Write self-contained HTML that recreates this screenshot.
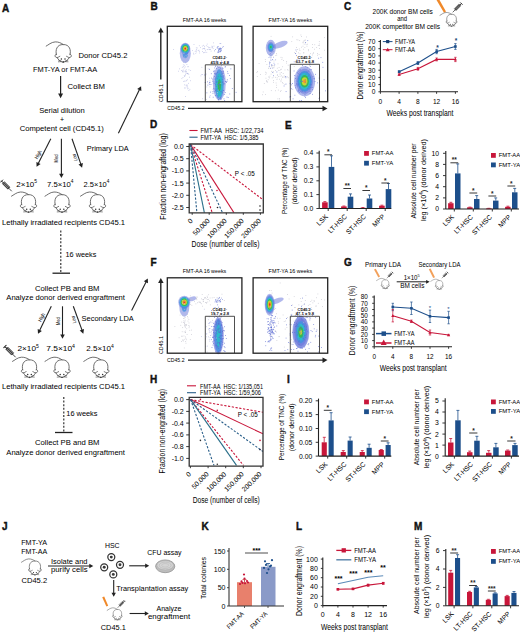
<!DOCTYPE html>
<html><head><meta charset="utf-8"><style>
html,body{margin:0;padding:0;background:#fff;}
svg{display:block;font-family:"Liberation Sans", sans-serif;}
</style></head><body>
<svg width="520" height="632" viewBox="0 0 520 632">

<defs>
<g id="mouse" fill="none" stroke="#555" stroke-width="0.85" stroke-linecap="round" stroke-linejoin="round">
  <path d="M0,4.6 C2,3.6 5,0.6 9,0.4 C12,0.3 15,1.4 17,3"/>
  <path d="M10.2,13.2 C9,8.6 10.5,3 17,3 C23.5,3 25,8.6 23.8,13.2"/>
  <path d="M10.2,12.6 C8.2,13 8.3,15.9 10.8,16 C12,16.1 12.6,15.1 13.6,14.8 M23.8,12.6 C25.8,13 25.7,15.9 23.2,16 C22,16.1 21.4,15.1 20.4,14.8"/>
  <path d="M10.8,16 C12,18.3 14.5,20.3 17,20.8 C19.5,20.3 22,18.3 23.2,16"/>
  <path d="M12.3,18.6 L15,19.6 M12.2,20.3 L15,20.1 M21.7,18.6 L19,19.6 M21.8,20.3 L19,20.1" stroke-width="0.7"/>
  <circle cx="15.2" cy="17.6" r="0.75" fill="#333" stroke="none"/><circle cx="18.8" cy="17.6" r="0.75" fill="#333" stroke="none"/>
  <circle cx="17" cy="20.4" r="0.8" fill="#333" stroke="none"/>
</g>
<g id="syr" stroke-linecap="round">
  <path d="M0.2,2.4 L2.4,0.2 M1.3,1.3 L3,3" stroke="#222" stroke-width="1" fill="none"/>
  <path d="M3.9,2.1 L2.1,3.9 L7.6,9.4 L9.4,7.6 Z" fill="#444" stroke="#222" stroke-width="0.6"/>
  <path d="M3.6,4 L7.6,8" stroke="#bbb" stroke-width="0.6"/>
  <path d="M8.6,8.6 L11.2,11.2" stroke="#222" stroke-width="0.8" fill="none"/>
</g>
<filter id="bl" x="-50%" y="-50%" width="200%" height="200%"><feGaussianBlur stdDeviation="0.6"/></filter>
<radialGradient id="hot1" cx="0.5" cy="0.45" r="0.5">
  <stop offset="0" stop-color="#e8201c"/>
  <stop offset="0.15" stop-color="#f2c21a"/>
  <stop offset="0.32" stop-color="#2db04a"/>
  <stop offset="0.55" stop-color="#22a6c8"/>
  <stop offset="0.8" stop-color="#2b4fb8" stop-opacity="0.85"/>
  <stop offset="1" stop-color="#3a50c0" stop-opacity="0"/>
</radialGradient>
<radialGradient id="grn" cx="0.5" cy="0.5" r="0.5">
  <stop offset="0" stop-color="#23b04e"/>
  <stop offset="0.35" stop-color="#1fa7b0"/>
  <stop offset="0.7" stop-color="#2a52c0" stop-opacity="0.9"/>
  <stop offset="1" stop-color="#3a50c0" stop-opacity="0"/>
</radialGradient>
<radialGradient id="yel" cx="0.5" cy="0.5" r="0.5">
  <stop offset="0" stop-color="#f0a020"/>
  <stop offset="0.12" stop-color="#c8d020"/>
  <stop offset="0.35" stop-color="#2eb24a"/>
  <stop offset="0.6" stop-color="#1e9cc8"/>
  <stop offset="0.85" stop-color="#2a4ec0" stop-opacity="0.85"/>
  <stop offset="1" stop-color="#3a50c0" stop-opacity="0"/>
</radialGradient>
<radialGradient id="blu" cx="0.5" cy="0.5" r="0.5">
  <stop offset="0" stop-color="#2a7ad0"/>
  <stop offset="0.6" stop-color="#2a52c0" stop-opacity="0.7"/>
  <stop offset="1" stop-color="#3a50c0" stop-opacity="0"/>
</radialGradient>
</defs>

<rect width="520" height="632" fill="#fff"/>
<text x="2.0" y="12.2" font-size="10" font-weight="bold" fill="#111" stroke="#111" stroke-width="0.4">A</text>
<use href="#mouse" transform="translate(46.2 41.5) scale(1.0)"/>
<text x="78.5" y="57.5" font-size="7.5" textLength="49.0" lengthAdjust="spacingAndGlyphs">Donor CD45.2</text>
<text x="33.0" y="71.8" font-size="7.5" textLength="64.3" lengthAdjust="spacingAndGlyphs">FMT-YA or FMT-AA</text>
<line x1="60.6" y1="76.0" x2="60.6" y2="94.5" stroke="#222" stroke-width="1.2"/>
<polygon points="60.6,98.2 58.1,93.6 63.1,93.6" fill="#222"/>
<text x="67.5" y="88.7" font-size="7.5" textLength="37.4" lengthAdjust="spacingAndGlyphs">Collect BM</text>
<text x="39.3" y="113.0" font-size="7.5" textLength="45.5" lengthAdjust="spacingAndGlyphs">Serial dilution</text>
<text x="62.0" y="121.6" font-size="7" text-anchor="middle">+</text>
<text x="19.7" y="131.4" font-size="7.5" textLength="84.2" lengthAdjust="spacingAndGlyphs">Competent cell (CD45.1)</text>
<line x1="50.8" y1="138.7" x2="38.1" y2="163.8" stroke="#222" stroke-width="1.1"/>
<polygon points="36.6,166.8 36.4,162.0 40.6,164.1" fill="#222"/>
<line x1="61.4" y1="138.7" x2="61.4" y2="174.6" stroke="#222" stroke-width="1.1"/>
<polygon points="61.4,178.0 59.1,173.8 63.7,173.8" fill="#222"/>
<line x1="72.0" y1="138.7" x2="81.0" y2="164.6" stroke="#222" stroke-width="1.1"/>
<polygon points="82.1,167.8 78.5,164.6 82.9,163.1" fill="#222"/>
<text x="39.8" y="155.5" font-size="5.2" text-anchor="middle" textLength="9.0" lengthAdjust="spacingAndGlyphs" transform="rotate(-61 39.8 155.5)">High</text>
<text x="58.3" y="158.5" font-size="5.2" text-anchor="middle" textLength="8.0" lengthAdjust="spacingAndGlyphs" transform="rotate(-90 58.3 158.5)">Med</text>
<text x="76.5" y="156.9" font-size="5.2" text-anchor="middle" textLength="7.5" lengthAdjust="spacingAndGlyphs" transform="rotate(-105 76.5 156.9)">Low</text>
<text x="86.8" y="151.3" font-size="7.5" textLength="41.9" lengthAdjust="spacingAndGlyphs">Primary LDA</text>
<line x1="118.4" y1="133.3" x2="139.6" y2="89.2" stroke="#222" stroke-width="1.1"/>
<polygon points="141.1,86.2 141.4,91.0 137.2,89.0" fill="#222"/>
<text x="16.3" y="186.6" font-size="7.5" textLength="20.8" lengthAdjust="spacingAndGlyphs">2×10<tspan font-size="4.7" dy="-3.4">5</tspan></text>
<text x="47.0" y="186.6" font-size="7.5" textLength="26.5" lengthAdjust="spacingAndGlyphs">7.5×10<tspan font-size="4.7" dy="-3.4">4</tspan></text>
<text x="83.6" y="186.6" font-size="7.5" textLength="25.8" lengthAdjust="spacingAndGlyphs">2.5×10<tspan font-size="4.7" dy="-3.4">4</tspan></text>
<use href="#syr" transform="translate(0.3 179.8) scale(1.0)"/>
<use href="#mouse" transform="translate(11.5 191.6) scale(1.0)"/>
<use href="#mouse" transform="translate(45.0 191.6) scale(1.0)"/>
<use href="#mouse" transform="translate(80.5 191.6) scale(1.0)"/>
<text x="2.0" y="225.2" font-size="7.5" textLength="123.0" lengthAdjust="spacingAndGlyphs">Lethally irradiated recipients CD45.1</text>
<line x1="60.8" y1="230.5" x2="60.8" y2="272.5" stroke="#222" stroke-width="1.1" stroke-dasharray="2,1.6"/>
<text x="65.5" y="257.0" font-size="7.5" textLength="30.8" lengthAdjust="spacingAndGlyphs">16 weeks</text>
<line x1="52.5" y1="273.2" x2="70.0" y2="273.2" stroke="#222" stroke-width="1.3"/>
<text x="35.0" y="290.5" font-size="7.5" textLength="64.5" lengthAdjust="spacingAndGlyphs">Collect PB and BM</text>
<text x="6.3" y="300.0" font-size="7.5" textLength="118.7" lengthAdjust="spacingAndGlyphs">Analyze donor derived engraftment</text>
<line x1="51.3" y1="306.3" x2="39.5" y2="330.8" stroke="#222" stroke-width="1.1"/>
<polygon points="38.0,333.8 37.7,329.0 41.9,331.0" fill="#222"/>
<line x1="62.5" y1="306.3" x2="62.5" y2="335.4" stroke="#222" stroke-width="1.1"/>
<polygon points="62.5,338.8 60.2,334.6 64.8,334.6" fill="#222"/>
<line x1="73.3" y1="306.3" x2="82.2" y2="330.6" stroke="#222" stroke-width="1.1"/>
<polygon points="83.3,333.8 79.7,330.6 84.0,329.1" fill="#222"/>
<text x="43.1" y="318.2" font-size="5.2" text-anchor="middle" textLength="9.0" lengthAdjust="spacingAndGlyphs" transform="rotate(-61 43.1 318.2)">High</text>
<text x="59.9" y="321.1" font-size="5.2" text-anchor="middle" textLength="8.0" lengthAdjust="spacingAndGlyphs" transform="rotate(-90 59.9 321.1)">Med</text>
<text x="75.4" y="319.0" font-size="5.2" text-anchor="middle" textLength="7.5" lengthAdjust="spacingAndGlyphs" transform="rotate(-105 75.4 319.0)">Low</text>
<text x="81.6" y="320.5" font-size="7.5" textLength="52.2" lengthAdjust="spacingAndGlyphs">Secondary LDA</text>
<line x1="131.6" y1="310.5" x2="146.3" y2="281.5" stroke="#222" stroke-width="1.1"/>
<polygon points="147.8,278.5 148.0,283.3 143.8,281.2" fill="#222"/>
<text x="17.5" y="351.0" font-size="7.5" textLength="21.3" lengthAdjust="spacingAndGlyphs">2×10<tspan font-size="4.7" dy="-3.4">5</tspan></text>
<text x="46.3" y="351.0" font-size="7.5" textLength="28.7" lengthAdjust="spacingAndGlyphs">7.5×10<tspan font-size="4.7" dy="-3.4">4</tspan></text>
<text x="86.3" y="351.0" font-size="7.5" textLength="27.5" lengthAdjust="spacingAndGlyphs">2.5×10<tspan font-size="4.7" dy="-3.4">4</tspan></text>
<use href="#syr" transform="translate(3.6 345.2) scale(1.05)"/>
<use href="#mouse" transform="translate(12.5 356.8) scale(1.0)"/>
<use href="#mouse" transform="translate(45.0 356.8) scale(1.0)"/>
<use href="#mouse" transform="translate(83.8 356.8) scale(1.0)"/>
<text x="2.0" y="389.3" font-size="7.5" textLength="123.0" lengthAdjust="spacingAndGlyphs">Lethally irradiated recipients CD45.1</text>
<line x1="63.8" y1="397.0" x2="63.8" y2="432.0" stroke="#222" stroke-width="1.1" stroke-dasharray="2,1.6"/>
<text x="66.3" y="415.8" font-size="7.5" textLength="31.2" lengthAdjust="spacingAndGlyphs">16 weeks</text>
<line x1="55.0" y1="432.5" x2="72.5" y2="432.5" stroke="#222" stroke-width="1.3"/>
<text x="35.0" y="445.3" font-size="7.5" textLength="64.5" lengthAdjust="spacingAndGlyphs">Collect PB and BM</text>
<text x="6.3" y="454.5" font-size="7.5" textLength="118.7" lengthAdjust="spacingAndGlyphs">Analyze donor derived engraftment</text>
<text x="150.6" y="10.2" font-size="10" font-weight="bold" fill="#111" stroke="#111" stroke-width="0.4">B</text>
<text x="182.8" y="21.8" font-size="6.2" textLength="43.5" lengthAdjust="spacingAndGlyphs">FMT-AA 16 weeks</text>
<g transform="translate(167.3 26.3)"><g filter="url(#bl)" opacity="0.95"><ellipse cx="18.0" cy="27.0" rx="5.50" ry="10.00" fill="#5a6ad8" fill-opacity="0.5"/><ellipse cx="18.0" cy="27.0" rx="2.75" ry="5.00" fill="#3a8ee0" fill-opacity="0.8"/><ellipse cx="18.0" cy="22.3" rx="5.00" ry="5.80" fill="#5a6ad8" fill-opacity="0.5"/><ellipse cx="18.0" cy="22.3" rx="4.29" ry="4.97" fill="#3a8ee0" fill-opacity="0.8"/><ellipse cx="18.0" cy="22.3" rx="3.57" ry="4.14" fill="#22b8c8" fill-opacity="1"/><ellipse cx="18.0" cy="22.3" rx="2.86" ry="3.31" fill="#2cb84a" fill-opacity="1"/><ellipse cx="18.0" cy="22.3" rx="2.14" ry="2.49" fill="#c8d428" fill-opacity="1"/><ellipse cx="18.0" cy="22.3" rx="1.43" ry="1.66" fill="#f09020" fill-opacity="1"/><ellipse cx="18.0" cy="22.3" rx="0.71" ry="0.83" fill="#e02020" fill-opacity="1"/><ellipse cx="52.0" cy="57.0" rx="6.50" ry="17.00" fill="#5a6ad8" fill-opacity="0.5"/><ellipse cx="52.0" cy="58.0" rx="4.50" ry="15.00" fill="#3a8ee0" fill-opacity="0.8"/><ellipse cx="52.0" cy="59.0" rx="3.20" ry="12.00" fill="#22b8c8" fill-opacity="1"/><ellipse cx="52.0" cy="59.0" rx="1.60" ry="6.00" fill="#2cb84a" fill-opacity="1"/></g><rect x="21.2" y="63.8" width="0.75" height="0.75" fill="#b4b8e0"/><rect x="18.2" y="35.1" width="0.75" height="0.75" fill="#b4b8e0"/><rect x="15.3" y="45.4" width="0.75" height="0.75" fill="#b4b8e0"/><rect x="15.4" y="26.3" width="0.75" height="0.75" fill="#b4b8e0"/><rect x="18.5" y="46.7" width="0.75" height="0.75" fill="#b4b8e0"/><rect x="19.4" y="33.1" width="0.75" height="0.75" fill="#b4b8e0"/><rect x="18.0" y="44.2" width="0.75" height="0.75" fill="#b4b8e0"/><rect x="14.2" y="52.0" width="0.75" height="0.75" fill="#b4b8e0"/><rect x="18.5" y="43.1" width="0.75" height="0.75" fill="#b4b8e0"/><rect x="21.1" y="47.6" width="0.75" height="0.75" fill="#b4b8e0"/><rect x="20.3" y="40.2" width="0.75" height="0.75" fill="#b4b8e0"/><rect x="18.5" y="58.3" width="0.75" height="0.75" fill="#b4b8e0"/><rect x="19.7" y="46.7" width="0.75" height="0.75" fill="#b4b8e0"/><rect x="15.3" y="50.8" width="0.75" height="0.75" fill="#b4b8e0"/><rect x="18.2" y="54.4" width="0.75" height="0.75" fill="#b4b8e0"/><rect x="18.5" y="59.1" width="0.75" height="0.75" fill="#b4b8e0"/><rect x="17.9" y="47.6" width="0.75" height="0.75" fill="#b4b8e0"/><rect x="19.7" y="30.9" width="0.75" height="0.75" fill="#b4b8e0"/><rect x="17.0" y="38.5" width="0.75" height="0.75" fill="#b4b8e0"/><rect x="23.0" y="43.8" width="0.75" height="0.75" fill="#b4b8e0"/><rect x="19.6" y="53.1" width="0.75" height="0.75" fill="#b4b8e0"/><rect x="17.3" y="24.8" width="0.75" height="0.75" fill="#b4b8e0"/><rect x="20.4" y="39.7" width="0.75" height="0.75" fill="#b4b8e0"/><rect x="19.8" y="28.0" width="0.75" height="0.75" fill="#b4b8e0"/><rect x="16.9" y="61.3" width="0.75" height="0.75" fill="#b4b8e0"/><rect x="21.6" y="28.1" width="0.75" height="0.75" fill="#b4b8e0"/><rect x="14.7" y="44.4" width="0.75" height="0.75" fill="#b4b8e0"/><rect x="19.8" y="47.1" width="0.75" height="0.75" fill="#b4b8e0"/><rect x="18.8" y="32.1" width="0.75" height="0.75" fill="#b4b8e0"/><rect x="19.5" y="59.5" width="0.75" height="0.75" fill="#b4b8e0"/><rect x="16.9" y="26.4" width="0.75" height="0.75" fill="#b4b8e0"/><rect x="16.1" y="54.9" width="0.75" height="0.75" fill="#b4b8e0"/><rect x="13.7" y="43.8" width="0.75" height="0.75" fill="#b4b8e0"/><rect x="15.5" y="43.3" width="0.75" height="0.75" fill="#b4b8e0"/><rect x="17.4" y="45.2" width="0.75" height="0.75" fill="#b4b8e0"/><rect x="21.8" y="50.5" width="0.75" height="0.75" fill="#b4b8e0"/><rect x="21.3" y="43.2" width="0.75" height="0.75" fill="#b4b8e0"/><rect x="16.8" y="49.9" width="0.75" height="0.75" fill="#b4b8e0"/><rect x="10.9" y="44.5" width="0.75" height="0.75" fill="#b4b8e0"/><rect x="18.4" y="28.9" width="0.75" height="0.75" fill="#b4b8e0"/><rect x="19.2" y="37.7" width="0.75" height="0.75" fill="#b4b8e0"/><rect x="11.9" y="42.2" width="0.75" height="0.75" fill="#b4b8e0"/><rect x="15.6" y="38.2" width="0.75" height="0.75" fill="#b4b8e0"/><rect x="17.6" y="61.3" width="0.75" height="0.75" fill="#b4b8e0"/><rect x="18.3" y="44.6" width="0.75" height="0.75" fill="#b4b8e0"/><rect x="19.0" y="21.4" width="0.75" height="0.75" fill="#b4b8e0"/><rect x="21.1" y="31.0" width="0.75" height="0.75" fill="#b4b8e0"/><rect x="19.1" y="30.4" width="0.75" height="0.75" fill="#b4b8e0"/><rect x="15.6" y="39.8" width="0.75" height="0.75" fill="#b4b8e0"/><rect x="22.7" y="54.1" width="0.75" height="0.75" fill="#b4b8e0"/><rect x="16.5" y="41.3" width="0.75" height="0.75" fill="#b4b8e0"/><rect x="15.1" y="44.6" width="0.75" height="0.75" fill="#b4b8e0"/><rect x="16.6" y="54.4" width="0.75" height="0.75" fill="#b4b8e0"/><rect x="14.6" y="40.6" width="0.75" height="0.75" fill="#b4b8e0"/><rect x="15.9" y="35.7" width="0.75" height="0.75" fill="#b4b8e0"/><rect x="19.8" y="46.6" width="0.75" height="0.75" fill="#b4b8e0"/><rect x="19.5" y="60.5" width="0.75" height="0.75" fill="#b4b8e0"/><rect x="20.9" y="27.2" width="0.75" height="0.75" fill="#b4b8e0"/><rect x="19.3" y="22.1" width="0.75" height="0.75" fill="#b4b8e0"/><rect x="17.8" y="69.9" width="0.75" height="0.75" fill="#b4b8e0"/><rect x="17.5" y="40.2" width="0.75" height="0.75" fill="#b4b8e0"/><rect x="18.4" y="45.2" width="0.75" height="0.75" fill="#b4b8e0"/><rect x="18.1" y="35.2" width="0.75" height="0.75" fill="#b4b8e0"/><rect x="20.7" y="56.6" width="0.75" height="0.75" fill="#b4b8e0"/><rect x="17.5" y="49.1" width="0.75" height="0.75" fill="#b4b8e0"/><rect x="19.6" y="58.4" width="0.75" height="0.75" fill="#b4b8e0"/><rect x="19.0" y="54.0" width="0.75" height="0.75" fill="#b4b8e0"/><rect x="17.3" y="31.1" width="0.75" height="0.75" fill="#b4b8e0"/><rect x="16.8" y="58.2" width="0.75" height="0.75" fill="#b4b8e0"/><rect x="20.4" y="46.9" width="0.75" height="0.75" fill="#b4b8e0"/><rect x="16.6" y="49.0" width="0.75" height="0.75" fill="#b4b8e0"/><rect x="22.2" y="62.6" width="0.75" height="0.75" fill="#b4b8e0"/><rect x="16.3" y="44.4" width="0.75" height="0.75" fill="#b4b8e0"/><rect x="14.4" y="30.2" width="0.75" height="0.75" fill="#b4b8e0"/><rect x="18.5" y="45.3" width="0.75" height="0.75" fill="#b4b8e0"/><rect x="20.4" y="61.5" width="0.75" height="0.75" fill="#b4b8e0"/><rect x="20.1" y="62.2" width="0.75" height="0.75" fill="#b4b8e0"/><rect x="16.6" y="30.3" width="0.75" height="0.75" fill="#b4b8e0"/><rect x="38.6" y="19.1" width="0.75" height="0.75" fill="#b4b8e0"/><rect x="37.4" y="25.6" width="0.75" height="0.75" fill="#b4b8e0"/><rect x="24.7" y="24.0" width="0.75" height="0.75" fill="#b4b8e0"/><rect x="28.9" y="25.2" width="0.75" height="0.75" fill="#b4b8e0"/><rect x="42.9" y="22.8" width="0.75" height="0.75" fill="#b4b8e0"/><rect x="55.0" y="21.0" width="0.75" height="0.75" fill="#b4b8e0"/><rect x="28.1" y="26.6" width="0.75" height="0.75" fill="#b4b8e0"/><rect x="26.2" y="27.5" width="0.75" height="0.75" fill="#b4b8e0"/><rect x="34.6" y="19.4" width="0.75" height="0.75" fill="#b4b8e0"/><rect x="35.0" y="22.3" width="0.75" height="0.75" fill="#b4b8e0"/><rect x="37.0" y="21.5" width="0.75" height="0.75" fill="#b4b8e0"/><rect x="45.8" y="16.2" width="0.75" height="0.75" fill="#b4b8e0"/><rect x="29.5" y="21.3" width="0.75" height="0.75" fill="#b4b8e0"/><rect x="53.2" y="17.0" width="0.75" height="0.75" fill="#b4b8e0"/><rect x="31.6" y="19.1" width="0.75" height="0.75" fill="#b4b8e0"/><rect x="28.4" y="23.6" width="0.75" height="0.75" fill="#b4b8e0"/><rect x="39.1" y="25.6" width="0.75" height="0.75" fill="#b4b8e0"/><rect x="29.0" y="22.7" width="0.75" height="0.75" fill="#b4b8e0"/><rect x="46.7" y="24.3" width="0.75" height="0.75" fill="#b4b8e0"/><rect x="31.6" y="24.8" width="0.75" height="0.75" fill="#b4b8e0"/><rect x="25.8" y="26.5" width="0.75" height="0.75" fill="#b4b8e0"/><rect x="36.5" y="21.7" width="0.75" height="0.75" fill="#b4b8e0"/><rect x="37.7" y="24.1" width="0.75" height="0.75" fill="#b4b8e0"/><rect x="52.4" y="21.6" width="0.75" height="0.75" fill="#b4b8e0"/><rect x="31.3" y="23.5" width="0.75" height="0.75" fill="#b4b8e0"/><rect x="26.3" y="17.8" width="0.75" height="0.75" fill="#b4b8e0"/><rect x="43.4" y="21.1" width="0.75" height="0.75" fill="#b4b8e0"/><rect x="46.3" y="19.4" width="0.75" height="0.75" fill="#b4b8e0"/><rect x="6.0" y="22.7" width="0.75" height="0.75" fill="#b4b8e0"/><rect x="36.5" y="26.0" width="0.75" height="0.75" fill="#b4b8e0"/><rect x="40.3" y="22.8" width="0.75" height="0.75" fill="#b4b8e0"/><rect x="40.9" y="21.1" width="0.75" height="0.75" fill="#b4b8e0"/><rect x="35.8" y="18.6" width="0.75" height="0.75" fill="#b4b8e0"/><rect x="40.2" y="20.0" width="0.75" height="0.75" fill="#b4b8e0"/><rect x="30.5" y="23.7" width="0.75" height="0.75" fill="#b4b8e0"/><rect x="44.2" y="19.5" width="0.75" height="0.75" fill="#b4b8e0"/><rect x="55.0" y="20.5" width="0.75" height="0.75" fill="#b4b8e0"/><rect x="43.4" y="24.4" width="0.75" height="0.75" fill="#b4b8e0"/><rect x="37.2" y="22.4" width="0.75" height="0.75" fill="#b4b8e0"/><rect x="53.0" y="24.2" width="0.75" height="0.75" fill="#b4b8e0"/><rect x="39.5" y="17.4" width="0.75" height="0.75" fill="#b4b8e0"/><rect x="27.5" y="24.9" width="0.75" height="0.75" fill="#b4b8e0"/><rect x="36.9" y="19.6" width="0.75" height="0.75" fill="#b4b8e0"/><rect x="28.6" y="21.2" width="0.75" height="0.75" fill="#b4b8e0"/><rect x="41.9" y="23.0" width="0.75" height="0.75" fill="#b4b8e0"/><rect x="45.0" y="20.0" width="0.75" height="0.75" fill="#b4b8e0"/><rect x="44.9" y="20.7" width="0.75" height="0.75" fill="#b4b8e0"/><rect x="32.0" y="26.3" width="0.75" height="0.75" fill="#b4b8e0"/><rect x="35.7" y="21.7" width="0.75" height="0.75" fill="#b4b8e0"/><rect x="32.9" y="21.0" width="0.75" height="0.75" fill="#b4b8e0"/><rect x="50.6" y="25.4" width="0.75" height="0.75" fill="#b4b8e0"/><rect x="42.2" y="22.5" width="0.75" height="0.75" fill="#b4b8e0"/><rect x="45.4" y="21.8" width="0.75" height="0.75" fill="#b4b8e0"/><rect x="39.5" y="23.0" width="0.75" height="0.75" fill="#b4b8e0"/><rect x="35.9" y="26.1" width="0.75" height="0.75" fill="#b4b8e0"/><rect x="52.6" y="25.3" width="0.75" height="0.75" fill="#b4b8e0"/><rect x="15.9" y="26.6" width="0.75" height="0.75" fill="#b4b8e0"/><rect x="42.0" y="20.9" width="0.75" height="0.75" fill="#b4b8e0"/><rect x="34.8" y="24.8" width="0.75" height="0.75" fill="#b4b8e0"/><rect x="46.7" y="24.1" width="0.75" height="0.75" fill="#b4b8e0"/><rect x="51.8" y="22.6" width="0.75" height="0.75" fill="#7a88d8"/><rect x="53.0" y="22.3" width="0.75" height="0.75" fill="#7a88d8"/><rect x="49.9" y="21.3" width="0.75" height="0.75" fill="#7a88d8"/><rect x="51.2" y="23.2" width="0.75" height="0.75" fill="#7a88d8"/><rect x="55.6" y="19.8" width="0.75" height="0.75" fill="#7a88d8"/><rect x="52.4" y="22.3" width="0.75" height="0.75" fill="#7a88d8"/><rect x="52.0" y="25.2" width="0.75" height="0.75" fill="#7a88d8"/><rect x="53.7" y="22.2" width="0.75" height="0.75" fill="#7a88d8"/><rect x="50.5" y="19.8" width="0.75" height="0.75" fill="#7a88d8"/><rect x="51.4" y="25.0" width="0.75" height="0.75" fill="#7a88d8"/><rect x="51.0" y="23.9" width="0.75" height="0.75" fill="#7a88d8"/><rect x="52.8" y="23.3" width="0.75" height="0.75" fill="#7a88d8"/><rect x="53.5" y="22.3" width="0.75" height="0.75" fill="#7a88d8"/><rect x="50.0" y="20.2" width="0.75" height="0.75" fill="#7a88d8"/><rect x="53.2" y="21.8" width="0.75" height="0.75" fill="#7a88d8"/><rect x="50.9" y="24.2" width="0.75" height="0.75" fill="#7a88d8"/><rect x="50.1" y="26.0" width="0.75" height="0.75" fill="#7a88d8"/><rect x="52.7" y="21.4" width="0.75" height="0.75" fill="#7a88d8"/><rect x="50.4" y="24.7" width="0.75" height="0.75" fill="#7a88d8"/><rect x="49.4" y="21.2" width="0.75" height="0.75" fill="#7a88d8"/><rect x="51.5" y="22.9" width="0.75" height="0.75" fill="#7a88d8"/><rect x="51.5" y="23.3" width="0.75" height="0.75" fill="#7a88d8"/><rect x="50.8" y="22.3" width="0.75" height="0.75" fill="#7a88d8"/><rect x="53.8" y="23.8" width="0.75" height="0.75" fill="#7a88d8"/><rect x="50.7" y="25.9" width="0.75" height="0.75" fill="#7a88d8"/><rect x="47.9" y="22.7" width="0.75" height="0.75" fill="#7a88d8"/><rect x="52.7" y="24.4" width="0.75" height="0.75" fill="#7a88d8"/><rect x="51.7" y="21.7" width="0.75" height="0.75" fill="#7a88d8"/><rect x="52.6" y="22.1" width="0.75" height="0.75" fill="#7a88d8"/><rect x="52.4" y="16.8" width="0.75" height="0.75" fill="#7a88d8"/><rect x="54.3" y="47.5" width="0.75" height="0.75" fill="#5a6ad0"/><rect x="57.6" y="66.0" width="0.75" height="0.75" fill="#5a6ad0"/><rect x="56.4" y="52.1" width="0.75" height="0.75" fill="#5a6ad0"/><rect x="54.6" y="52.9" width="0.75" height="0.75" fill="#5a6ad0"/><rect x="53.3" y="55.4" width="0.75" height="0.75" fill="#5a6ad0"/><rect x="56.3" y="32.3" width="0.75" height="0.75" fill="#5a6ad0"/><rect x="57.4" y="40.3" width="0.75" height="0.75" fill="#5a6ad0"/><rect x="50.6" y="50.0" width="0.75" height="0.75" fill="#5a6ad0"/><rect x="48.8" y="59.9" width="0.75" height="0.75" fill="#5a6ad0"/><rect x="50.0" y="39.6" width="0.75" height="0.75" fill="#5a6ad0"/><rect x="52.0" y="61.4" width="0.75" height="0.75" fill="#5a6ad0"/><rect x="62.6" y="52.0" width="0.75" height="0.75" fill="#5a6ad0"/><rect x="44.9" y="52.4" width="0.75" height="0.75" fill="#5a6ad0"/><rect x="55.9" y="46.4" width="0.75" height="0.75" fill="#5a6ad0"/><rect x="47.7" y="63.6" width="0.75" height="0.75" fill="#5a6ad0"/><rect x="51.9" y="59.7" width="0.75" height="0.75" fill="#5a6ad0"/><rect x="48.2" y="47.1" width="0.75" height="0.75" fill="#5a6ad0"/><rect x="50.1" y="55.2" width="0.75" height="0.75" fill="#5a6ad0"/><rect x="50.0" y="62.2" width="0.75" height="0.75" fill="#5a6ad0"/><rect x="55.3" y="63.6" width="0.75" height="0.75" fill="#5a6ad0"/><rect x="54.9" y="46.4" width="0.75" height="0.75" fill="#5a6ad0"/><rect x="45.3" y="66.6" width="0.75" height="0.75" fill="#5a6ad0"/><rect x="52.1" y="58.5" width="0.75" height="0.75" fill="#5a6ad0"/><rect x="45.0" y="54.5" width="0.75" height="0.75" fill="#5a6ad0"/><rect x="48.2" y="46.6" width="0.75" height="0.75" fill="#5a6ad0"/><rect x="48.2" y="39.1" width="0.75" height="0.75" fill="#5a6ad0"/><rect x="52.5" y="71.0" width="0.75" height="0.75" fill="#5a6ad0"/><rect x="47.8" y="58.1" width="0.75" height="0.75" fill="#5a6ad0"/><rect x="45.4" y="65.1" width="0.75" height="0.75" fill="#5a6ad0"/><rect x="63.2" y="42.2" width="0.75" height="0.75" fill="#5a6ad0"/><rect x="54.2" y="58.4" width="0.75" height="0.75" fill="#5a6ad0"/><rect x="39.7" y="55.2" width="0.75" height="0.75" fill="#5a6ad0"/><rect x="55.8" y="50.0" width="0.75" height="0.75" fill="#5a6ad0"/><rect x="47.9" y="35.2" width="0.75" height="0.75" fill="#5a6ad0"/><rect x="45.5" y="70.5" width="0.75" height="0.75" fill="#5a6ad0"/><rect x="51.3" y="40.9" width="0.75" height="0.75" fill="#5a6ad0"/><rect x="59.9" y="36.9" width="0.75" height="0.75" fill="#5a6ad0"/><rect x="59.6" y="53.1" width="0.75" height="0.75" fill="#5a6ad0"/><rect x="54.0" y="65.2" width="0.75" height="0.75" fill="#5a6ad0"/><rect x="53.6" y="72.3" width="0.75" height="0.75" fill="#5a6ad0"/><rect x="52.1" y="53.1" width="0.75" height="0.75" fill="#5a6ad0"/><rect x="48.0" y="39.7" width="0.75" height="0.75" fill="#5a6ad0"/><rect x="47.8" y="68.8" width="0.75" height="0.75" fill="#5a6ad0"/><rect x="57.0" y="73.7" width="0.75" height="0.75" fill="#5a6ad0"/><rect x="68.4" y="65.6" width="0.75" height="0.75" fill="#5a6ad0"/><rect x="55.0" y="41.2" width="0.75" height="0.75" fill="#5a6ad0"/><rect x="55.2" y="55.3" width="0.75" height="0.75" fill="#5a6ad0"/><rect x="53.9" y="34.3" width="0.75" height="0.75" fill="#5a6ad0"/><rect x="47.0" y="41.3" width="0.75" height="0.75" fill="#5a6ad0"/><rect x="39.2" y="66.2" width="0.75" height="0.75" fill="#5a6ad0"/><rect x="57.8" y="54.9" width="0.75" height="0.75" fill="#5a6ad0"/><rect x="54.1" y="44.9" width="0.75" height="0.75" fill="#5a6ad0"/><rect x="54.7" y="66.2" width="0.75" height="0.75" fill="#5a6ad0"/><rect x="54.9" y="55.5" width="0.75" height="0.75" fill="#5a6ad0"/><rect x="47.0" y="49.7" width="0.75" height="0.75" fill="#5a6ad0"/><rect x="55.7" y="63.8" width="0.75" height="0.75" fill="#5a6ad0"/><rect x="55.9" y="57.2" width="0.75" height="0.75" fill="#5a6ad0"/><rect x="50.9" y="57.9" width="0.75" height="0.75" fill="#5a6ad0"/><rect x="46.3" y="45.2" width="0.75" height="0.75" fill="#5a6ad0"/><rect x="54.1" y="50.0" width="0.75" height="0.75" fill="#5a6ad0"/><rect x="50.4" y="71.6" width="0.75" height="0.75" fill="#5a6ad0"/><rect x="50.8" y="72.8" width="0.75" height="0.75" fill="#5a6ad0"/><rect x="54.8" y="35.9" width="0.75" height="0.75" fill="#5a6ad0"/><rect x="59.4" y="54.5" width="0.75" height="0.75" fill="#5a6ad0"/><rect x="40.2" y="58.4" width="0.75" height="0.75" fill="#5a6ad0"/><rect x="52.9" y="41.5" width="0.75" height="0.75" fill="#5a6ad0"/><rect x="48.4" y="63.6" width="0.75" height="0.75" fill="#5a6ad0"/><rect x="60.5" y="70.7" width="0.75" height="0.75" fill="#5a6ad0"/><rect x="59.3" y="70.4" width="0.75" height="0.75" fill="#5a6ad0"/><rect x="37.1" y="48.3" width="0.75" height="0.75" fill="#5a6ad0"/><rect x="53.1" y="24.7" width="0.75" height="0.75" fill="#5a6ad0"/><rect x="56.6" y="67.7" width="0.75" height="0.75" fill="#5a6ad0"/><rect x="47.3" y="52.4" width="0.75" height="0.75" fill="#5a6ad0"/><rect x="46.4" y="56.8" width="0.75" height="0.75" fill="#5a6ad0"/><rect x="51.8" y="56.9" width="0.75" height="0.75" fill="#5a6ad0"/><rect x="45.9" y="61.6" width="0.75" height="0.75" fill="#5a6ad0"/><rect x="50.0" y="68.4" width="0.75" height="0.75" fill="#5a6ad0"/><rect x="53.9" y="39.2" width="0.75" height="0.75" fill="#5a6ad0"/><rect x="43.3" y="57.8" width="0.75" height="0.75" fill="#5a6ad0"/><rect x="49.1" y="62.6" width="0.75" height="0.75" fill="#5a6ad0"/><rect x="56.8" y="57.2" width="0.75" height="0.75" fill="#5a6ad0"/><rect x="41.9" y="42.7" width="0.75" height="0.75" fill="#5a6ad0"/><rect x="55.4" y="44.4" width="0.75" height="0.75" fill="#5a6ad0"/><rect x="58.7" y="55.9" width="0.75" height="0.75" fill="#5a6ad0"/><rect x="55.1" y="46.4" width="0.75" height="0.75" fill="#5a6ad0"/><rect x="51.4" y="21.5" width="0.75" height="0.75" fill="#5a6ad0"/><rect x="50.8" y="63.9" width="0.75" height="0.75" fill="#5a6ad0"/><rect x="46.6" y="46.9" width="0.75" height="0.75" fill="#5a6ad0"/><rect x="51.7" y="57.8" width="0.75" height="0.75" fill="#5a6ad0"/><rect x="47.2" y="65.1" width="0.75" height="0.75" fill="#5a6ad0"/><rect x="42.1" y="70.4" width="0.75" height="0.75" fill="#5a6ad0"/><rect x="43.6" y="47.1" width="0.75" height="0.75" fill="#5a6ad0"/><rect x="60.0" y="45.1" width="0.75" height="0.75" fill="#5a6ad0"/><rect x="42.1" y="57.9" width="0.75" height="0.75" fill="#5a6ad0"/><rect x="46.5" y="43.6" width="0.75" height="0.75" fill="#5a6ad0"/><rect x="47.8" y="48.1" width="0.75" height="0.75" fill="#5a6ad0"/><rect x="46.2" y="44.7" width="0.75" height="0.75" fill="#5a6ad0"/><rect x="61.7" y="48.9" width="0.75" height="0.75" fill="#5a6ad0"/><rect x="57.8" y="40.1" width="0.75" height="0.75" fill="#5a6ad0"/><rect x="55.3" y="42.0" width="0.75" height="0.75" fill="#5a6ad0"/><rect x="49.2" y="64.6" width="0.75" height="0.75" fill="#5a6ad0"/><rect x="48.8" y="33.4" width="0.75" height="0.75" fill="#5a6ad0"/><rect x="48.7" y="55.1" width="0.75" height="0.75" fill="#5a6ad0"/><rect x="55.4" y="45.0" width="0.75" height="0.75" fill="#5a6ad0"/><rect x="50.2" y="57.8" width="0.75" height="0.75" fill="#5a6ad0"/><rect x="42.1" y="55.7" width="0.75" height="0.75" fill="#5a6ad0"/><rect x="47.0" y="62.3" width="0.75" height="0.75" fill="#5a6ad0"/><rect x="51.3" y="55.0" width="0.75" height="0.75" fill="#5a6ad0"/><rect x="37.5" y="55.7" width="0.75" height="0.75" fill="#5a6ad0"/><rect x="49.8" y="45.7" width="0.75" height="0.75" fill="#5a6ad0"/><rect x="48.9" y="41.8" width="0.75" height="0.75" fill="#5a6ad0"/><rect x="53.0" y="64.9" width="0.75" height="0.75" fill="#5a6ad0"/><rect x="55.6" y="50.8" width="0.75" height="0.75" fill="#5a6ad0"/><rect x="62.1" y="67.3" width="0.75" height="0.75" fill="#5a6ad0"/><rect x="46.3" y="55.3" width="0.75" height="0.75" fill="#5a6ad0"/><rect x="42.2" y="55.6" width="0.75" height="0.75" fill="#5a6ad0"/><rect x="56.3" y="72.2" width="0.75" height="0.75" fill="#5a6ad0"/><rect x="49.5" y="35.5" width="0.75" height="0.75" fill="#5a6ad0"/><rect x="51.0" y="73.3" width="0.75" height="0.75" fill="#5a6ad0"/><rect x="52.9" y="72.3" width="0.75" height="0.75" fill="#5a6ad0"/><rect x="55.6" y="49.0" width="0.75" height="0.75" fill="#5a6ad0"/><rect x="48.9" y="34.7" width="0.75" height="0.75" fill="#5a6ad0"/><rect x="64.6" y="61.9" width="0.75" height="0.75" fill="#5a6ad0"/><rect x="48.2" y="49.7" width="0.75" height="0.75" fill="#5a6ad0"/><rect x="42.8" y="65.4" width="0.75" height="0.75" fill="#5a6ad0"/><rect x="52.9" y="49.4" width="0.75" height="0.75" fill="#5a6ad0"/><rect x="49.5" y="51.9" width="0.75" height="0.75" fill="#5a6ad0"/><rect x="58.4" y="54.8" width="0.75" height="0.75" fill="#5a6ad0"/><rect x="60.3" y="46.9" width="0.75" height="0.75" fill="#5a6ad0"/><rect x="48.3" y="51.2" width="0.75" height="0.75" fill="#5a6ad0"/><rect x="48.8" y="55.9" width="0.75" height="0.75" fill="#5a6ad0"/><rect x="51.2" y="72.1" width="0.75" height="0.75" fill="#b4b8e0"/><rect x="38.6" y="72.8" width="0.75" height="0.75" fill="#b4b8e0"/><rect x="44.0" y="51.6" width="0.75" height="0.75" fill="#b4b8e0"/><rect x="49.7" y="66.2" width="0.75" height="0.75" fill="#b4b8e0"/><rect x="42.2" y="60.2" width="0.75" height="0.75" fill="#b4b8e0"/><rect x="45.8" y="63.1" width="0.75" height="0.75" fill="#b4b8e0"/><rect x="34.7" y="47.9" width="0.75" height="0.75" fill="#b4b8e0"/><rect x="45.3" y="62.6" width="0.75" height="0.75" fill="#b4b8e0"/><rect x="41.9" y="42.4" width="0.75" height="0.75" fill="#b4b8e0"/><rect x="53.1" y="56.9" width="0.75" height="0.75" fill="#b4b8e0"/><rect x="51.8" y="70.4" width="0.75" height="0.75" fill="#b4b8e0"/><rect x="50.0" y="65.7" width="0.75" height="0.75" fill="#b4b8e0"/><rect x="39.2" y="60.3" width="0.75" height="0.75" fill="#b4b8e0"/><rect x="47.1" y="66.3" width="0.75" height="0.75" fill="#b4b8e0"/><rect x="47.9" y="49.9" width="0.75" height="0.75" fill="#b4b8e0"/><rect x="41.4" y="56.7" width="0.75" height="0.75" fill="#b4b8e0"/><rect x="43.8" y="51.3" width="0.75" height="0.75" fill="#b4b8e0"/><rect x="34.1" y="47.8" width="0.75" height="0.75" fill="#b4b8e0"/><rect x="46.8" y="59.9" width="0.75" height="0.75" fill="#b4b8e0"/><rect x="48.5" y="41.1" width="0.75" height="0.75" fill="#b4b8e0"/><rect x="42.5" y="68.9" width="0.75" height="0.75" fill="#b4b8e0"/><rect x="33.2" y="49.2" width="0.75" height="0.75" fill="#b4b8e0"/><rect x="35.0" y="72.1" width="0.75" height="0.75" fill="#b4b8e0"/><rect x="45.2" y="54.3" width="0.75" height="0.75" fill="#b4b8e0"/><rect x="45.9" y="59.1" width="0.75" height="0.75" fill="#b4b8e0"/><rect x="50.4" y="71.7" width="0.75" height="0.75" fill="#b4b8e0"/><rect x="50.5" y="63.4" width="0.75" height="0.75" fill="#b4b8e0"/><rect x="49.6" y="68.1" width="0.75" height="0.75" fill="#b4b8e0"/><rect x="52.0" y="41.6" width="0.75" height="0.75" fill="#b4b8e0"/><rect x="47.1" y="60.8" width="0.75" height="0.75" fill="#b4b8e0"/><rect x="46.0" y="57.5" width="0.75" height="0.75" fill="#b4b8e0"/><rect x="44.6" y="64.9" width="0.75" height="0.75" fill="#b4b8e0"/><rect x="46.2" y="61.3" width="0.75" height="0.75" fill="#b4b8e0"/><rect x="38.6" y="47.4" width="0.75" height="0.75" fill="#b4b8e0"/><rect x="40.5" y="42.2" width="0.75" height="0.75" fill="#b4b8e0"/><rect x="41.9" y="51.5" width="0.75" height="0.75" fill="#b4b8e0"/><rect x="34.2" y="40.6" width="0.75" height="0.75" fill="#b4b8e0"/><rect x="42.2" y="54.2" width="0.75" height="0.75" fill="#b4b8e0"/></g>
<rect x="167.3" y="26.3" width="74.6" height="75.4" fill="none" stroke="#222" stroke-width="1.3"/>
<path d="M205.3,101.7 V64.8 H234.3 V101.7" fill="none" stroke="#222" stroke-width="0.8"/>
<text x="219.8" y="59.3" font-size="3.9" text-anchor="middle" textLength="14.6" lengthAdjust="spacingAndGlyphs" font-weight="bold" fill="#111">CD45.2<tspan dy="-1" font-size="2.5">+</tspan></text>
<text x="219.8" y="63.7" font-size="3.9" text-anchor="middle" textLength="18.4" lengthAdjust="spacingAndGlyphs" font-weight="bold" fill="#111">45.6 ± 4.8</text>
<text x="268.6" y="21.8" font-size="6.2" textLength="43.5" lengthAdjust="spacingAndGlyphs">FMT-YA 16 weeks</text>
<g transform="translate(253.1 26.3)"><g filter="url(#bl)" opacity="0.95"><ellipse cx="27.0" cy="18.5" rx="8.00" ry="3.00" fill="#5a6ad8" fill-opacity="0.5" transform="rotate(-20 27.0 18.5)"/><ellipse cx="17.7" cy="21.5" rx="5.00" ry="8.00" fill="#5a6ad8" fill-opacity="0.5"/><ellipse cx="17.7" cy="21.5" rx="2.50" ry="4.00" fill="#3a8ee0" fill-opacity="0.8"/><ellipse cx="17.7" cy="20.8" rx="3.50" ry="5.00" fill="#5a6ad8" fill-opacity="0.5"/><ellipse cx="17.7" cy="20.8" rx="2.62" ry="3.75" fill="#3a8ee0" fill-opacity="0.8"/><ellipse cx="17.7" cy="20.8" rx="1.75" ry="2.50" fill="#22b8c8" fill-opacity="1"/><ellipse cx="17.7" cy="20.8" rx="0.88" ry="1.25" fill="#2cb84a" fill-opacity="1"/><ellipse cx="51.5" cy="55.0" rx="10.50" ry="15.00" fill="#5a6ad8" fill-opacity="0.5"/><ellipse cx="51.5" cy="55.0" rx="7.00" ry="10.00" fill="#3a8ee0" fill-opacity="0.8"/><ellipse cx="51.5" cy="55.0" rx="3.50" ry="5.00" fill="#22b8c8" fill-opacity="1"/><ellipse cx="51.5" cy="55.0" rx="8.50" ry="12.50" fill="#5a6ad8" fill-opacity="0.5"/><ellipse cx="51.5" cy="55.0" rx="7.08" ry="10.42" fill="#3a8ee0" fill-opacity="0.8"/><ellipse cx="51.5" cy="55.0" rx="5.67" ry="8.33" fill="#22b8c8" fill-opacity="1"/><ellipse cx="51.5" cy="55.0" rx="4.25" ry="6.25" fill="#2cb84a" fill-opacity="1"/><ellipse cx="51.5" cy="55.0" rx="2.83" ry="4.17" fill="#c8d428" fill-opacity="1"/><ellipse cx="51.5" cy="55.0" rx="1.42" ry="2.08" fill="#f09020" fill-opacity="1"/></g><rect x="40.7" y="40.0" width="0.75" height="0.75" fill="#c0c0cc"/><rect x="25.2" y="49.8" width="0.75" height="0.75" fill="#c0c0cc"/><rect x="28.7" y="31.2" width="0.75" height="0.75" fill="#c0c0cc"/><rect x="18.7" y="39.0" width="0.75" height="0.75" fill="#c0c0cc"/><rect x="13.4" y="37.9" width="0.75" height="0.75" fill="#c0c0cc"/><rect x="17.9" y="44.6" width="0.75" height="0.75" fill="#c0c0cc"/><rect x="14.7" y="53.1" width="0.75" height="0.75" fill="#c0c0cc"/><rect x="17.6" y="9.6" width="0.75" height="0.75" fill="#c0c0cc"/><rect x="31.5" y="43.3" width="0.75" height="0.75" fill="#c0c0cc"/><rect x="16.1" y="51.2" width="0.75" height="0.75" fill="#c0c0cc"/><rect x="23.8" y="48.6" width="0.75" height="0.75" fill="#c0c0cc"/><rect x="15.2" y="50.3" width="0.75" height="0.75" fill="#c0c0cc"/><rect x="9.7" y="65.3" width="0.75" height="0.75" fill="#c0c0cc"/><rect x="11.9" y="45.5" width="0.75" height="0.75" fill="#c0c0cc"/><rect x="22.2" y="50.6" width="0.75" height="0.75" fill="#c0c0cc"/><rect x="20.0" y="53.8" width="0.75" height="0.75" fill="#c0c0cc"/><rect x="19.7" y="41.2" width="0.75" height="0.75" fill="#c0c0cc"/><rect x="33.2" y="34.7" width="0.75" height="0.75" fill="#c0c0cc"/><rect x="20.3" y="22.0" width="0.75" height="0.75" fill="#c0c0cc"/><rect x="23.1" y="26.9" width="0.75" height="0.75" fill="#c0c0cc"/><rect x="26.6" y="46.3" width="0.75" height="0.75" fill="#c0c0cc"/><rect x="22.3" y="29.0" width="0.75" height="0.75" fill="#c0c0cc"/><rect x="12.5" y="51.5" width="0.75" height="0.75" fill="#c0c0cc"/><rect x="3.8" y="49.7" width="0.75" height="0.75" fill="#c0c0cc"/><rect x="6.9" y="47.9" width="0.75" height="0.75" fill="#c0c0cc"/><rect x="11.9" y="67.7" width="0.75" height="0.75" fill="#c0c0cc"/><rect x="29.2" y="40.1" width="0.75" height="0.75" fill="#c0c0cc"/><rect x="5.6" y="36.9" width="0.75" height="0.75" fill="#c0c0cc"/><rect x="20.5" y="34.3" width="0.75" height="0.75" fill="#c0c0cc"/><rect x="23.2" y="58.5" width="0.75" height="0.75" fill="#c0c0cc"/><rect x="20.5" y="41.1" width="0.75" height="0.75" fill="#c0c0cc"/><rect x="27.3" y="42.8" width="0.75" height="0.75" fill="#c0c0cc"/><rect x="27.8" y="42.5" width="0.75" height="0.75" fill="#c0c0cc"/><rect x="34.1" y="43.0" width="0.75" height="0.75" fill="#c0c0cc"/><rect x="12.3" y="47.6" width="0.75" height="0.75" fill="#c0c0cc"/><rect x="15.8" y="35.0" width="0.75" height="0.75" fill="#c0c0cc"/><rect x="19.9" y="55.6" width="0.75" height="0.75" fill="#c0c0cc"/><rect x="3.4" y="45.9" width="0.75" height="0.75" fill="#c0c0cc"/><rect x="19.7" y="44.7" width="0.75" height="0.75" fill="#c0c0cc"/><rect x="27.5" y="30.6" width="0.75" height="0.75" fill="#c0c0cc"/><rect x="26.4" y="43.7" width="0.75" height="0.75" fill="#c0c0cc"/><rect x="21.9" y="43.8" width="0.75" height="0.75" fill="#c0c0cc"/><rect x="18.3" y="40.1" width="0.75" height="0.75" fill="#c0c0cc"/><rect x="24.4" y="72.2" width="0.75" height="0.75" fill="#c0c0cc"/><rect x="29.6" y="57.0" width="0.75" height="0.75" fill="#c0c0cc"/><rect x="25.6" y="40.9" width="0.75" height="0.75" fill="#c0c0cc"/><rect x="26.1" y="72.0" width="0.75" height="0.75" fill="#c0c0cc"/><rect x="10.8" y="56.9" width="0.75" height="0.75" fill="#c0c0cc"/><rect x="29.4" y="50.3" width="0.75" height="0.75" fill="#c0c0cc"/><rect x="27.6" y="63.8" width="0.75" height="0.75" fill="#c0c0cc"/><rect x="39.3" y="62.8" width="0.75" height="0.75" fill="#c0c0cc"/><rect x="34.8" y="51.1" width="0.75" height="0.75" fill="#c0c0cc"/><rect x="28.1" y="49.2" width="0.75" height="0.75" fill="#c0c0cc"/><rect x="23.8" y="41.5" width="0.75" height="0.75" fill="#c0c0cc"/><rect x="27.0" y="64.8" width="0.75" height="0.75" fill="#c0c0cc"/><rect x="20.2" y="50.3" width="0.75" height="0.75" fill="#c0c0cc"/><rect x="26.6" y="47.6" width="0.75" height="0.75" fill="#c0c0cc"/><rect x="29.2" y="50.5" width="0.75" height="0.75" fill="#c0c0cc"/><rect x="12.1" y="34.9" width="0.75" height="0.75" fill="#c0c0cc"/><rect x="27.5" y="55.1" width="0.75" height="0.75" fill="#c0c0cc"/><rect x="30.6" y="50.5" width="0.75" height="0.75" fill="#c0c0cc"/><rect x="23.3" y="28.4" width="0.75" height="0.75" fill="#c0c0cc"/><rect x="33.0" y="36.4" width="0.75" height="0.75" fill="#c0c0cc"/><rect x="30.1" y="33.7" width="0.75" height="0.75" fill="#c0c0cc"/><rect x="16.4" y="49.5" width="0.75" height="0.75" fill="#c0c0cc"/><rect x="18.3" y="39.1" width="0.75" height="0.75" fill="#c0c0cc"/><rect x="29.0" y="55.8" width="0.75" height="0.75" fill="#c0c0cc"/><rect x="25.0" y="43.6" width="0.75" height="0.75" fill="#c0c0cc"/><rect x="15.1" y="41.9" width="0.75" height="0.75" fill="#c0c0cc"/><rect x="17.6" y="47.4" width="0.75" height="0.75" fill="#c0c0cc"/><rect x="28.0" y="45.7" width="0.75" height="0.75" fill="#c0c0cc"/><rect x="15.4" y="40.3" width="0.75" height="0.75" fill="#c0c0cc"/><rect x="32.2" y="49.7" width="0.75" height="0.75" fill="#c0c0cc"/><rect x="23.7" y="51.2" width="0.75" height="0.75" fill="#c0c0cc"/><rect x="26.6" y="49.5" width="0.75" height="0.75" fill="#c0c0cc"/><rect x="31.4" y="57.7" width="0.75" height="0.75" fill="#c0c0cc"/><rect x="45.6" y="32.4" width="0.75" height="0.75" fill="#c0c0cc"/><rect x="23.0" y="60.9" width="0.75" height="0.75" fill="#c0c0cc"/><rect x="21.9" y="64.1" width="0.75" height="0.75" fill="#c0c0cc"/><rect x="11.8" y="32.9" width="0.75" height="0.75" fill="#c0c0cc"/><rect x="20.4" y="39.1" width="0.75" height="0.75" fill="#c0c0cc"/><rect x="13.3" y="54.8" width="0.75" height="0.75" fill="#c0c0cc"/><rect x="24.1" y="48.1" width="0.75" height="0.75" fill="#c0c0cc"/><rect x="18.7" y="51.2" width="0.75" height="0.75" fill="#c0c0cc"/><rect x="21.0" y="39.2" width="0.75" height="0.75" fill="#c0c0cc"/><rect x="26.1" y="52.5" width="0.75" height="0.75" fill="#c0c0cc"/><rect x="22.6" y="56.3" width="0.75" height="0.75" fill="#c0c0cc"/><rect x="13.1" y="46.3" width="0.75" height="0.75" fill="#c0c0cc"/><rect x="17.8" y="64.0" width="0.75" height="0.75" fill="#c0c0cc"/><rect x="26.1" y="73.4" width="0.75" height="0.75" fill="#c0c0cc"/><rect x="34.6" y="43.5" width="0.75" height="0.75" fill="#c0c0cc"/><rect x="13.2" y="53.8" width="0.75" height="0.75" fill="#c0c0cc"/><rect x="19.7" y="46.1" width="0.75" height="0.75" fill="#c0c0cc"/><rect x="13.5" y="55.2" width="0.75" height="0.75" fill="#c0c0cc"/><rect x="23.5" y="52.8" width="0.75" height="0.75" fill="#c0c0cc"/><rect x="24.5" y="37.2" width="0.75" height="0.75" fill="#c0c0cc"/><rect x="4.1" y="44.7" width="0.75" height="0.75" fill="#c0c0cc"/><rect x="16.9" y="41.7" width="0.75" height="0.75" fill="#c0c0cc"/><rect x="29.7" y="46.8" width="0.75" height="0.75" fill="#c0c0cc"/><rect x="34.1" y="50.2" width="0.75" height="0.75" fill="#c0c0cc"/><rect x="27.5" y="54.1" width="0.75" height="0.75" fill="#c0c0cc"/><rect x="28.4" y="32.9" width="0.75" height="0.75" fill="#c0c0cc"/><rect x="30.7" y="49.3" width="0.75" height="0.75" fill="#c0c0cc"/><rect x="14.2" y="55.4" width="0.75" height="0.75" fill="#c0c0cc"/><rect x="24.8" y="63.4" width="0.75" height="0.75" fill="#c0c0cc"/><rect x="27.9" y="52.4" width="0.75" height="0.75" fill="#c0c0cc"/><rect x="8.9" y="68.1" width="0.75" height="0.75" fill="#c0c0cc"/><rect x="63.9" y="26.7" width="0.75" height="0.75" fill="#c0c0cc"/><rect x="55.7" y="29.3" width="0.75" height="0.75" fill="#c0c0cc"/><rect x="45.1" y="26.2" width="0.75" height="0.75" fill="#c0c0cc"/><rect x="52.2" y="16.0" width="0.75" height="0.75" fill="#c0c0cc"/><rect x="54.9" y="24.1" width="0.75" height="0.75" fill="#c0c0cc"/><rect x="65.6" y="27.7" width="0.75" height="0.75" fill="#c0c0cc"/><rect x="39.2" y="10.2" width="0.75" height="0.75" fill="#c0c0cc"/><rect x="51.4" y="20.7" width="0.75" height="0.75" fill="#c0c0cc"/><rect x="44.5" y="13.3" width="0.75" height="0.75" fill="#c0c0cc"/><rect x="50.4" y="15.1" width="0.75" height="0.75" fill="#c0c0cc"/><rect x="46.5" y="27.2" width="0.75" height="0.75" fill="#c0c0cc"/><rect x="53.9" y="17.5" width="0.75" height="0.75" fill="#c0c0cc"/><rect x="43.0" y="20.9" width="0.75" height="0.75" fill="#c0c0cc"/><rect x="65.9" y="19.0" width="0.75" height="0.75" fill="#c0c0cc"/><rect x="65.8" y="17.3" width="0.75" height="0.75" fill="#c0c0cc"/><rect x="50.3" y="26.2" width="0.75" height="0.75" fill="#c0c0cc"/><rect x="45.8" y="22.3" width="0.75" height="0.75" fill="#c0c0cc"/><rect x="41.2" y="26.0" width="0.75" height="0.75" fill="#c0c0cc"/><rect x="61.3" y="18.1" width="0.75" height="0.75" fill="#c0c0cc"/><rect x="53.5" y="19.5" width="0.75" height="0.75" fill="#c0c0cc"/><rect x="34.7" y="38.5" width="0.75" height="0.75" fill="#c0c0cc"/><rect x="57.0" y="27.0" width="0.75" height="0.75" fill="#c0c0cc"/><rect x="55.1" y="23.0" width="0.75" height="0.75" fill="#c0c0cc"/><rect x="71.0" y="11.0" width="0.75" height="0.75" fill="#c0c0cc"/><rect x="49.5" y="19.5" width="0.75" height="0.75" fill="#c0c0cc"/><rect x="50.3" y="26.2" width="0.75" height="0.75" fill="#c0c0cc"/><rect x="46.2" y="14.0" width="0.75" height="0.75" fill="#c0c0cc"/><rect x="43.0" y="24.7" width="0.75" height="0.75" fill="#c0c0cc"/><rect x="59.6" y="26.8" width="0.75" height="0.75" fill="#c0c0cc"/><rect x="64.8" y="18.9" width="0.75" height="0.75" fill="#c0c0cc"/><rect x="59.9" y="26.1" width="0.75" height="0.75" fill="#c0c0cc"/><rect x="50.7" y="17.5" width="0.75" height="0.75" fill="#c0c0cc"/><rect x="59.0" y="17.9" width="0.75" height="0.75" fill="#c0c0cc"/><rect x="49.6" y="16.2" width="0.75" height="0.75" fill="#c0c0cc"/><rect x="66.0" y="21.7" width="0.75" height="0.75" fill="#c0c0cc"/><rect x="48.0" y="20.5" width="0.75" height="0.75" fill="#c0c0cc"/><rect x="50.2" y="22.5" width="0.75" height="0.75" fill="#c0c0cc"/><rect x="38.3" y="15.0" width="0.75" height="0.75" fill="#c0c0cc"/><rect x="56.0" y="28.5" width="0.75" height="0.75" fill="#c0c0cc"/><rect x="43.9" y="22.7" width="0.75" height="0.75" fill="#c0c0cc"/><rect x="47.4" y="8.3" width="0.75" height="0.75" fill="#c0c0cc"/><rect x="49.5" y="15.5" width="0.75" height="0.75" fill="#c0c0cc"/><rect x="59.0" y="20.7" width="0.75" height="0.75" fill="#c0c0cc"/><rect x="51.7" y="13.2" width="0.75" height="0.75" fill="#c0c0cc"/><rect x="53.1" y="10.3" width="0.75" height="0.75" fill="#c0c0cc"/><rect x="53.7" y="30.3" width="0.75" height="0.75" fill="#c0c0cc"/><rect x="42.3" y="27.1" width="0.75" height="0.75" fill="#c0c0cc"/><rect x="63.2" y="20.8" width="0.75" height="0.75" fill="#c0c0cc"/><rect x="60.9" y="22.5" width="0.75" height="0.75" fill="#c0c0cc"/><rect x="48.0" y="9.9" width="0.75" height="0.75" fill="#c0c0cc"/><rect x="43.4" y="13.1" width="0.75" height="0.75" fill="#c0c0cc"/><rect x="71.1" y="23.5" width="0.75" height="0.75" fill="#c0c0cc"/><rect x="50.6" y="13.9" width="0.75" height="0.75" fill="#c0c0cc"/><rect x="65.8" y="15.0" width="0.75" height="0.75" fill="#c0c0cc"/><rect x="63.9" y="28.5" width="0.75" height="0.75" fill="#c0c0cc"/><rect x="52.6" y="18.0" width="0.75" height="0.75" fill="#c0c0cc"/><rect x="51.6" y="14.0" width="0.75" height="0.75" fill="#c0c0cc"/><rect x="57.2" y="32.1" width="0.75" height="0.75" fill="#c0c0cc"/><rect x="59.1" y="28.3" width="0.75" height="0.75" fill="#c0c0cc"/><rect x="46.4" y="23.8" width="0.75" height="0.75" fill="#c0c0cc"/><rect x="41.2" y="48.7" width="0.75" height="0.75" fill="#5a6ad0"/><rect x="52.2" y="55.5" width="0.75" height="0.75" fill="#5a6ad0"/><rect x="32.5" y="57.4" width="0.75" height="0.75" fill="#5a6ad0"/><rect x="42.4" y="35.3" width="0.75" height="0.75" fill="#5a6ad0"/><rect x="36.6" y="57.0" width="0.75" height="0.75" fill="#5a6ad0"/><rect x="47.5" y="64.5" width="0.75" height="0.75" fill="#5a6ad0"/><rect x="49.1" y="54.9" width="0.75" height="0.75" fill="#5a6ad0"/><rect x="66.2" y="66.3" width="0.75" height="0.75" fill="#5a6ad0"/><rect x="53.7" y="41.1" width="0.75" height="0.75" fill="#5a6ad0"/><rect x="43.5" y="33.0" width="0.75" height="0.75" fill="#5a6ad0"/><rect x="55.0" y="49.3" width="0.75" height="0.75" fill="#5a6ad0"/><rect x="56.6" y="66.7" width="0.75" height="0.75" fill="#5a6ad0"/><rect x="43.3" y="57.6" width="0.75" height="0.75" fill="#5a6ad0"/><rect x="64.2" y="56.2" width="0.75" height="0.75" fill="#5a6ad0"/><rect x="60.8" y="52.2" width="0.75" height="0.75" fill="#5a6ad0"/><rect x="42.0" y="51.7" width="0.75" height="0.75" fill="#5a6ad0"/><rect x="32.6" y="65.0" width="0.75" height="0.75" fill="#5a6ad0"/><rect x="46.3" y="73.9" width="0.75" height="0.75" fill="#5a6ad0"/><rect x="39.1" y="56.8" width="0.75" height="0.75" fill="#5a6ad0"/><rect x="54.9" y="52.1" width="0.75" height="0.75" fill="#5a6ad0"/><rect x="55.3" y="44.4" width="0.75" height="0.75" fill="#5a6ad0"/><rect x="40.7" y="35.2" width="0.75" height="0.75" fill="#5a6ad0"/><rect x="45.8" y="43.5" width="0.75" height="0.75" fill="#5a6ad0"/><rect x="53.9" y="49.8" width="0.75" height="0.75" fill="#5a6ad0"/><rect x="44.8" y="44.6" width="0.75" height="0.75" fill="#5a6ad0"/><rect x="32.3" y="49.8" width="0.75" height="0.75" fill="#5a6ad0"/><rect x="55.7" y="36.2" width="0.75" height="0.75" fill="#5a6ad0"/><rect x="48.9" y="64.5" width="0.75" height="0.75" fill="#5a6ad0"/><rect x="44.5" y="57.7" width="0.75" height="0.75" fill="#5a6ad0"/><rect x="65.6" y="71.7" width="0.75" height="0.75" fill="#5a6ad0"/><rect x="44.6" y="64.2" width="0.75" height="0.75" fill="#5a6ad0"/><rect x="49.8" y="60.1" width="0.75" height="0.75" fill="#5a6ad0"/><rect x="45.7" y="57.2" width="0.75" height="0.75" fill="#5a6ad0"/><rect x="43.7" y="59.1" width="0.75" height="0.75" fill="#5a6ad0"/><rect x="69.3" y="35.6" width="0.75" height="0.75" fill="#5a6ad0"/><rect x="38.2" y="62.1" width="0.75" height="0.75" fill="#5a6ad0"/><rect x="59.5" y="49.7" width="0.75" height="0.75" fill="#5a6ad0"/><rect x="57.5" y="61.0" width="0.75" height="0.75" fill="#5a6ad0"/><rect x="44.9" y="64.4" width="0.75" height="0.75" fill="#5a6ad0"/><rect x="53.5" y="45.2" width="0.75" height="0.75" fill="#5a6ad0"/><rect x="56.6" y="36.5" width="0.75" height="0.75" fill="#5a6ad0"/><rect x="36.4" y="70.3" width="0.75" height="0.75" fill="#5a6ad0"/><rect x="62.1" y="47.6" width="0.75" height="0.75" fill="#5a6ad0"/><rect x="42.5" y="23.3" width="0.75" height="0.75" fill="#5a6ad0"/><rect x="50.7" y="31.7" width="0.75" height="0.75" fill="#5a6ad0"/><rect x="67.5" y="31.0" width="0.75" height="0.75" fill="#5a6ad0"/><rect x="52.1" y="16.1" width="0.75" height="0.75" fill="#5a6ad0"/><rect x="47.9" y="73.9" width="0.75" height="0.75" fill="#5a6ad0"/><rect x="46.9" y="43.2" width="0.75" height="0.75" fill="#5a6ad0"/><rect x="46.6" y="60.3" width="0.75" height="0.75" fill="#5a6ad0"/><rect x="60.5" y="51.6" width="0.75" height="0.75" fill="#5a6ad0"/><rect x="30.6" y="59.3" width="0.75" height="0.75" fill="#5a6ad0"/><rect x="53.2" y="57.4" width="0.75" height="0.75" fill="#5a6ad0"/><rect x="45.9" y="65.6" width="0.75" height="0.75" fill="#5a6ad0"/><rect x="69.5" y="40.6" width="0.75" height="0.75" fill="#5a6ad0"/><rect x="52.3" y="40.0" width="0.75" height="0.75" fill="#5a6ad0"/><rect x="44.4" y="52.3" width="0.75" height="0.75" fill="#5a6ad0"/><rect x="56.5" y="43.0" width="0.75" height="0.75" fill="#5a6ad0"/><rect x="56.6" y="64.9" width="0.75" height="0.75" fill="#5a6ad0"/><rect x="55.5" y="52.2" width="0.75" height="0.75" fill="#5a6ad0"/><rect x="55.7" y="62.4" width="0.75" height="0.75" fill="#5a6ad0"/><rect x="51.4" y="69.6" width="0.75" height="0.75" fill="#5a6ad0"/><rect x="51.5" y="67.8" width="0.75" height="0.75" fill="#5a6ad0"/><rect x="51.7" y="65.4" width="0.75" height="0.75" fill="#5a6ad0"/><rect x="44.5" y="46.9" width="0.75" height="0.75" fill="#5a6ad0"/><rect x="39.6" y="72.2" width="0.75" height="0.75" fill="#5a6ad0"/><rect x="56.7" y="58.0" width="0.75" height="0.75" fill="#5a6ad0"/><rect x="57.8" y="43.0" width="0.75" height="0.75" fill="#5a6ad0"/><rect x="52.5" y="47.6" width="0.75" height="0.75" fill="#5a6ad0"/><rect x="32.4" y="51.1" width="0.75" height="0.75" fill="#5a6ad0"/><rect x="43.8" y="46.0" width="0.75" height="0.75" fill="#5a6ad0"/><rect x="61.5" y="54.8" width="0.75" height="0.75" fill="#5a6ad0"/><rect x="37.8" y="58.2" width="0.75" height="0.75" fill="#5a6ad0"/><rect x="40.6" y="44.3" width="0.75" height="0.75" fill="#5a6ad0"/><rect x="23.4" y="45.3" width="0.75" height="0.75" fill="#5a6ad0"/><rect x="70.6" y="53.1" width="0.75" height="0.75" fill="#5a6ad0"/><rect x="41.6" y="59.1" width="0.75" height="0.75" fill="#5a6ad0"/><rect x="48.5" y="54.3" width="0.75" height="0.75" fill="#5a6ad0"/><rect x="42.0" y="26.9" width="0.75" height="0.75" fill="#5a6ad0"/><rect x="59.1" y="60.6" width="0.75" height="0.75" fill="#5a6ad0"/><rect x="51.9" y="53.2" width="0.75" height="0.75" fill="#5a6ad0"/><rect x="58.8" y="63.0" width="0.75" height="0.75" fill="#5a6ad0"/><rect x="54.1" y="62.0" width="0.75" height="0.75" fill="#5a6ad0"/><rect x="49.4" y="49.6" width="0.75" height="0.75" fill="#5a6ad0"/><rect x="65.7" y="51.4" width="0.75" height="0.75" fill="#5a6ad0"/><rect x="71.9" y="64.2" width="0.75" height="0.75" fill="#5a6ad0"/><rect x="52.1" y="71.0" width="0.75" height="0.75" fill="#5a6ad0"/><rect x="46.4" y="52.2" width="0.75" height="0.75" fill="#5a6ad0"/><rect x="48.0" y="54.9" width="0.75" height="0.75" fill="#5a6ad0"/><rect x="56.8" y="39.7" width="0.75" height="0.75" fill="#5a6ad0"/><rect x="43.0" y="29.0" width="0.75" height="0.75" fill="#5a6ad0"/><rect x="58.9" y="67.6" width="0.75" height="0.75" fill="#5a6ad0"/><rect x="54.9" y="60.1" width="0.75" height="0.75" fill="#5a6ad0"/><rect x="56.9" y="61.1" width="0.75" height="0.75" fill="#5a6ad0"/><rect x="58.1" y="58.2" width="0.75" height="0.75" fill="#5a6ad0"/><rect x="41.4" y="68.5" width="0.75" height="0.75" fill="#5a6ad0"/><rect x="65.2" y="31.5" width="0.75" height="0.75" fill="#5a6ad0"/><rect x="49.1" y="38.7" width="0.75" height="0.75" fill="#5a6ad0"/><rect x="56.7" y="50.8" width="0.75" height="0.75" fill="#5a6ad0"/><rect x="66.0" y="70.9" width="0.75" height="0.75" fill="#5a6ad0"/><rect x="46.7" y="48.1" width="0.75" height="0.75" fill="#5a6ad0"/><rect x="45.5" y="63.2" width="0.75" height="0.75" fill="#5a6ad0"/><rect x="41.9" y="61.2" width="0.75" height="0.75" fill="#5a6ad0"/><rect x="37.2" y="69.9" width="0.75" height="0.75" fill="#5a6ad0"/><rect x="56.3" y="38.3" width="0.75" height="0.75" fill="#5a6ad0"/><rect x="43.4" y="56.9" width="0.75" height="0.75" fill="#5a6ad0"/><rect x="54.3" y="14.0" width="0.75" height="0.75" fill="#5a6ad0"/><rect x="17.1" y="26.7" width="0.75" height="0.75" fill="#7a88d8"/><rect x="20.5" y="36.5" width="0.75" height="0.75" fill="#7a88d8"/><rect x="18.4" y="38.8" width="0.75" height="0.75" fill="#7a88d8"/><rect x="15.5" y="30.8" width="0.75" height="0.75" fill="#7a88d8"/><rect x="15.7" y="28.0" width="0.75" height="0.75" fill="#7a88d8"/><rect x="17.3" y="28.5" width="0.75" height="0.75" fill="#7a88d8"/><rect x="21.3" y="38.1" width="0.75" height="0.75" fill="#7a88d8"/><rect x="19.7" y="24.8" width="0.75" height="0.75" fill="#7a88d8"/><rect x="17.5" y="34.0" width="0.75" height="0.75" fill="#7a88d8"/><rect x="18.3" y="37.7" width="0.75" height="0.75" fill="#7a88d8"/><rect x="16.4" y="29.3" width="0.75" height="0.75" fill="#7a88d8"/><rect x="19.9" y="48.8" width="0.75" height="0.75" fill="#7a88d8"/><rect x="22.2" y="33.2" width="0.75" height="0.75" fill="#7a88d8"/><rect x="16.4" y="36.1" width="0.75" height="0.75" fill="#7a88d8"/><rect x="19.0" y="45.8" width="0.75" height="0.75" fill="#7a88d8"/><rect x="17.5" y="30.4" width="0.75" height="0.75" fill="#7a88d8"/><rect x="20.1" y="30.5" width="0.75" height="0.75" fill="#7a88d8"/><rect x="16.2" y="38.2" width="0.75" height="0.75" fill="#7a88d8"/><rect x="17.6" y="28.5" width="0.75" height="0.75" fill="#7a88d8"/><rect x="17.4" y="32.4" width="0.75" height="0.75" fill="#7a88d8"/><rect x="17.5" y="30.4" width="0.75" height="0.75" fill="#7a88d8"/><rect x="19.2" y="32.8" width="0.75" height="0.75" fill="#7a88d8"/><rect x="16.8" y="41.5" width="0.75" height="0.75" fill="#7a88d8"/><rect x="16.1" y="39.6" width="0.75" height="0.75" fill="#7a88d8"/><rect x="19.2" y="33.1" width="0.75" height="0.75" fill="#7a88d8"/><rect x="18.4" y="25.9" width="0.75" height="0.75" fill="#7a88d8"/><rect x="18.5" y="28.6" width="0.75" height="0.75" fill="#7a88d8"/><rect x="16.2" y="36.6" width="0.75" height="0.75" fill="#7a88d8"/><rect x="16.5" y="35.8" width="0.75" height="0.75" fill="#7a88d8"/><rect x="18.8" y="41.4" width="0.75" height="0.75" fill="#7a88d8"/></g>
<rect x="253.1" y="26.3" width="74.6" height="75.4" fill="none" stroke="#222" stroke-width="1.3"/>
<path d="M290.3,101.7 V64.3 H319.5 V101.7" fill="none" stroke="#222" stroke-width="0.8"/>
<text x="304.9" y="58.8" font-size="3.9" text-anchor="middle" textLength="14.6" lengthAdjust="spacingAndGlyphs" font-weight="bold" fill="#111">CD45.2<tspan dy="-1" font-size="2.5">+</tspan></text>
<text x="304.9" y="63.2" font-size="3.9" text-anchor="middle" textLength="18.4" lengthAdjust="spacingAndGlyphs" font-weight="bold" fill="#111">63.7 ± 6.8</text>
<line x1="160.8" y1="79.5" x2="160.8" y2="31.5" stroke="#222" stroke-width="1.4"/>
<polygon points="160.8,27.5 163.6,32.5 158.1,32.5" fill="#222"/>
<text x="162.8" y="102.0" font-size="6.2" textLength="18.0" lengthAdjust="spacingAndGlyphs" transform="rotate(-90 162.8 102.0)">CD45.1</text>
<text x="167.3" y="110.0" font-size="6" textLength="17.3" lengthAdjust="spacingAndGlyphs">CD45.2</text>
<line x1="188.0" y1="108.4" x2="323.5" y2="108.4" stroke="#222" stroke-width="1.4"/>
<polygon points="327.5,108.4 322.5,111.2 322.5,105.7" fill="#222"/>
<text x="150.6" y="265.7" font-size="10" font-weight="bold" fill="#111" stroke="#111" stroke-width="0.4">F</text>
<text x="182.8" y="273.3" font-size="6.2" textLength="43.5" lengthAdjust="spacingAndGlyphs">FMT-AA 16 weeks</text>
<g transform="translate(167.3 277.8)"><g filter="url(#bl)" opacity="0.95"><ellipse cx="25.0" cy="21.0" rx="4.00" ry="2.20" fill="#5a6ad8" fill-opacity="0.5" transform="rotate(-15 25.0 21.0)"/><ellipse cx="17.0" cy="29.0" rx="5.00" ry="10.00" fill="#5a6ad8" fill-opacity="0.5"/><ellipse cx="17.0" cy="29.0" rx="2.50" ry="5.00" fill="#3a8ee0" fill-opacity="0.8"/><ellipse cx="17.0" cy="24.4" rx="6.00" ry="6.50" fill="#5a6ad8" fill-opacity="0.5"/><ellipse cx="17.0" cy="24.4" rx="5.14" ry="5.57" fill="#3a8ee0" fill-opacity="0.8"/><ellipse cx="17.0" cy="24.4" rx="4.29" ry="4.64" fill="#22b8c8" fill-opacity="1"/><ellipse cx="17.0" cy="24.4" rx="3.43" ry="3.71" fill="#2cb84a" fill-opacity="1"/><ellipse cx="17.0" cy="24.4" rx="2.57" ry="2.79" fill="#c8d428" fill-opacity="1"/><ellipse cx="17.0" cy="24.4" rx="1.71" ry="1.86" fill="#f09020" fill-opacity="1"/><ellipse cx="17.0" cy="24.4" rx="0.86" ry="0.93" fill="#e02020" fill-opacity="1"/><ellipse cx="51.0" cy="58.0" rx="5.50" ry="18.50" fill="#5a6ad8" fill-opacity="0.5"/><ellipse cx="51.0" cy="58.0" rx="5.00" ry="17.50" fill="#5a6ad8" fill-opacity="0.5"/><ellipse cx="51.0" cy="58.0" rx="3.60" ry="16.50" fill="#3a8ee0" fill-opacity="0.8"/><ellipse cx="51.0" cy="58.0" rx="1.80" ry="8.25" fill="#22b8c8" fill-opacity="1"/><ellipse cx="51.0" cy="58.0" rx="1.60" ry="12.00" fill="#22b8c8" fill-opacity="1"/></g><rect x="18.3" y="65.0" width="0.75" height="0.75" fill="#c0c0cc"/><rect x="15.2" y="61.9" width="0.75" height="0.75" fill="#c0c0cc"/><rect x="17.2" y="46.9" width="0.75" height="0.75" fill="#c0c0cc"/><rect x="23.7" y="51.9" width="0.75" height="0.75" fill="#c0c0cc"/><rect x="17.9" y="58.8" width="0.75" height="0.75" fill="#c0c0cc"/><rect x="21.4" y="49.6" width="0.75" height="0.75" fill="#c0c0cc"/><rect x="19.8" y="38.3" width="0.75" height="0.75" fill="#c0c0cc"/><rect x="16.9" y="44.7" width="0.75" height="0.75" fill="#c0c0cc"/><rect x="14.0" y="31.9" width="0.75" height="0.75" fill="#c0c0cc"/><rect x="13.1" y="47.1" width="0.75" height="0.75" fill="#c0c0cc"/><rect x="17.5" y="46.2" width="0.75" height="0.75" fill="#c0c0cc"/><rect x="18.2" y="34.0" width="0.75" height="0.75" fill="#c0c0cc"/><rect x="17.8" y="52.9" width="0.75" height="0.75" fill="#c0c0cc"/><rect x="20.3" y="39.8" width="0.75" height="0.75" fill="#c0c0cc"/><rect x="16.8" y="25.8" width="0.75" height="0.75" fill="#c0c0cc"/><rect x="16.5" y="23.6" width="0.75" height="0.75" fill="#c0c0cc"/><rect x="13.7" y="63.2" width="0.75" height="0.75" fill="#c0c0cc"/><rect x="11.4" y="59.6" width="0.75" height="0.75" fill="#c0c0cc"/><rect x="19.0" y="46.3" width="0.75" height="0.75" fill="#c0c0cc"/><rect x="19.4" y="56.3" width="0.75" height="0.75" fill="#c0c0cc"/><rect x="21.1" y="47.2" width="0.75" height="0.75" fill="#c0c0cc"/><rect x="16.2" y="42.7" width="0.75" height="0.75" fill="#c0c0cc"/><rect x="15.0" y="49.5" width="0.75" height="0.75" fill="#c0c0cc"/><rect x="15.6" y="62.8" width="0.75" height="0.75" fill="#c0c0cc"/><rect x="12.4" y="36.9" width="0.75" height="0.75" fill="#c0c0cc"/><rect x="15.1" y="24.9" width="0.75" height="0.75" fill="#c0c0cc"/><rect x="23.7" y="21.1" width="0.75" height="0.75" fill="#c0c0cc"/><rect x="17.2" y="43.7" width="0.75" height="0.75" fill="#c0c0cc"/><rect x="23.0" y="26.2" width="0.75" height="0.75" fill="#c0c0cc"/><rect x="21.2" y="41.2" width="0.75" height="0.75" fill="#c0c0cc"/><rect x="17.5" y="41.9" width="0.75" height="0.75" fill="#c0c0cc"/><rect x="19.9" y="36.3" width="0.75" height="0.75" fill="#c0c0cc"/><rect x="17.8" y="54.2" width="0.75" height="0.75" fill="#c0c0cc"/><rect x="23.5" y="21.1" width="0.75" height="0.75" fill="#c0c0cc"/><rect x="22.6" y="61.4" width="0.75" height="0.75" fill="#c0c0cc"/><rect x="16.5" y="53.7" width="0.75" height="0.75" fill="#c0c0cc"/><rect x="16.6" y="69.8" width="0.75" height="0.75" fill="#c0c0cc"/><rect x="18.6" y="47.4" width="0.75" height="0.75" fill="#c0c0cc"/><rect x="17.3" y="47.6" width="0.75" height="0.75" fill="#c0c0cc"/><rect x="17.5" y="39.5" width="0.75" height="0.75" fill="#c0c0cc"/><rect x="24.2" y="27.1" width="0.75" height="0.75" fill="#c0c0cc"/><rect x="7.2" y="48.5" width="0.75" height="0.75" fill="#c0c0cc"/><rect x="17.6" y="54.5" width="0.75" height="0.75" fill="#c0c0cc"/><rect x="17.4" y="48.2" width="0.75" height="0.75" fill="#c0c0cc"/><rect x="19.0" y="61.6" width="0.75" height="0.75" fill="#c0c0cc"/><rect x="16.7" y="45.5" width="0.75" height="0.75" fill="#c0c0cc"/><rect x="23.8" y="56.4" width="0.75" height="0.75" fill="#c0c0cc"/><rect x="20.3" y="42.9" width="0.75" height="0.75" fill="#c0c0cc"/><rect x="14.5" y="53.6" width="0.75" height="0.75" fill="#c0c0cc"/><rect x="15.5" y="37.3" width="0.75" height="0.75" fill="#c0c0cc"/><rect x="14.1" y="43.9" width="0.75" height="0.75" fill="#c0c0cc"/><rect x="21.3" y="44.8" width="0.75" height="0.75" fill="#c0c0cc"/><rect x="13.7" y="58.0" width="0.75" height="0.75" fill="#c0c0cc"/><rect x="18.2" y="60.1" width="0.75" height="0.75" fill="#c0c0cc"/><rect x="21.6" y="48.0" width="0.75" height="0.75" fill="#c0c0cc"/><rect x="17.6" y="49.5" width="0.75" height="0.75" fill="#c0c0cc"/><rect x="14.6" y="58.0" width="0.75" height="0.75" fill="#c0c0cc"/><rect x="22.1" y="52.1" width="0.75" height="0.75" fill="#c0c0cc"/><rect x="17.3" y="46.9" width="0.75" height="0.75" fill="#c0c0cc"/><rect x="15.7" y="40.4" width="0.75" height="0.75" fill="#c0c0cc"/><rect x="16.8" y="39.9" width="0.75" height="0.75" fill="#c0c0cc"/><rect x="16.7" y="31.1" width="0.75" height="0.75" fill="#c0c0cc"/><rect x="19.1" y="50.6" width="0.75" height="0.75" fill="#c0c0cc"/><rect x="14.5" y="22.4" width="0.75" height="0.75" fill="#c0c0cc"/><rect x="18.0" y="63.2" width="0.75" height="0.75" fill="#c0c0cc"/><rect x="15.8" y="44.2" width="0.75" height="0.75" fill="#c0c0cc"/><rect x="16.3" y="57.8" width="0.75" height="0.75" fill="#c0c0cc"/><rect x="15.3" y="61.8" width="0.75" height="0.75" fill="#c0c0cc"/><rect x="17.1" y="61.1" width="0.75" height="0.75" fill="#c0c0cc"/><rect x="35.3" y="21.3" width="0.75" height="0.75" fill="#c0c0cc"/><rect x="21.7" y="19.9" width="0.75" height="0.75" fill="#c0c0cc"/><rect x="32.6" y="24.0" width="0.75" height="0.75" fill="#c0c0cc"/><rect x="37.2" y="19.9" width="0.75" height="0.75" fill="#c0c0cc"/><rect x="38.7" y="25.0" width="0.75" height="0.75" fill="#c0c0cc"/><rect x="33.7" y="20.7" width="0.75" height="0.75" fill="#c0c0cc"/><rect x="31.5" y="24.4" width="0.75" height="0.75" fill="#c0c0cc"/><rect x="39.8" y="19.2" width="0.75" height="0.75" fill="#c0c0cc"/><rect x="38.4" y="20.6" width="0.75" height="0.75" fill="#c0c0cc"/><rect x="28.2" y="25.7" width="0.75" height="0.75" fill="#c0c0cc"/><rect x="42.4" y="19.8" width="0.75" height="0.75" fill="#c0c0cc"/><rect x="35.7" y="23.5" width="0.75" height="0.75" fill="#c0c0cc"/><rect x="29.2" y="21.6" width="0.75" height="0.75" fill="#c0c0cc"/><rect x="41.0" y="16.6" width="0.75" height="0.75" fill="#c0c0cc"/><rect x="37.9" y="24.2" width="0.75" height="0.75" fill="#c0c0cc"/><rect x="39.5" y="18.0" width="0.75" height="0.75" fill="#c0c0cc"/><rect x="37.9" y="19.4" width="0.75" height="0.75" fill="#c0c0cc"/><rect x="40.1" y="23.8" width="0.75" height="0.75" fill="#c0c0cc"/><rect x="36.9" y="19.7" width="0.75" height="0.75" fill="#c0c0cc"/><rect x="29.7" y="24.6" width="0.75" height="0.75" fill="#c0c0cc"/><rect x="26.9" y="23.5" width="0.75" height="0.75" fill="#c0c0cc"/><rect x="39.6" y="21.2" width="0.75" height="0.75" fill="#c0c0cc"/><rect x="56.6" y="22.2" width="0.75" height="0.75" fill="#c0c0cc"/><rect x="54.3" y="16.0" width="0.75" height="0.75" fill="#c0c0cc"/><rect x="14.8" y="24.9" width="0.75" height="0.75" fill="#c0c0cc"/><rect x="40.7" y="21.1" width="0.75" height="0.75" fill="#c0c0cc"/><rect x="34.5" y="16.3" width="0.75" height="0.75" fill="#c0c0cc"/><rect x="29.3" y="18.9" width="0.75" height="0.75" fill="#c0c0cc"/><rect x="33.0" y="24.7" width="0.75" height="0.75" fill="#c0c0cc"/><rect x="35.5" y="23.1" width="0.75" height="0.75" fill="#c0c0cc"/><rect x="28.7" y="20.7" width="0.75" height="0.75" fill="#c0c0cc"/><rect x="36.0" y="21.2" width="0.75" height="0.75" fill="#c0c0cc"/><rect x="46.4" y="19.4" width="0.75" height="0.75" fill="#c0c0cc"/><rect x="52.0" y="19.1" width="0.75" height="0.75" fill="#c0c0cc"/><rect x="44.5" y="19.7" width="0.75" height="0.75" fill="#c0c0cc"/><rect x="49.8" y="22.4" width="0.75" height="0.75" fill="#c0c0cc"/><rect x="38.6" y="24.2" width="0.75" height="0.75" fill="#c0c0cc"/><rect x="29.3" y="18.9" width="0.75" height="0.75" fill="#c0c0cc"/><rect x="16.8" y="25.7" width="0.75" height="0.75" fill="#c0c0cc"/><rect x="28.7" y="20.2" width="0.75" height="0.75" fill="#c0c0cc"/><rect x="34.7" y="28.0" width="0.75" height="0.75" fill="#c0c0cc"/><rect x="19.4" y="22.7" width="0.75" height="0.75" fill="#c0c0cc"/><rect x="31.4" y="23.6" width="0.75" height="0.75" fill="#c0c0cc"/><rect x="18.8" y="20.8" width="0.75" height="0.75" fill="#c0c0cc"/><rect x="42.6" y="26.7" width="0.75" height="0.75" fill="#c0c0cc"/><rect x="49.4" y="19.4" width="0.75" height="0.75" fill="#c0c0cc"/><rect x="35.5" y="21.7" width="0.75" height="0.75" fill="#c0c0cc"/><rect x="22.6" y="17.7" width="0.75" height="0.75" fill="#c0c0cc"/><rect x="41.8" y="22.7" width="0.75" height="0.75" fill="#c0c0cc"/><rect x="33.7" y="25.6" width="0.75" height="0.75" fill="#c0c0cc"/><rect x="49.0" y="23.1" width="0.75" height="0.75" fill="#7a88d8"/><rect x="51.0" y="21.9" width="0.75" height="0.75" fill="#7a88d8"/><rect x="52.0" y="22.4" width="0.75" height="0.75" fill="#7a88d8"/><rect x="51.5" y="22.5" width="0.75" height="0.75" fill="#7a88d8"/><rect x="54.9" y="21.4" width="0.75" height="0.75" fill="#7a88d8"/><rect x="53.0" y="23.2" width="0.75" height="0.75" fill="#7a88d8"/><rect x="50.3" y="23.6" width="0.75" height="0.75" fill="#7a88d8"/><rect x="49.3" y="24.3" width="0.75" height="0.75" fill="#7a88d8"/><rect x="49.4" y="21.0" width="0.75" height="0.75" fill="#7a88d8"/><rect x="51.6" y="23.7" width="0.75" height="0.75" fill="#7a88d8"/><rect x="52.8" y="23.8" width="0.75" height="0.75" fill="#7a88d8"/><rect x="50.6" y="20.1" width="0.75" height="0.75" fill="#7a88d8"/><rect x="52.1" y="22.6" width="0.75" height="0.75" fill="#7a88d8"/><rect x="49.1" y="23.9" width="0.75" height="0.75" fill="#7a88d8"/><rect x="51.4" y="20.1" width="0.75" height="0.75" fill="#7a88d8"/><rect x="51.9" y="19.3" width="0.75" height="0.75" fill="#7a88d8"/><rect x="49.2" y="22.8" width="0.75" height="0.75" fill="#7a88d8"/><rect x="47.9" y="22.1" width="0.75" height="0.75" fill="#7a88d8"/><rect x="48.3" y="23.5" width="0.75" height="0.75" fill="#7a88d8"/><rect x="49.5" y="22.4" width="0.75" height="0.75" fill="#7a88d8"/><rect x="48.0" y="21.3" width="0.75" height="0.75" fill="#7a88d8"/><rect x="52.9" y="22.9" width="0.75" height="0.75" fill="#7a88d8"/><rect x="47.3" y="23.8" width="0.75" height="0.75" fill="#7a88d8"/><rect x="52.8" y="21.2" width="0.75" height="0.75" fill="#7a88d8"/><rect x="53.8" y="19.9" width="0.75" height="0.75" fill="#7a88d8"/><rect x="50.7" y="70.4" width="0.75" height="0.75" fill="#5a6ad0"/><rect x="56.2" y="72.4" width="0.75" height="0.75" fill="#5a6ad0"/><rect x="46.6" y="35.6" width="0.75" height="0.75" fill="#5a6ad0"/><rect x="52.6" y="39.8" width="0.75" height="0.75" fill="#5a6ad0"/><rect x="50.5" y="41.6" width="0.75" height="0.75" fill="#5a6ad0"/><rect x="55.2" y="66.6" width="0.75" height="0.75" fill="#5a6ad0"/><rect x="53.2" y="57.2" width="0.75" height="0.75" fill="#5a6ad0"/><rect x="51.2" y="53.4" width="0.75" height="0.75" fill="#5a6ad0"/><rect x="52.5" y="60.0" width="0.75" height="0.75" fill="#5a6ad0"/><rect x="52.8" y="51.9" width="0.75" height="0.75" fill="#5a6ad0"/><rect x="58.6" y="60.4" width="0.75" height="0.75" fill="#5a6ad0"/><rect x="56.6" y="73.0" width="0.75" height="0.75" fill="#5a6ad0"/><rect x="47.5" y="36.8" width="0.75" height="0.75" fill="#5a6ad0"/><rect x="56.0" y="52.3" width="0.75" height="0.75" fill="#5a6ad0"/><rect x="51.3" y="53.9" width="0.75" height="0.75" fill="#5a6ad0"/><rect x="51.5" y="42.7" width="0.75" height="0.75" fill="#5a6ad0"/><rect x="50.6" y="51.4" width="0.75" height="0.75" fill="#5a6ad0"/><rect x="50.9" y="29.0" width="0.75" height="0.75" fill="#5a6ad0"/><rect x="54.3" y="61.0" width="0.75" height="0.75" fill="#5a6ad0"/><rect x="44.1" y="48.2" width="0.75" height="0.75" fill="#5a6ad0"/><rect x="51.1" y="64.5" width="0.75" height="0.75" fill="#5a6ad0"/><rect x="51.0" y="73.6" width="0.75" height="0.75" fill="#5a6ad0"/><rect x="51.1" y="45.0" width="0.75" height="0.75" fill="#5a6ad0"/><rect x="48.3" y="65.9" width="0.75" height="0.75" fill="#5a6ad0"/><rect x="48.5" y="67.1" width="0.75" height="0.75" fill="#5a6ad0"/><rect x="55.1" y="64.1" width="0.75" height="0.75" fill="#5a6ad0"/><rect x="55.1" y="54.9" width="0.75" height="0.75" fill="#5a6ad0"/><rect x="51.0" y="49.9" width="0.75" height="0.75" fill="#5a6ad0"/><rect x="48.6" y="38.2" width="0.75" height="0.75" fill="#5a6ad0"/><rect x="48.8" y="44.1" width="0.75" height="0.75" fill="#5a6ad0"/><rect x="45.3" y="58.8" width="0.75" height="0.75" fill="#5a6ad0"/><rect x="52.8" y="52.9" width="0.75" height="0.75" fill="#5a6ad0"/><rect x="56.5" y="68.3" width="0.75" height="0.75" fill="#5a6ad0"/><rect x="55.2" y="49.8" width="0.75" height="0.75" fill="#5a6ad0"/><rect x="45.0" y="63.7" width="0.75" height="0.75" fill="#5a6ad0"/><rect x="52.2" y="65.7" width="0.75" height="0.75" fill="#5a6ad0"/><rect x="52.7" y="72.1" width="0.75" height="0.75" fill="#5a6ad0"/><rect x="49.8" y="65.0" width="0.75" height="0.75" fill="#5a6ad0"/><rect x="47.4" y="29.3" width="0.75" height="0.75" fill="#5a6ad0"/><rect x="44.3" y="69.2" width="0.75" height="0.75" fill="#5a6ad0"/><rect x="48.3" y="52.2" width="0.75" height="0.75" fill="#5a6ad0"/><rect x="51.2" y="59.5" width="0.75" height="0.75" fill="#5a6ad0"/><rect x="47.1" y="58.5" width="0.75" height="0.75" fill="#5a6ad0"/><rect x="52.8" y="67.0" width="0.75" height="0.75" fill="#5a6ad0"/><rect x="45.6" y="59.1" width="0.75" height="0.75" fill="#5a6ad0"/><rect x="43.6" y="61.5" width="0.75" height="0.75" fill="#5a6ad0"/><rect x="53.2" y="43.2" width="0.75" height="0.75" fill="#5a6ad0"/><rect x="44.7" y="59.2" width="0.75" height="0.75" fill="#5a6ad0"/><rect x="53.5" y="47.5" width="0.75" height="0.75" fill="#5a6ad0"/><rect x="50.0" y="26.7" width="0.75" height="0.75" fill="#5a6ad0"/><rect x="48.2" y="58.8" width="0.75" height="0.75" fill="#5a6ad0"/><rect x="46.4" y="30.0" width="0.75" height="0.75" fill="#5a6ad0"/><rect x="52.8" y="49.9" width="0.75" height="0.75" fill="#5a6ad0"/><rect x="52.1" y="65.6" width="0.75" height="0.75" fill="#5a6ad0"/><rect x="56.4" y="37.0" width="0.75" height="0.75" fill="#5a6ad0"/><rect x="49.4" y="68.6" width="0.75" height="0.75" fill="#5a6ad0"/><rect x="50.8" y="52.0" width="0.75" height="0.75" fill="#5a6ad0"/><rect x="57.3" y="69.5" width="0.75" height="0.75" fill="#5a6ad0"/><rect x="50.0" y="67.9" width="0.75" height="0.75" fill="#5a6ad0"/><rect x="45.7" y="48.3" width="0.75" height="0.75" fill="#5a6ad0"/><rect x="54.6" y="57.5" width="0.75" height="0.75" fill="#5a6ad0"/><rect x="46.8" y="62.4" width="0.75" height="0.75" fill="#5a6ad0"/><rect x="52.3" y="72.4" width="0.75" height="0.75" fill="#5a6ad0"/><rect x="54.8" y="53.7" width="0.75" height="0.75" fill="#5a6ad0"/><rect x="49.1" y="55.3" width="0.75" height="0.75" fill="#5a6ad0"/><rect x="57.4" y="73.3" width="0.75" height="0.75" fill="#5a6ad0"/><rect x="52.5" y="54.1" width="0.75" height="0.75" fill="#5a6ad0"/><rect x="54.6" y="52.8" width="0.75" height="0.75" fill="#5a6ad0"/><rect x="51.9" y="37.0" width="0.75" height="0.75" fill="#5a6ad0"/><rect x="46.9" y="39.1" width="0.75" height="0.75" fill="#5a6ad0"/><rect x="56.8" y="52.7" width="0.75" height="0.75" fill="#5a6ad0"/><rect x="49.1" y="55.7" width="0.75" height="0.75" fill="#5a6ad0"/><rect x="47.3" y="57.4" width="0.75" height="0.75" fill="#5a6ad0"/><rect x="49.8" y="39.3" width="0.75" height="0.75" fill="#5a6ad0"/><rect x="48.7" y="53.9" width="0.75" height="0.75" fill="#5a6ad0"/><rect x="47.6" y="43.6" width="0.75" height="0.75" fill="#5a6ad0"/><rect x="49.9" y="51.9" width="0.75" height="0.75" fill="#5a6ad0"/><rect x="53.0" y="54.2" width="0.75" height="0.75" fill="#5a6ad0"/><rect x="47.9" y="73.7" width="0.75" height="0.75" fill="#5a6ad0"/><rect x="46.8" y="48.2" width="0.75" height="0.75" fill="#5a6ad0"/><rect x="48.3" y="46.4" width="0.75" height="0.75" fill="#5a6ad0"/><rect x="50.0" y="63.9" width="0.75" height="0.75" fill="#5a6ad0"/><rect x="56.8" y="65.0" width="0.75" height="0.75" fill="#5a6ad0"/><rect x="51.1" y="42.0" width="0.75" height="0.75" fill="#5a6ad0"/><rect x="50.8" y="45.7" width="0.75" height="0.75" fill="#5a6ad0"/><rect x="50.6" y="68.7" width="0.75" height="0.75" fill="#5a6ad0"/><rect x="51.8" y="54.5" width="0.75" height="0.75" fill="#5a6ad0"/><rect x="48.0" y="56.7" width="0.75" height="0.75" fill="#5a6ad0"/><rect x="51.4" y="45.9" width="0.75" height="0.75" fill="#5a6ad0"/><rect x="49.0" y="67.6" width="0.75" height="0.75" fill="#5a6ad0"/><rect x="44.4" y="51.7" width="0.75" height="0.75" fill="#5a6ad0"/><rect x="53.4" y="63.2" width="0.75" height="0.75" fill="#5a6ad0"/><rect x="52.6" y="60.4" width="0.75" height="0.75" fill="#5a6ad0"/><rect x="52.2" y="38.0" width="0.75" height="0.75" fill="#5a6ad0"/><rect x="52.0" y="64.1" width="0.75" height="0.75" fill="#5a6ad0"/><rect x="45.3" y="66.9" width="0.75" height="0.75" fill="#5a6ad0"/><rect x="53.7" y="38.7" width="0.75" height="0.75" fill="#5a6ad0"/><rect x="49.1" y="53.3" width="0.75" height="0.75" fill="#5a6ad0"/><rect x="48.9" y="61.7" width="0.75" height="0.75" fill="#5a6ad0"/><rect x="45.9" y="54.3" width="0.75" height="0.75" fill="#5a6ad0"/><rect x="51.9" y="65.7" width="0.75" height="0.75" fill="#5a6ad0"/><rect x="51.2" y="54.1" width="0.75" height="0.75" fill="#5a6ad0"/><rect x="53.8" y="33.1" width="0.75" height="0.75" fill="#5a6ad0"/><rect x="54.7" y="53.3" width="0.75" height="0.75" fill="#5a6ad0"/><rect x="46.0" y="51.8" width="0.75" height="0.75" fill="#5a6ad0"/><rect x="43.7" y="32.5" width="0.75" height="0.75" fill="#5a6ad0"/><rect x="49.7" y="47.7" width="0.75" height="0.75" fill="#5a6ad0"/><rect x="53.9" y="46.4" width="0.75" height="0.75" fill="#5a6ad0"/><rect x="45.8" y="45.5" width="0.75" height="0.75" fill="#5a6ad0"/><rect x="57.9" y="57.3" width="0.75" height="0.75" fill="#5a6ad0"/><rect x="48.6" y="45.1" width="0.75" height="0.75" fill="#5a6ad0"/><rect x="46.6" y="55.0" width="0.75" height="0.75" fill="#5a6ad0"/><rect x="52.7" y="70.8" width="0.75" height="0.75" fill="#5a6ad0"/><rect x="55.6" y="60.3" width="0.75" height="0.75" fill="#5a6ad0"/><rect x="48.4" y="46.7" width="0.75" height="0.75" fill="#5a6ad0"/><rect x="41.7" y="44.8" width="0.75" height="0.75" fill="#5a6ad0"/><rect x="52.7" y="52.9" width="0.75" height="0.75" fill="#5a6ad0"/><rect x="52.5" y="40.8" width="0.75" height="0.75" fill="#5a6ad0"/><rect x="54.6" y="60.5" width="0.75" height="0.75" fill="#5a6ad0"/><rect x="51.2" y="61.8" width="0.75" height="0.75" fill="#5a6ad0"/><rect x="42.1" y="50.3" width="0.75" height="0.75" fill="#5a6ad0"/><rect x="50.3" y="50.9" width="0.75" height="0.75" fill="#5a6ad0"/><rect x="54.4" y="44.4" width="0.75" height="0.75" fill="#5a6ad0"/><rect x="56.7" y="48.6" width="0.75" height="0.75" fill="#5a6ad0"/><rect x="50.8" y="46.0" width="0.75" height="0.75" fill="#5a6ad0"/><rect x="54.2" y="30.9" width="0.75" height="0.75" fill="#5a6ad0"/><rect x="53.8" y="47.2" width="0.75" height="0.75" fill="#5a6ad0"/><rect x="51.2" y="43.2" width="0.75" height="0.75" fill="#5a6ad0"/><rect x="51.9" y="59.2" width="0.75" height="0.75" fill="#5a6ad0"/><rect x="53.4" y="60.8" width="0.75" height="0.75" fill="#5a6ad0"/><rect x="53.5" y="68.9" width="0.75" height="0.75" fill="#5a6ad0"/><rect x="49.4" y="42.8" width="0.75" height="0.75" fill="#5a6ad0"/><rect x="45.9" y="65.2" width="0.75" height="0.75" fill="#5a6ad0"/><rect x="49.5" y="69.6" width="0.75" height="0.75" fill="#5a6ad0"/><rect x="51.2" y="44.9" width="0.75" height="0.75" fill="#5a6ad0"/><rect x="50.3" y="45.7" width="0.75" height="0.75" fill="#5a6ad0"/><rect x="47.6" y="67.7" width="0.75" height="0.75" fill="#5a6ad0"/><rect x="48.7" y="52.1" width="0.75" height="0.75" fill="#5a6ad0"/><rect x="53.7" y="57.1" width="0.75" height="0.75" fill="#5a6ad0"/><rect x="51.5" y="50.5" width="0.75" height="0.75" fill="#5a6ad0"/><rect x="48.4" y="59.0" width="0.75" height="0.75" fill="#5a6ad0"/><rect x="51.6" y="64.1" width="0.75" height="0.75" fill="#5a6ad0"/><rect x="49.0" y="61.1" width="0.75" height="0.75" fill="#5a6ad0"/><rect x="52.9" y="58.0" width="0.75" height="0.75" fill="#5a6ad0"/><rect x="53.3" y="69.1" width="0.75" height="0.75" fill="#5a6ad0"/><rect x="51.8" y="57.9" width="0.75" height="0.75" fill="#5a6ad0"/><rect x="47.1" y="60.9" width="0.75" height="0.75" fill="#5a6ad0"/><rect x="41.5" y="51.9" width="0.75" height="0.75" fill="#b4b8e0"/><rect x="37.9" y="60.7" width="0.75" height="0.75" fill="#b4b8e0"/><rect x="54.8" y="59.3" width="0.75" height="0.75" fill="#b4b8e0"/><rect x="42.4" y="59.4" width="0.75" height="0.75" fill="#b4b8e0"/><rect x="39.0" y="56.0" width="0.75" height="0.75" fill="#b4b8e0"/><rect x="38.7" y="48.6" width="0.75" height="0.75" fill="#b4b8e0"/><rect x="43.2" y="57.3" width="0.75" height="0.75" fill="#b4b8e0"/><rect x="41.4" y="47.1" width="0.75" height="0.75" fill="#b4b8e0"/><rect x="43.3" y="44.1" width="0.75" height="0.75" fill="#b4b8e0"/><rect x="45.9" y="51.5" width="0.75" height="0.75" fill="#b4b8e0"/><rect x="42.0" y="62.9" width="0.75" height="0.75" fill="#b4b8e0"/><rect x="44.8" y="42.1" width="0.75" height="0.75" fill="#b4b8e0"/><rect x="40.8" y="58.7" width="0.75" height="0.75" fill="#b4b8e0"/><rect x="36.6" y="31.0" width="0.75" height="0.75" fill="#b4b8e0"/><rect x="41.6" y="54.5" width="0.75" height="0.75" fill="#b4b8e0"/><rect x="44.1" y="55.8" width="0.75" height="0.75" fill="#b4b8e0"/><rect x="42.7" y="57.4" width="0.75" height="0.75" fill="#b4b8e0"/><rect x="48.9" y="59.8" width="0.75" height="0.75" fill="#b4b8e0"/><rect x="44.7" y="51.1" width="0.75" height="0.75" fill="#b4b8e0"/><rect x="47.6" y="53.1" width="0.75" height="0.75" fill="#b4b8e0"/><rect x="45.7" y="33.9" width="0.75" height="0.75" fill="#b4b8e0"/><rect x="43.2" y="54.0" width="0.75" height="0.75" fill="#b4b8e0"/><rect x="39.7" y="67.9" width="0.75" height="0.75" fill="#b4b8e0"/><rect x="44.0" y="53.6" width="0.75" height="0.75" fill="#b4b8e0"/><rect x="39.4" y="73.8" width="0.75" height="0.75" fill="#b4b8e0"/><rect x="45.7" y="61.6" width="0.75" height="0.75" fill="#b4b8e0"/><rect x="38.2" y="68.0" width="0.75" height="0.75" fill="#b4b8e0"/><rect x="44.8" y="52.3" width="0.75" height="0.75" fill="#b4b8e0"/><rect x="41.5" y="38.8" width="0.75" height="0.75" fill="#b4b8e0"/><rect x="45.3" y="44.1" width="0.75" height="0.75" fill="#b4b8e0"/><rect x="46.2" y="50.6" width="0.75" height="0.75" fill="#b4b8e0"/><rect x="38.9" y="58.7" width="0.75" height="0.75" fill="#b4b8e0"/><rect x="43.1" y="43.7" width="0.75" height="0.75" fill="#b4b8e0"/><rect x="41.6" y="61.1" width="0.75" height="0.75" fill="#b4b8e0"/><rect x="40.7" y="41.6" width="0.75" height="0.75" fill="#b4b8e0"/><rect x="40.8" y="45.4" width="0.75" height="0.75" fill="#b4b8e0"/><rect x="39.1" y="55.5" width="0.75" height="0.75" fill="#b4b8e0"/><rect x="41.7" y="52.9" width="0.75" height="0.75" fill="#b4b8e0"/><rect x="33.8" y="58.5" width="0.75" height="0.75" fill="#b4b8e0"/><rect x="41.0" y="50.9" width="0.75" height="0.75" fill="#b4b8e0"/></g>
<rect x="167.3" y="277.8" width="74.6" height="75.4" fill="none" stroke="#222" stroke-width="1.3"/>
<path d="M205.3,353.20000000000005 V316.3 H234.5 V353.20000000000005" fill="none" stroke="#222" stroke-width="0.8"/>
<text x="219.9" y="310.8" font-size="3.9" text-anchor="middle" textLength="14.6" lengthAdjust="spacingAndGlyphs" font-weight="bold" fill="#111">CD45.2<tspan dy="-1" font-size="2.5">+</tspan></text>
<text x="219.9" y="315.2" font-size="3.9" text-anchor="middle" textLength="18.4" lengthAdjust="spacingAndGlyphs" font-weight="bold" fill="#111">19.7 ± 2.8</text>
<text x="268.6" y="273.3" font-size="6.2" textLength="43.5" lengthAdjust="spacingAndGlyphs">FMT-YA 16 weeks</text>
<g transform="translate(253.1 277.8)"><g filter="url(#bl)" opacity="0.95"><ellipse cx="24.0" cy="23.0" rx="7.00" ry="2.50" fill="#5a6ad8" fill-opacity="0.5" transform="rotate(-20 24.0 23.0)"/><ellipse cx="16.6" cy="27.0" rx="5.00" ry="11.00" fill="#5a6ad8" fill-opacity="0.5"/><ellipse cx="16.6" cy="27.0" rx="2.50" ry="5.50" fill="#3a8ee0" fill-opacity="0.8"/><ellipse cx="16.6" cy="26.7" rx="4.60" ry="9.50" fill="#5a6ad8" fill-opacity="0.5"/><ellipse cx="16.6" cy="26.7" rx="3.94" ry="8.14" fill="#3a8ee0" fill-opacity="0.8"/><ellipse cx="16.6" cy="26.7" rx="3.29" ry="6.79" fill="#22b8c8" fill-opacity="1"/><ellipse cx="16.6" cy="26.7" rx="2.63" ry="5.43" fill="#2cb84a" fill-opacity="1"/><ellipse cx="16.6" cy="26.7" rx="1.97" ry="4.07" fill="#c8d428" fill-opacity="1"/><ellipse cx="16.6" cy="26.7" rx="1.31" ry="2.71" fill="#f09020" fill-opacity="1"/><ellipse cx="16.6" cy="26.7" rx="0.66" ry="1.36" fill="#e02020" fill-opacity="1"/><ellipse cx="47.7" cy="54.4" rx="8.50" ry="16.50" fill="#5a6ad8" fill-opacity="0.5"/><ellipse cx="47.7" cy="54.4" rx="8.00" ry="16.00" fill="#5a6ad8" fill-opacity="0.5"/><ellipse cx="47.7" cy="54.4" rx="4.00" ry="8.00" fill="#3a8ee0" fill-opacity="0.8"/><ellipse cx="47.7" cy="54.4" rx="6.50" ry="14.00" fill="#5a6ad8" fill-opacity="0.5"/><ellipse cx="47.7" cy="54.4" rx="5.20" ry="11.20" fill="#3a8ee0" fill-opacity="0.8"/><ellipse cx="47.7" cy="54.4" rx="3.90" ry="8.40" fill="#22b8c8" fill-opacity="1"/><ellipse cx="47.7" cy="54.4" rx="2.60" ry="5.60" fill="#2cb84a" fill-opacity="1"/><ellipse cx="47.7" cy="54.4" rx="1.30" ry="2.80" fill="#c8d428" fill-opacity="1"/></g><rect x="17.1" y="56.2" width="0.75" height="0.75" fill="#5a6ad0"/><rect x="15.8" y="55.2" width="0.75" height="0.75" fill="#5a6ad0"/><rect x="19.3" y="55.7" width="0.75" height="0.75" fill="#5a6ad0"/><rect x="20.9" y="44.0" width="0.75" height="0.75" fill="#5a6ad0"/><rect x="17.2" y="45.7" width="0.75" height="0.75" fill="#5a6ad0"/><rect x="15.0" y="50.3" width="0.75" height="0.75" fill="#5a6ad0"/><rect x="17.6" y="55.8" width="0.75" height="0.75" fill="#5a6ad0"/><rect x="18.3" y="72.1" width="0.75" height="0.75" fill="#5a6ad0"/><rect x="19.2" y="37.6" width="0.75" height="0.75" fill="#5a6ad0"/><rect x="17.5" y="46.4" width="0.75" height="0.75" fill="#5a6ad0"/><rect x="15.7" y="63.8" width="0.75" height="0.75" fill="#5a6ad0"/><rect x="16.4" y="34.4" width="0.75" height="0.75" fill="#5a6ad0"/><rect x="17.8" y="49.4" width="0.75" height="0.75" fill="#5a6ad0"/><rect x="14.1" y="43.7" width="0.75" height="0.75" fill="#5a6ad0"/><rect x="15.4" y="51.8" width="0.75" height="0.75" fill="#5a6ad0"/><rect x="15.9" y="52.6" width="0.75" height="0.75" fill="#5a6ad0"/><rect x="21.6" y="44.8" width="0.75" height="0.75" fill="#5a6ad0"/><rect x="15.0" y="49.8" width="0.75" height="0.75" fill="#5a6ad0"/><rect x="19.7" y="45.6" width="0.75" height="0.75" fill="#5a6ad0"/><rect x="20.6" y="40.2" width="0.75" height="0.75" fill="#5a6ad0"/><rect x="14.4" y="51.5" width="0.75" height="0.75" fill="#5a6ad0"/><rect x="14.8" y="46.4" width="0.75" height="0.75" fill="#5a6ad0"/><rect x="18.1" y="58.5" width="0.75" height="0.75" fill="#5a6ad0"/><rect x="17.3" y="49.5" width="0.75" height="0.75" fill="#5a6ad0"/><rect x="20.4" y="55.6" width="0.75" height="0.75" fill="#5a6ad0"/><rect x="16.4" y="62.9" width="0.75" height="0.75" fill="#5a6ad0"/><rect x="14.7" y="53.5" width="0.75" height="0.75" fill="#5a6ad0"/><rect x="18.6" y="51.9" width="0.75" height="0.75" fill="#5a6ad0"/><rect x="15.6" y="55.2" width="0.75" height="0.75" fill="#5a6ad0"/><rect x="15.6" y="46.6" width="0.75" height="0.75" fill="#5a6ad0"/><rect x="14.4" y="63.7" width="0.75" height="0.75" fill="#5a6ad0"/><rect x="15.6" y="62.4" width="0.75" height="0.75" fill="#5a6ad0"/><rect x="18.0" y="49.7" width="0.75" height="0.75" fill="#5a6ad0"/><rect x="18.7" y="54.4" width="0.75" height="0.75" fill="#5a6ad0"/><rect x="17.3" y="39.6" width="0.75" height="0.75" fill="#5a6ad0"/><rect x="17.2" y="60.0" width="0.75" height="0.75" fill="#5a6ad0"/><rect x="18.2" y="61.0" width="0.75" height="0.75" fill="#5a6ad0"/><rect x="20.7" y="55.7" width="0.75" height="0.75" fill="#5a6ad0"/><rect x="21.9" y="38.4" width="0.75" height="0.75" fill="#5a6ad0"/><rect x="16.4" y="29.3" width="0.75" height="0.75" fill="#5a6ad0"/><rect x="19.1" y="52.8" width="0.75" height="0.75" fill="#5a6ad0"/><rect x="21.2" y="48.7" width="0.75" height="0.75" fill="#5a6ad0"/><rect x="11.9" y="63.5" width="0.75" height="0.75" fill="#5a6ad0"/><rect x="13.6" y="40.6" width="0.75" height="0.75" fill="#5a6ad0"/><rect x="16.6" y="57.6" width="0.75" height="0.75" fill="#5a6ad0"/><rect x="15.7" y="53.7" width="0.75" height="0.75" fill="#5a6ad0"/><rect x="12.3" y="67.6" width="0.75" height="0.75" fill="#5a6ad0"/><rect x="16.8" y="53.1" width="0.75" height="0.75" fill="#5a6ad0"/><rect x="18.5" y="53.5" width="0.75" height="0.75" fill="#5a6ad0"/><rect x="17.5" y="43.6" width="0.75" height="0.75" fill="#5a6ad0"/><rect x="16.7" y="55.9" width="0.75" height="0.75" fill="#5a6ad0"/><rect x="19.6" y="50.9" width="0.75" height="0.75" fill="#5a6ad0"/><rect x="17.2" y="55.0" width="0.75" height="0.75" fill="#5a6ad0"/><rect x="18.4" y="53.9" width="0.75" height="0.75" fill="#5a6ad0"/><rect x="16.4" y="47.4" width="0.75" height="0.75" fill="#5a6ad0"/><rect x="19.8" y="54.7" width="0.75" height="0.75" fill="#5a6ad0"/><rect x="19.2" y="59.7" width="0.75" height="0.75" fill="#5a6ad0"/><rect x="17.4" y="42.9" width="0.75" height="0.75" fill="#5a6ad0"/><rect x="19.8" y="51.2" width="0.75" height="0.75" fill="#5a6ad0"/><rect x="17.1" y="61.2" width="0.75" height="0.75" fill="#5a6ad0"/><rect x="19.5" y="54.2" width="0.75" height="0.75" fill="#5a6ad0"/><rect x="17.0" y="70.9" width="0.75" height="0.75" fill="#5a6ad0"/><rect x="18.4" y="42.8" width="0.75" height="0.75" fill="#5a6ad0"/><rect x="18.9" y="53.4" width="0.75" height="0.75" fill="#5a6ad0"/><rect x="17.1" y="58.1" width="0.75" height="0.75" fill="#5a6ad0"/><rect x="17.6" y="70.0" width="0.75" height="0.75" fill="#5a6ad0"/><rect x="17.5" y="54.3" width="0.75" height="0.75" fill="#5a6ad0"/><rect x="19.9" y="46.9" width="0.75" height="0.75" fill="#5a6ad0"/><rect x="19.5" y="51.5" width="0.75" height="0.75" fill="#5a6ad0"/><rect x="20.0" y="44.4" width="0.75" height="0.75" fill="#5a6ad0"/><rect x="18.0" y="37.6" width="0.75" height="0.75" fill="#5a6ad0"/><rect x="15.9" y="52.1" width="0.75" height="0.75" fill="#5a6ad0"/><rect x="18.2" y="69.8" width="0.75" height="0.75" fill="#5a6ad0"/><rect x="21.6" y="39.9" width="0.75" height="0.75" fill="#5a6ad0"/><rect x="15.1" y="63.3" width="0.75" height="0.75" fill="#5a6ad0"/><rect x="18.1" y="39.7" width="0.75" height="0.75" fill="#5a6ad0"/><rect x="18.2" y="41.9" width="0.75" height="0.75" fill="#5a6ad0"/><rect x="14.9" y="40.7" width="0.75" height="0.75" fill="#5a6ad0"/><rect x="16.4" y="72.2" width="0.75" height="0.75" fill="#5a6ad0"/><rect x="17.9" y="51.0" width="0.75" height="0.75" fill="#5a6ad0"/><rect x="23.3" y="47.8" width="0.75" height="0.75" fill="#5a6ad0"/><rect x="16.6" y="49.6" width="0.75" height="0.75" fill="#5a6ad0"/><rect x="18.1" y="49.2" width="0.75" height="0.75" fill="#5a6ad0"/><rect x="20.6" y="49.4" width="0.75" height="0.75" fill="#5a6ad0"/><rect x="18.4" y="54.0" width="0.75" height="0.75" fill="#5a6ad0"/><rect x="14.9" y="43.2" width="0.75" height="0.75" fill="#5a6ad0"/><rect x="16.9" y="31.4" width="0.75" height="0.75" fill="#5a6ad0"/><rect x="17.0" y="52.7" width="0.75" height="0.75" fill="#5a6ad0"/><rect x="17.4" y="51.3" width="0.75" height="0.75" fill="#5a6ad0"/><rect x="17.9" y="48.9" width="0.75" height="0.75" fill="#5a6ad0"/><rect x="18.6" y="37.4" width="0.75" height="0.75" fill="#5a6ad0"/><rect x="19.3" y="44.1" width="0.75" height="0.75" fill="#5a6ad0"/><rect x="18.2" y="47.8" width="0.75" height="0.75" fill="#5a6ad0"/><rect x="15.9" y="44.9" width="0.75" height="0.75" fill="#5a6ad0"/><rect x="20.4" y="42.2" width="0.75" height="0.75" fill="#5a6ad0"/><rect x="14.0" y="54.0" width="0.75" height="0.75" fill="#5a6ad0"/><rect x="17.7" y="52.4" width="0.75" height="0.75" fill="#5a6ad0"/><rect x="14.6" y="46.2" width="0.75" height="0.75" fill="#5a6ad0"/><rect x="19.3" y="42.7" width="0.75" height="0.75" fill="#5a6ad0"/><rect x="18.5" y="58.5" width="0.75" height="0.75" fill="#5a6ad0"/><rect x="17.3" y="41.1" width="0.75" height="0.75" fill="#5a6ad0"/><rect x="21.8" y="53.1" width="0.75" height="0.75" fill="#5a6ad0"/><rect x="17.5" y="48.6" width="0.75" height="0.75" fill="#5a6ad0"/><rect x="14.6" y="49.6" width="0.75" height="0.75" fill="#5a6ad0"/><rect x="17.5" y="44.4" width="0.75" height="0.75" fill="#5a6ad0"/><rect x="17.3" y="62.3" width="0.75" height="0.75" fill="#5a6ad0"/><rect x="18.1" y="51.2" width="0.75" height="0.75" fill="#5a6ad0"/><rect x="19.6" y="60.3" width="0.75" height="0.75" fill="#5a6ad0"/><rect x="19.3" y="44.9" width="0.75" height="0.75" fill="#5a6ad0"/><rect x="35.0" y="64.4" width="0.75" height="0.75" fill="#5a6ad0"/><rect x="48.1" y="49.2" width="0.75" height="0.75" fill="#5a6ad0"/><rect x="51.1" y="48.2" width="0.75" height="0.75" fill="#5a6ad0"/><rect x="36.6" y="64.9" width="0.75" height="0.75" fill="#5a6ad0"/><rect x="49.5" y="60.6" width="0.75" height="0.75" fill="#5a6ad0"/><rect x="41.3" y="54.4" width="0.75" height="0.75" fill="#5a6ad0"/><rect x="33.1" y="46.7" width="0.75" height="0.75" fill="#5a6ad0"/><rect x="47.5" y="52.7" width="0.75" height="0.75" fill="#5a6ad0"/><rect x="44.4" y="69.1" width="0.75" height="0.75" fill="#5a6ad0"/><rect x="36.6" y="55.7" width="0.75" height="0.75" fill="#5a6ad0"/><rect x="44.9" y="54.5" width="0.75" height="0.75" fill="#5a6ad0"/><rect x="40.3" y="71.4" width="0.75" height="0.75" fill="#5a6ad0"/><rect x="57.5" y="52.4" width="0.75" height="0.75" fill="#5a6ad0"/><rect x="43.4" y="38.0" width="0.75" height="0.75" fill="#5a6ad0"/><rect x="32.6" y="59.9" width="0.75" height="0.75" fill="#5a6ad0"/><rect x="49.9" y="36.6" width="0.75" height="0.75" fill="#5a6ad0"/><rect x="44.1" y="56.5" width="0.75" height="0.75" fill="#5a6ad0"/><rect x="48.6" y="41.8" width="0.75" height="0.75" fill="#5a6ad0"/><rect x="45.7" y="48.1" width="0.75" height="0.75" fill="#5a6ad0"/><rect x="51.1" y="57.6" width="0.75" height="0.75" fill="#5a6ad0"/><rect x="49.3" y="46.4" width="0.75" height="0.75" fill="#5a6ad0"/><rect x="53.2" y="46.8" width="0.75" height="0.75" fill="#5a6ad0"/><rect x="41.9" y="48.5" width="0.75" height="0.75" fill="#5a6ad0"/><rect x="45.5" y="50.0" width="0.75" height="0.75" fill="#5a6ad0"/><rect x="34.3" y="71.5" width="0.75" height="0.75" fill="#5a6ad0"/><rect x="52.1" y="71.1" width="0.75" height="0.75" fill="#5a6ad0"/><rect x="45.0" y="63.7" width="0.75" height="0.75" fill="#5a6ad0"/><rect x="49.1" y="54.4" width="0.75" height="0.75" fill="#5a6ad0"/><rect x="60.2" y="46.4" width="0.75" height="0.75" fill="#5a6ad0"/><rect x="51.7" y="31.6" width="0.75" height="0.75" fill="#5a6ad0"/><rect x="51.6" y="51.8" width="0.75" height="0.75" fill="#5a6ad0"/><rect x="40.6" y="46.3" width="0.75" height="0.75" fill="#5a6ad0"/><rect x="32.9" y="40.3" width="0.75" height="0.75" fill="#5a6ad0"/><rect x="48.9" y="19.9" width="0.75" height="0.75" fill="#5a6ad0"/><rect x="55.2" y="66.6" width="0.75" height="0.75" fill="#5a6ad0"/><rect x="42.5" y="34.8" width="0.75" height="0.75" fill="#5a6ad0"/><rect x="38.0" y="37.5" width="0.75" height="0.75" fill="#5a6ad0"/><rect x="39.8" y="63.8" width="0.75" height="0.75" fill="#5a6ad0"/><rect x="56.4" y="41.8" width="0.75" height="0.75" fill="#5a6ad0"/><rect x="45.8" y="62.8" width="0.75" height="0.75" fill="#5a6ad0"/><rect x="43.1" y="70.2" width="0.75" height="0.75" fill="#5a6ad0"/><rect x="62.7" y="53.4" width="0.75" height="0.75" fill="#5a6ad0"/><rect x="42.0" y="61.7" width="0.75" height="0.75" fill="#5a6ad0"/><rect x="50.1" y="44.3" width="0.75" height="0.75" fill="#5a6ad0"/><rect x="46.7" y="55.1" width="0.75" height="0.75" fill="#5a6ad0"/><rect x="51.2" y="68.8" width="0.75" height="0.75" fill="#5a6ad0"/><rect x="44.3" y="37.2" width="0.75" height="0.75" fill="#5a6ad0"/><rect x="44.8" y="48.7" width="0.75" height="0.75" fill="#5a6ad0"/><rect x="64.9" y="68.5" width="0.75" height="0.75" fill="#5a6ad0"/><rect x="63.4" y="51.8" width="0.75" height="0.75" fill="#5a6ad0"/><rect x="42.9" y="47.2" width="0.75" height="0.75" fill="#5a6ad0"/><rect x="52.2" y="59.5" width="0.75" height="0.75" fill="#5a6ad0"/><rect x="57.2" y="39.9" width="0.75" height="0.75" fill="#5a6ad0"/><rect x="50.8" y="61.7" width="0.75" height="0.75" fill="#5a6ad0"/><rect x="54.1" y="73.7" width="0.75" height="0.75" fill="#5a6ad0"/><rect x="44.0" y="39.2" width="0.75" height="0.75" fill="#5a6ad0"/><rect x="53.0" y="51.4" width="0.75" height="0.75" fill="#5a6ad0"/><rect x="43.6" y="52.8" width="0.75" height="0.75" fill="#5a6ad0"/><rect x="49.2" y="55.9" width="0.75" height="0.75" fill="#5a6ad0"/><rect x="46.3" y="60.1" width="0.75" height="0.75" fill="#5a6ad0"/><rect x="68.0" y="69.3" width="0.75" height="0.75" fill="#5a6ad0"/><rect x="44.3" y="33.9" width="0.75" height="0.75" fill="#5a6ad0"/><rect x="38.0" y="27.4" width="0.75" height="0.75" fill="#5a6ad0"/><rect x="55.8" y="39.7" width="0.75" height="0.75" fill="#5a6ad0"/><rect x="37.7" y="46.6" width="0.75" height="0.75" fill="#5a6ad0"/><rect x="46.2" y="37.7" width="0.75" height="0.75" fill="#5a6ad0"/><rect x="43.6" y="53.9" width="0.75" height="0.75" fill="#5a6ad0"/><rect x="52.2" y="41.6" width="0.75" height="0.75" fill="#5a6ad0"/><rect x="51.6" y="57.3" width="0.75" height="0.75" fill="#5a6ad0"/><rect x="51.5" y="46.9" width="0.75" height="0.75" fill="#5a6ad0"/><rect x="39.5" y="66.4" width="0.75" height="0.75" fill="#5a6ad0"/><rect x="51.7" y="45.1" width="0.75" height="0.75" fill="#5a6ad0"/><rect x="42.1" y="62.9" width="0.75" height="0.75" fill="#5a6ad0"/><rect x="61.8" y="58.7" width="0.75" height="0.75" fill="#5a6ad0"/><rect x="65.3" y="57.9" width="0.75" height="0.75" fill="#5a6ad0"/><rect x="50.0" y="60.2" width="0.75" height="0.75" fill="#5a6ad0"/><rect x="55.3" y="34.3" width="0.75" height="0.75" fill="#5a6ad0"/><rect x="48.7" y="70.4" width="0.75" height="0.75" fill="#5a6ad0"/><rect x="36.7" y="57.0" width="0.75" height="0.75" fill="#5a6ad0"/><rect x="58.7" y="53.5" width="0.75" height="0.75" fill="#5a6ad0"/><rect x="62.2" y="39.5" width="0.75" height="0.75" fill="#5a6ad0"/><rect x="37.8" y="71.3" width="0.75" height="0.75" fill="#5a6ad0"/><rect x="52.4" y="39.0" width="0.75" height="0.75" fill="#5a6ad0"/><rect x="55.3" y="65.3" width="0.75" height="0.75" fill="#5a6ad0"/><rect x="52.8" y="48.2" width="0.75" height="0.75" fill="#5a6ad0"/><rect x="38.7" y="31.9" width="0.75" height="0.75" fill="#5a6ad0"/><rect x="46.1" y="51.9" width="0.75" height="0.75" fill="#5a6ad0"/><rect x="44.1" y="46.6" width="0.75" height="0.75" fill="#5a6ad0"/><rect x="54.2" y="39.1" width="0.75" height="0.75" fill="#5a6ad0"/><rect x="43.2" y="45.6" width="0.75" height="0.75" fill="#5a6ad0"/><rect x="55.1" y="30.3" width="0.75" height="0.75" fill="#5a6ad0"/><rect x="59.1" y="37.2" width="0.75" height="0.75" fill="#5a6ad0"/><rect x="41.8" y="37.1" width="0.75" height="0.75" fill="#5a6ad0"/><rect x="40.9" y="44.3" width="0.75" height="0.75" fill="#5a6ad0"/><rect x="54.2" y="53.0" width="0.75" height="0.75" fill="#5a6ad0"/><rect x="57.3" y="64.1" width="0.75" height="0.75" fill="#5a6ad0"/><rect x="38.9" y="54.2" width="0.75" height="0.75" fill="#5a6ad0"/><rect x="43.4" y="48.3" width="0.75" height="0.75" fill="#5a6ad0"/><rect x="48.5" y="58.8" width="0.75" height="0.75" fill="#5a6ad0"/><rect x="50.7" y="26.1" width="0.75" height="0.75" fill="#5a6ad0"/><rect x="46.6" y="47.9" width="0.75" height="0.75" fill="#5a6ad0"/><rect x="60.7" y="50.7" width="0.75" height="0.75" fill="#5a6ad0"/><rect x="47.4" y="54.0" width="0.75" height="0.75" fill="#5a6ad0"/><rect x="53.1" y="38.9" width="0.75" height="0.75" fill="#5a6ad0"/><rect x="46.7" y="52.3" width="0.75" height="0.75" fill="#5a6ad0"/><rect x="47.5" y="50.6" width="0.75" height="0.75" fill="#5a6ad0"/><rect x="43.8" y="55.0" width="0.75" height="0.75" fill="#5a6ad0"/><rect x="47.6" y="30.1" width="0.75" height="0.75" fill="#5a6ad0"/><rect x="45.6" y="66.3" width="0.75" height="0.75" fill="#5a6ad0"/><rect x="46.2" y="51.9" width="0.75" height="0.75" fill="#5a6ad0"/><rect x="31.5" y="72.5" width="0.75" height="0.75" fill="#5a6ad0"/><rect x="48.1" y="28.1" width="0.75" height="0.75" fill="#5a6ad0"/><rect x="44.5" y="73.0" width="0.75" height="0.75" fill="#5a6ad0"/><rect x="50.3" y="34.3" width="0.75" height="0.75" fill="#5a6ad0"/><rect x="43.7" y="57.1" width="0.75" height="0.75" fill="#5a6ad0"/><rect x="62.2" y="57.1" width="0.75" height="0.75" fill="#5a6ad0"/><rect x="52.8" y="49.7" width="0.75" height="0.75" fill="#5a6ad0"/><rect x="48.0" y="40.7" width="0.75" height="0.75" fill="#5a6ad0"/><rect x="38.3" y="36.1" width="0.75" height="0.75" fill="#5a6ad0"/><rect x="43.5" y="70.3" width="0.75" height="0.75" fill="#5a6ad0"/><rect x="47.4" y="69.5" width="0.75" height="0.75" fill="#5a6ad0"/><rect x="53.1" y="55.9" width="0.75" height="0.75" fill="#5a6ad0"/><rect x="55.6" y="70.2" width="0.75" height="0.75" fill="#5a6ad0"/><rect x="65.2" y="73.8" width="0.75" height="0.75" fill="#5a6ad0"/><rect x="49.3" y="58.9" width="0.75" height="0.75" fill="#5a6ad0"/><rect x="17.7" y="12.5" width="0.75" height="0.75" fill="#c0c0cc"/><rect x="24.1" y="40.0" width="0.75" height="0.75" fill="#c0c0cc"/><rect x="22.9" y="53.9" width="0.75" height="0.75" fill="#c0c0cc"/><rect x="37.2" y="39.4" width="0.75" height="0.75" fill="#c0c0cc"/><rect x="30.8" y="68.9" width="0.75" height="0.75" fill="#c0c0cc"/><rect x="54.1" y="66.3" width="0.75" height="0.75" fill="#c0c0cc"/><rect x="25.5" y="58.6" width="0.75" height="0.75" fill="#c0c0cc"/><rect x="16.1" y="12.3" width="0.75" height="0.75" fill="#c0c0cc"/><rect x="50.7" y="53.3" width="0.75" height="0.75" fill="#c0c0cc"/><rect x="38.2" y="61.6" width="0.75" height="0.75" fill="#c0c0cc"/><rect x="50.2" y="44.4" width="0.75" height="0.75" fill="#c0c0cc"/><rect x="33.4" y="49.3" width="0.75" height="0.75" fill="#c0c0cc"/><rect x="40.4" y="42.9" width="0.75" height="0.75" fill="#c0c0cc"/><rect x="21.1" y="31.1" width="0.75" height="0.75" fill="#c0c0cc"/><rect x="37.4" y="39.4" width="0.75" height="0.75" fill="#c0c0cc"/><rect x="47.4" y="33.2" width="0.75" height="0.75" fill="#c0c0cc"/><rect x="34.1" y="39.3" width="0.75" height="0.75" fill="#c0c0cc"/><rect x="45.4" y="26.7" width="0.75" height="0.75" fill="#c0c0cc"/><rect x="18.6" y="14.9" width="0.75" height="0.75" fill="#c0c0cc"/><rect x="36.4" y="46.1" width="0.75" height="0.75" fill="#c0c0cc"/><rect x="38.9" y="53.0" width="0.75" height="0.75" fill="#c0c0cc"/><rect x="15.7" y="34.6" width="0.75" height="0.75" fill="#c0c0cc"/><rect x="17.2" y="58.9" width="0.75" height="0.75" fill="#c0c0cc"/><rect x="40.7" y="18.5" width="0.75" height="0.75" fill="#c0c0cc"/><rect x="36.7" y="42.0" width="0.75" height="0.75" fill="#c0c0cc"/><rect x="31.7" y="50.9" width="0.75" height="0.75" fill="#c0c0cc"/><rect x="22.9" y="35.6" width="0.75" height="0.75" fill="#c0c0cc"/><rect x="22.2" y="30.3" width="0.75" height="0.75" fill="#c0c0cc"/><rect x="17.7" y="57.8" width="0.75" height="0.75" fill="#c0c0cc"/><rect x="37.3" y="36.7" width="0.75" height="0.75" fill="#c0c0cc"/><rect x="30.7" y="43.4" width="0.75" height="0.75" fill="#c0c0cc"/><rect x="38.1" y="66.1" width="0.75" height="0.75" fill="#c0c0cc"/><rect x="26.7" y="4.8" width="0.75" height="0.75" fill="#c0c0cc"/><rect x="26.5" y="40.1" width="0.75" height="0.75" fill="#c0c0cc"/><rect x="23.4" y="62.4" width="0.75" height="0.75" fill="#c0c0cc"/><rect x="24.9" y="45.1" width="0.75" height="0.75" fill="#c0c0cc"/><rect x="20.5" y="51.8" width="0.75" height="0.75" fill="#c0c0cc"/><rect x="21.9" y="52.8" width="0.75" height="0.75" fill="#c0c0cc"/><rect x="31.9" y="42.8" width="0.75" height="0.75" fill="#c0c0cc"/><rect x="34.1" y="16.2" width="0.75" height="0.75" fill="#c0c0cc"/><rect x="24.8" y="43.6" width="0.75" height="0.75" fill="#c0c0cc"/><rect x="25.7" y="58.4" width="0.75" height="0.75" fill="#c0c0cc"/><rect x="40.9" y="29.4" width="0.75" height="0.75" fill="#c0c0cc"/><rect x="44.5" y="37.0" width="0.75" height="0.75" fill="#c0c0cc"/><rect x="37.0" y="58.8" width="0.75" height="0.75" fill="#c0c0cc"/><rect x="16.9" y="28.1" width="0.75" height="0.75" fill="#c0c0cc"/><rect x="29.6" y="36.8" width="0.75" height="0.75" fill="#c0c0cc"/><rect x="41.8" y="29.2" width="0.75" height="0.75" fill="#c0c0cc"/><rect x="56.5" y="26.4" width="0.75" height="0.75" fill="#c0c0cc"/><rect x="57.7" y="29.5" width="0.75" height="0.75" fill="#c0c0cc"/><rect x="48.6" y="27.1" width="0.75" height="0.75" fill="#c0c0cc"/><rect x="51.8" y="22.3" width="0.75" height="0.75" fill="#c0c0cc"/><rect x="48.2" y="32.4" width="0.75" height="0.75" fill="#c0c0cc"/><rect x="35.6" y="20.8" width="0.75" height="0.75" fill="#c0c0cc"/><rect x="60.7" y="23.2" width="0.75" height="0.75" fill="#c0c0cc"/><rect x="49.9" y="31.4" width="0.75" height="0.75" fill="#c0c0cc"/><rect x="47.7" y="23.4" width="0.75" height="0.75" fill="#c0c0cc"/><rect x="58.4" y="22.0" width="0.75" height="0.75" fill="#c0c0cc"/><rect x="51.0" y="25.5" width="0.75" height="0.75" fill="#c0c0cc"/><rect x="63.0" y="19.6" width="0.75" height="0.75" fill="#c0c0cc"/><rect x="59.4" y="24.7" width="0.75" height="0.75" fill="#c0c0cc"/><rect x="52.4" y="17.2" width="0.75" height="0.75" fill="#c0c0cc"/><rect x="69.0" y="28.5" width="0.75" height="0.75" fill="#c0c0cc"/><rect x="57.3" y="23.3" width="0.75" height="0.75" fill="#c0c0cc"/><rect x="68.1" y="21.2" width="0.75" height="0.75" fill="#c0c0cc"/><rect x="47.1" y="20.4" width="0.75" height="0.75" fill="#c0c0cc"/><rect x="54.8" y="27.1" width="0.75" height="0.75" fill="#c0c0cc"/><rect x="39.2" y="26.8" width="0.75" height="0.75" fill="#c0c0cc"/><rect x="57.3" y="31.6" width="0.75" height="0.75" fill="#c0c0cc"/><rect x="52.5" y="34.0" width="0.75" height="0.75" fill="#c0c0cc"/><rect x="71.2" y="21.8" width="0.75" height="0.75" fill="#c0c0cc"/><rect x="53.0" y="31.1" width="0.75" height="0.75" fill="#c0c0cc"/><rect x="64.8" y="25.1" width="0.75" height="0.75" fill="#c0c0cc"/><rect x="64.4" y="15.8" width="0.75" height="0.75" fill="#c0c0cc"/><rect x="62.7" y="27.8" width="0.75" height="0.75" fill="#c0c0cc"/><rect x="62.4" y="28.0" width="0.75" height="0.75" fill="#c0c0cc"/><rect x="60.6" y="22.4" width="0.75" height="0.75" fill="#c0c0cc"/></g>
<rect x="253.1" y="277.8" width="74.6" height="75.4" fill="none" stroke="#222" stroke-width="1.3"/>
<path d="M290.3,353.20000000000005 V316.3 H319.5 V353.20000000000005" fill="none" stroke="#222" stroke-width="0.8"/>
<text x="304.9" y="310.8" font-size="3.9" text-anchor="middle" textLength="14.6" lengthAdjust="spacingAndGlyphs" font-weight="bold" fill="#111">CD45.2<tspan dy="-1" font-size="2.5">+</tspan></text>
<text x="304.9" y="315.2" font-size="3.9" text-anchor="middle" textLength="18.4" lengthAdjust="spacingAndGlyphs" font-weight="bold" fill="#111">47.1 ± 9.8</text>
<line x1="160.8" y1="331.0" x2="160.8" y2="282.0" stroke="#222" stroke-width="1.4"/>
<polygon points="160.8,278.0 163.6,283.0 158.1,283.0" fill="#222"/>
<text x="162.8" y="354.0" font-size="6.2" textLength="18.0" lengthAdjust="spacingAndGlyphs" transform="rotate(-90 162.8 354.0)">CD45.1</text>
<text x="167.1" y="362.3" font-size="6.2" textLength="17.4" lengthAdjust="spacingAndGlyphs">CD45.2</text>
<line x1="188.0" y1="360.1" x2="323.5" y2="360.1" stroke="#222" stroke-width="1.4"/>
<polygon points="327.5,360.1 322.5,362.9 322.5,357.4" fill="#222"/>
<text x="344.0" y="10.2" font-size="10" font-weight="bold" fill="#111" stroke="#111" stroke-width="0.4">C</text>
<text x="372.5" y="13.7" font-size="6.4" textLength="60.2" lengthAdjust="spacingAndGlyphs">200K donor BM cells</text>
<text x="397.2" y="20.6" font-size="6.4" textLength="9.8" lengthAdjust="spacingAndGlyphs">and</text>
<text x="365.2" y="29.2" font-size="6.4" textLength="74.8" lengthAdjust="spacingAndGlyphs">200K competitor BM cells</text>
<line x1="380.4" y1="40.0" x2="380.4" y2="91.8" stroke="#222" stroke-width="1.1"/>
<line x1="380.4" y1="91.8" x2="458.0" y2="91.8" stroke="#222" stroke-width="1.1"/>
<line x1="378.4" y1="91.8" x2="380.4" y2="91.8" stroke="#222" stroke-width="0.9"/>
<text x="375.4" y="94.2" font-size="6.6" text-anchor="end">0</text>
<line x1="378.4" y1="84.6" x2="380.4" y2="84.6" stroke="#222" stroke-width="0.9"/>
<text x="375.4" y="87.0" font-size="6.6" text-anchor="end">10</text>
<line x1="378.4" y1="77.4" x2="380.4" y2="77.4" stroke="#222" stroke-width="0.9"/>
<text x="375.4" y="79.8" font-size="6.6" text-anchor="end">20</text>
<line x1="378.4" y1="70.2" x2="380.4" y2="70.2" stroke="#222" stroke-width="0.9"/>
<text x="375.4" y="72.6" font-size="6.6" text-anchor="end">30</text>
<line x1="378.4" y1="63.0" x2="380.4" y2="63.0" stroke="#222" stroke-width="0.9"/>
<text x="375.4" y="65.4" font-size="6.6" text-anchor="end">40</text>
<line x1="378.4" y1="55.9" x2="380.4" y2="55.9" stroke="#222" stroke-width="0.9"/>
<text x="375.4" y="58.2" font-size="6.6" text-anchor="end">50</text>
<line x1="378.4" y1="48.7" x2="380.4" y2="48.7" stroke="#222" stroke-width="0.9"/>
<text x="375.4" y="51.1" font-size="6.6" text-anchor="end">60</text>
<line x1="378.4" y1="41.5" x2="380.4" y2="41.5" stroke="#222" stroke-width="0.9"/>
<text x="375.4" y="43.9" font-size="6.6" text-anchor="end">70</text>
<line x1="380.4" y1="91.8" x2="380.4" y2="93.8" stroke="#222" stroke-width="0.9"/>
<text x="380.4" y="103.6" font-size="6.6" text-anchor="middle">0</text>
<line x1="399.1" y1="91.8" x2="399.1" y2="93.8" stroke="#222" stroke-width="0.9"/>
<text x="399.1" y="103.6" font-size="6.6" text-anchor="middle">4</text>
<line x1="417.9" y1="91.8" x2="417.9" y2="93.8" stroke="#222" stroke-width="0.9"/>
<text x="417.9" y="103.6" font-size="6.6" text-anchor="middle">8</text>
<line x1="436.6" y1="91.8" x2="436.6" y2="93.8" stroke="#222" stroke-width="0.9"/>
<text x="436.6" y="103.6" font-size="6.6" text-anchor="middle">12</text>
<line x1="455.4" y1="91.8" x2="455.4" y2="93.8" stroke="#222" stroke-width="0.9"/>
<text x="455.4" y="103.6" font-size="6.6" text-anchor="middle">16</text>
<polyline points="399.1,71.7 417.9,63.0 436.6,51.5 455.4,46.5" fill="none" stroke="#1d4f8b" stroke-width="1.1"/>
<line x1="399.1" y1="70.9" x2="399.1" y2="72.4" stroke="#1d4f8b" stroke-width="0.7"/>
<line x1="397.9" y1="70.9" x2="400.3" y2="70.9" stroke="#1d4f8b" stroke-width="0.7"/>
<line x1="397.9" y1="72.4" x2="400.3" y2="72.4" stroke="#1d4f8b" stroke-width="0.7"/>
<rect x="397.9" y="70.4" width="2.6" height="2.6" fill="#1d4f8b"/>
<line x1="417.9" y1="61.6" x2="417.9" y2="64.5" stroke="#1d4f8b" stroke-width="0.7"/>
<line x1="416.7" y1="61.6" x2="419.1" y2="61.6" stroke="#1d4f8b" stroke-width="0.7"/>
<line x1="416.7" y1="64.5" x2="419.1" y2="64.5" stroke="#1d4f8b" stroke-width="0.7"/>
<rect x="416.6" y="61.8" width="2.6" height="2.6" fill="#1d4f8b"/>
<line x1="436.6" y1="49.4" x2="436.6" y2="53.7" stroke="#1d4f8b" stroke-width="0.7"/>
<line x1="435.4" y1="49.4" x2="437.8" y2="49.4" stroke="#1d4f8b" stroke-width="0.7"/>
<line x1="435.4" y1="53.7" x2="437.8" y2="53.7" stroke="#1d4f8b" stroke-width="0.7"/>
<rect x="435.4" y="50.3" width="2.6" height="2.6" fill="#1d4f8b"/>
<line x1="455.4" y1="43.6" x2="455.4" y2="49.4" stroke="#1d4f8b" stroke-width="0.7"/>
<line x1="454.2" y1="43.6" x2="456.6" y2="43.6" stroke="#1d4f8b" stroke-width="0.7"/>
<line x1="454.2" y1="49.4" x2="456.6" y2="49.4" stroke="#1d4f8b" stroke-width="0.7"/>
<rect x="454.1" y="45.2" width="2.6" height="2.6" fill="#1d4f8b"/>
<polyline points="399.1,74.5 417.9,68.8 436.6,59.4 455.4,59.4" fill="none" stroke="#c8163a" stroke-width="1.1"/>
<line x1="399.1" y1="73.8" x2="399.1" y2="75.3" stroke="#c8163a" stroke-width="0.7"/>
<line x1="397.9" y1="73.8" x2="400.3" y2="73.8" stroke="#c8163a" stroke-width="0.7"/>
<line x1="397.9" y1="75.3" x2="400.3" y2="75.3" stroke="#c8163a" stroke-width="0.7"/>
<polygon points="399.1,72.9 400.8,75.7 397.5,75.7" fill="#c8163a"/>
<line x1="417.9" y1="67.4" x2="417.9" y2="70.2" stroke="#c8163a" stroke-width="0.7"/>
<line x1="416.7" y1="67.4" x2="419.1" y2="67.4" stroke="#c8163a" stroke-width="0.7"/>
<line x1="416.7" y1="70.2" x2="419.1" y2="70.2" stroke="#c8163a" stroke-width="0.7"/>
<polygon points="417.9,67.2 419.5,70.0 416.3,70.0" fill="#c8163a"/>
<line x1="436.6" y1="58.0" x2="436.6" y2="60.9" stroke="#c8163a" stroke-width="0.7"/>
<line x1="435.4" y1="58.0" x2="437.8" y2="58.0" stroke="#c8163a" stroke-width="0.7"/>
<line x1="435.4" y1="60.9" x2="437.8" y2="60.9" stroke="#c8163a" stroke-width="0.7"/>
<polygon points="436.6,57.8 438.2,60.6 435.0,60.6" fill="#c8163a"/>
<line x1="455.4" y1="57.3" x2="455.4" y2="61.6" stroke="#c8163a" stroke-width="0.7"/>
<line x1="454.2" y1="57.3" x2="456.6" y2="57.3" stroke="#c8163a" stroke-width="0.7"/>
<line x1="454.2" y1="61.6" x2="456.6" y2="61.6" stroke="#c8163a" stroke-width="0.7"/>
<polygon points="455.4,57.8 457.0,60.6 453.8,60.6" fill="#c8163a"/>
<line x1="382.8" y1="41.6" x2="392.5" y2="41.6" stroke="#1d4f8b" stroke-width="1.0"/>
<rect x="386.1" y="40.0" width="3.2" height="3.2" fill="#1a3f70"/>
<text x="395.0" y="44.0" font-size="6.6" textLength="20.0" lengthAdjust="spacingAndGlyphs">FMT-YA</text>
<line x1="382.8" y1="49.7" x2="392.5" y2="49.7" stroke="#c8163a" stroke-width="1.0"/>
<polygon points="387.7,47.7 389.7,51.2 385.7,51.2" fill="#c8163a"/>
<text x="395.0" y="52.1" font-size="6.6" textLength="20.0" lengthAdjust="spacingAndGlyphs">FMT-AA</text>
<text x="437.5" y="49.8" font-size="6.5" text-anchor="middle" font-weight="bold" fill="#1a3f70">*</text>
<text x="456.0" y="43.3" font-size="6.5" text-anchor="middle" font-weight="bold" fill="#1a3f70">*</text>
<text x="362.5" y="65.5" font-size="8.3" text-anchor="middle" textLength="68.0" lengthAdjust="spacingAndGlyphs" transform="rotate(-90 362.5 65.5)">Donor engraftment (%)</text>
<text x="386.5" y="115.8" font-size="8.8" textLength="67.0" lengthAdjust="spacingAndGlyphs">Weeks post transplant</text>
<path d="M436.5,0 L439.5,0 L446,11.5 L444,12.8 Z" fill="#f0892a"/>
<use href="#mouse" transform="translate(440.0 12.2) scale(0.68)"/>
<g transform="translate(462.5 2.5) scale(-0.85 0.85)"><use href="#syr"/></g>
<g transform="rotate(-90 458 7.5)"></g>
<text x="344.0" y="266.2" font-size="10" font-weight="bold" fill="#111" stroke="#111" stroke-width="0.4">G</text>
<text x="365.0" y="266.5" font-size="7" textLength="36.0" lengthAdjust="spacingAndGlyphs">Primary LDA</text>
<text x="418.5" y="266.5" font-size="7" textLength="42.0" lengthAdjust="spacingAndGlyphs">Secondary LDA</text>
<path d="M374,269.6 L375.8,268.8 L380,276.6 L378.4,277.4 Z" fill="#f2a05a"/>
<use href="#mouse" transform="translate(376.6 278.2) scale(0.51)"/>
<g transform="translate(393.3 271.8) scale(-0.55 0.55)"><use href="#syr"/></g>
<path d="M428.8,269.3 L430.6,268.5 L435,277.2 L433.2,278 Z" fill="#f2a05a"/>
<use href="#mouse" transform="translate(430.8 279.0) scale(0.5)"/>
<g transform="translate(448.3 271.8) scale(-0.55 0.55)"><use href="#syr"/></g>
<line x1="396.7" y1="281.8" x2="426.8" y2="281.8" stroke="#222" stroke-width="1.0"/>
<polygon points="429.6,281.8 426.1,283.7 426.1,279.9" fill="#222"/>
<text x="403.7" y="279.9" font-size="6.3" textLength="16.0" lengthAdjust="spacingAndGlyphs">1×10<tspan font-size="4" dy="-2.5">5</tspan></text>
<text x="400.2" y="287.6" font-size="6.3" textLength="24.2" lengthAdjust="spacingAndGlyphs">BM cells</text>
<line x1="374.2" y1="295.5" x2="374.2" y2="346.8" stroke="#222" stroke-width="1.1"/>
<line x1="374.2" y1="346.8" x2="452.0" y2="346.8" stroke="#222" stroke-width="1.1"/>
<line x1="372.2" y1="346.8" x2="374.2" y2="346.8" stroke="#222" stroke-width="0.9"/>
<text x="367.9" y="349.2" font-size="6.4" text-anchor="end">0</text>
<line x1="372.2" y1="340.6" x2="374.2" y2="340.6" stroke="#222" stroke-width="0.9"/>
<text x="367.9" y="343.0" font-size="6.4" text-anchor="end">10</text>
<line x1="372.2" y1="334.4" x2="374.2" y2="334.4" stroke="#222" stroke-width="0.9"/>
<text x="367.9" y="336.8" font-size="6.4" text-anchor="end">20</text>
<line x1="372.2" y1="328.1" x2="374.2" y2="328.1" stroke="#222" stroke-width="0.9"/>
<text x="367.9" y="330.5" font-size="6.4" text-anchor="end">30</text>
<line x1="372.2" y1="321.9" x2="374.2" y2="321.9" stroke="#222" stroke-width="0.9"/>
<text x="367.9" y="324.3" font-size="6.4" text-anchor="end">40</text>
<line x1="372.2" y1="315.7" x2="374.2" y2="315.7" stroke="#222" stroke-width="0.9"/>
<text x="367.9" y="318.1" font-size="6.4" text-anchor="end">50</text>
<line x1="372.2" y1="309.5" x2="374.2" y2="309.5" stroke="#222" stroke-width="0.9"/>
<text x="367.9" y="311.9" font-size="6.4" text-anchor="end">60</text>
<line x1="372.2" y1="303.3" x2="374.2" y2="303.3" stroke="#222" stroke-width="0.9"/>
<text x="367.9" y="305.7" font-size="6.4" text-anchor="end">70</text>
<line x1="372.2" y1="297.0" x2="374.2" y2="297.0" stroke="#222" stroke-width="0.9"/>
<text x="367.9" y="299.4" font-size="6.4" text-anchor="end">80</text>
<line x1="374.2" y1="346.8" x2="374.2" y2="348.8" stroke="#222" stroke-width="0.9"/>
<text x="374.2" y="358.6" font-size="6.4" text-anchor="middle">0</text>
<line x1="392.8" y1="346.8" x2="392.8" y2="348.8" stroke="#222" stroke-width="0.9"/>
<text x="392.8" y="358.6" font-size="6.4" text-anchor="middle">4</text>
<line x1="411.4" y1="346.8" x2="411.4" y2="348.8" stroke="#222" stroke-width="0.9"/>
<text x="411.4" y="358.6" font-size="6.4" text-anchor="middle">8</text>
<line x1="430.0" y1="346.8" x2="430.0" y2="348.8" stroke="#222" stroke-width="0.9"/>
<text x="430.0" y="358.6" font-size="6.4" text-anchor="middle">12</text>
<line x1="448.6" y1="346.8" x2="448.6" y2="348.8" stroke="#222" stroke-width="0.9"/>
<text x="448.6" y="358.6" font-size="6.4" text-anchor="middle">16</text>
<polyline points="392.8,307.0 411.4,308.2 430.0,316.3 448.6,317.6" fill="none" stroke="#1d4f8b" stroke-width="1.1"/>
<line x1="392.8" y1="303.3" x2="392.8" y2="310.7" stroke="#1d4f8b" stroke-width="0.7"/>
<line x1="391.6" y1="303.3" x2="394.0" y2="303.3" stroke="#1d4f8b" stroke-width="0.7"/>
<line x1="391.6" y1="310.7" x2="394.0" y2="310.7" stroke="#1d4f8b" stroke-width="0.7"/>
<rect x="391.5" y="305.7" width="2.6" height="2.6" fill="#1d4f8b"/>
<line x1="411.4" y1="302.0" x2="411.4" y2="314.5" stroke="#1d4f8b" stroke-width="0.7"/>
<line x1="410.2" y1="302.0" x2="412.6" y2="302.0" stroke="#1d4f8b" stroke-width="0.7"/>
<line x1="410.2" y1="314.5" x2="412.6" y2="314.5" stroke="#1d4f8b" stroke-width="0.7"/>
<rect x="410.1" y="307.0" width="2.6" height="2.6" fill="#1d4f8b"/>
<line x1="430.0" y1="310.1" x2="430.0" y2="322.5" stroke="#1d4f8b" stroke-width="0.7"/>
<line x1="428.8" y1="310.1" x2="431.2" y2="310.1" stroke="#1d4f8b" stroke-width="0.7"/>
<line x1="428.8" y1="322.5" x2="431.2" y2="322.5" stroke="#1d4f8b" stroke-width="0.7"/>
<rect x="428.7" y="315.0" width="2.6" height="2.6" fill="#1d4f8b"/>
<line x1="448.6" y1="311.3" x2="448.6" y2="323.8" stroke="#1d4f8b" stroke-width="0.7"/>
<line x1="447.4" y1="311.3" x2="449.8" y2="311.3" stroke="#1d4f8b" stroke-width="0.7"/>
<line x1="447.4" y1="323.8" x2="449.8" y2="323.8" stroke="#1d4f8b" stroke-width="0.7"/>
<rect x="447.3" y="316.3" width="2.6" height="2.6" fill="#1d4f8b"/>
<polyline points="392.8,315.7 411.4,321.3 430.0,332.5 448.6,335.0" fill="none" stroke="#c8163a" stroke-width="1.1"/>
<line x1="392.8" y1="309.5" x2="392.8" y2="321.9" stroke="#c8163a" stroke-width="0.7"/>
<line x1="391.6" y1="309.5" x2="394.0" y2="309.5" stroke="#c8163a" stroke-width="0.7"/>
<line x1="391.6" y1="321.9" x2="394.0" y2="321.9" stroke="#c8163a" stroke-width="0.7"/>
<polygon points="392.8,314.1 394.4,316.9 391.2,316.9" fill="#c8163a"/>
<line x1="411.4" y1="320.1" x2="411.4" y2="322.5" stroke="#c8163a" stroke-width="0.7"/>
<line x1="410.2" y1="320.1" x2="412.6" y2="320.1" stroke="#c8163a" stroke-width="0.7"/>
<line x1="410.2" y1="322.5" x2="412.6" y2="322.5" stroke="#c8163a" stroke-width="0.7"/>
<polygon points="411.4,319.7 413.0,322.5 409.8,322.5" fill="#c8163a"/>
<line x1="430.0" y1="330.0" x2="430.0" y2="335.0" stroke="#c8163a" stroke-width="0.7"/>
<line x1="428.8" y1="330.0" x2="431.2" y2="330.0" stroke="#c8163a" stroke-width="0.7"/>
<line x1="428.8" y1="335.0" x2="431.2" y2="335.0" stroke="#c8163a" stroke-width="0.7"/>
<polygon points="430.0,330.9 431.6,333.7 428.4,333.7" fill="#c8163a"/>
<line x1="448.6" y1="334.4" x2="448.6" y2="335.6" stroke="#c8163a" stroke-width="0.7"/>
<line x1="447.4" y1="334.4" x2="449.8" y2="334.4" stroke="#c8163a" stroke-width="0.7"/>
<line x1="447.4" y1="335.6" x2="449.8" y2="335.6" stroke="#c8163a" stroke-width="0.7"/>
<polygon points="448.6,333.4 450.2,336.2 447.0,336.2" fill="#c8163a"/>
<line x1="376.0" y1="333.6" x2="391.5" y2="333.6" stroke="#1d4f8b" stroke-width="1.5"/>
<rect x="381.5" y="331.4" width="4.5" height="4.5" fill="#1d4f8b"/>
<text x="394.2" y="336.0" font-size="6.8" textLength="20.2" lengthAdjust="spacingAndGlyphs">FMT-YA</text>
<line x1="376.0" y1="343.0" x2="391.5" y2="343.0" stroke="#c8163a" stroke-width="1.5"/>
<polygon points="383.7,339.6 386.7,344.9 380.7,344.9" fill="#c8163a"/>
<text x="394.2" y="345.4" font-size="6.8" textLength="20.2" lengthAdjust="spacingAndGlyphs">FMT-AA</text>
<text x="430.0" y="310.0" font-size="6" text-anchor="middle" fill="#1d4f8b">*</text>
<text x="448.5" y="311.0" font-size="6" text-anchor="middle" fill="#1d4f8b">*</text>
<text x="354.8" y="320.5" font-size="8.8" text-anchor="middle" textLength="69.6" lengthAdjust="spacingAndGlyphs" transform="rotate(-90 354.8 320.5)">Donor engraftment (%)</text>
<text x="379.7" y="370.8" font-size="8.6" textLength="67.0" lengthAdjust="spacingAndGlyphs">Weeks post transplant</text>
<text x="296.0" y="530.2" font-size="10" font-weight="bold" fill="#111" stroke="#111" stroke-width="0.4">L</text>
<line x1="322.8" y1="557.5" x2="322.8" y2="605.6" stroke="#222" stroke-width="1.1"/>
<line x1="322.8" y1="605.6" x2="387.0" y2="605.6" stroke="#222" stroke-width="1.1"/>
<line x1="320.8" y1="605.6" x2="322.8" y2="605.6" stroke="#222" stroke-width="0.9"/>
<text x="317.8" y="608.0" font-size="7" text-anchor="end">0</text>
<line x1="320.8" y1="596.3" x2="322.8" y2="596.3" stroke="#222" stroke-width="0.9"/>
<text x="317.8" y="598.7" font-size="7" text-anchor="end">20</text>
<line x1="320.8" y1="587.0" x2="322.8" y2="587.0" stroke="#222" stroke-width="0.9"/>
<text x="317.8" y="589.4" font-size="7" text-anchor="end">40</text>
<line x1="320.8" y1="577.7" x2="322.8" y2="577.7" stroke="#222" stroke-width="0.9"/>
<text x="317.8" y="580.1" font-size="7" text-anchor="end">60</text>
<line x1="320.8" y1="568.4" x2="322.8" y2="568.4" stroke="#222" stroke-width="0.9"/>
<text x="317.8" y="570.8" font-size="7" text-anchor="end">80</text>
<line x1="320.8" y1="559.1" x2="322.8" y2="559.1" stroke="#222" stroke-width="0.9"/>
<text x="317.8" y="561.5" font-size="7" text-anchor="end">100</text>
<line x1="322.8" y1="605.6" x2="322.8" y2="607.6" stroke="#222" stroke-width="0.9"/>
<text x="322.8" y="617.4" font-size="7" text-anchor="middle">0</text>
<line x1="337.9" y1="605.6" x2="337.9" y2="607.6" stroke="#222" stroke-width="0.9"/>
<text x="337.9" y="617.4" font-size="7" text-anchor="middle">4</text>
<line x1="353.0" y1="605.6" x2="353.0" y2="607.6" stroke="#222" stroke-width="0.9"/>
<text x="353.0" y="617.4" font-size="7" text-anchor="middle">8</text>
<line x1="368.1" y1="605.6" x2="368.1" y2="607.6" stroke="#222" stroke-width="0.9"/>
<text x="368.1" y="617.4" font-size="7" text-anchor="middle">12</text>
<line x1="383.2" y1="605.6" x2="383.2" y2="607.6" stroke="#222" stroke-width="0.9"/>
<text x="383.2" y="617.4" font-size="7" text-anchor="middle">16</text>
<polyline points="337.9,583.7 353.0,580.5 368.1,577.2 383.2,575.8" fill="none" stroke="#5a8ab8" stroke-width="1.1"/>
<polyline points="337.9,589.3 353.0,588.9 368.1,585.1 383.2,583.3" fill="none" stroke="#c8163a" stroke-width="1.1"/>
<line x1="337.9" y1="588.9" x2="337.9" y2="589.8" stroke="#c8163a" stroke-width="0.7"/>
<line x1="336.7" y1="588.9" x2="339.1" y2="588.9" stroke="#c8163a" stroke-width="0.7"/>
<line x1="336.7" y1="589.8" x2="339.1" y2="589.8" stroke="#c8163a" stroke-width="0.7"/>
<rect x="336.6" y="588.0" width="2.6" height="2.6" fill="#c8163a"/>
<line x1="353.0" y1="588.4" x2="353.0" y2="589.3" stroke="#c8163a" stroke-width="0.7"/>
<line x1="351.8" y1="588.4" x2="354.2" y2="588.4" stroke="#c8163a" stroke-width="0.7"/>
<line x1="351.8" y1="589.3" x2="354.2" y2="589.3" stroke="#c8163a" stroke-width="0.7"/>
<rect x="351.7" y="587.6" width="2.6" height="2.6" fill="#c8163a"/>
<line x1="368.1" y1="584.2" x2="368.1" y2="586.1" stroke="#c8163a" stroke-width="0.7"/>
<line x1="366.9" y1="584.2" x2="369.3" y2="584.2" stroke="#c8163a" stroke-width="0.7"/>
<line x1="366.9" y1="586.1" x2="369.3" y2="586.1" stroke="#c8163a" stroke-width="0.7"/>
<rect x="366.8" y="583.9" width="2.6" height="2.6" fill="#c8163a"/>
<line x1="383.2" y1="582.4" x2="383.2" y2="584.2" stroke="#c8163a" stroke-width="0.7"/>
<line x1="382.0" y1="582.4" x2="384.4" y2="582.4" stroke="#c8163a" stroke-width="0.7"/>
<line x1="382.0" y1="584.2" x2="384.4" y2="584.2" stroke="#c8163a" stroke-width="0.7"/>
<rect x="381.9" y="582.0" width="2.6" height="2.6" fill="#c8163a"/>
<line x1="336.3" y1="550.4" x2="351.3" y2="550.4" stroke="#c8163a" stroke-width="1.3"/>
<rect x="341.6" y="548.2" width="4.3" height="4.3" fill="#c8163a"/>
<text x="354.2" y="552.8" font-size="6.6" textLength="21.8" lengthAdjust="spacingAndGlyphs">FMT-AA</text>
<line x1="336.3" y1="559.8" x2="351.3" y2="559.8" stroke="#5580a8" stroke-width="1.4"/>
<text x="354.2" y="562.2" font-size="6.6" textLength="21.8" lengthAdjust="spacingAndGlyphs">FMT-YA</text>
<text x="338.5" y="580.5" font-size="7" text-anchor="middle" font-weight="bold">***</text>
<text x="353.3" y="575.5" font-size="7" text-anchor="middle" font-weight="bold">***</text>
<text x="368.3" y="574.5" font-size="7" text-anchor="middle" font-weight="bold">***</text>
<text x="383.0" y="569.5" font-size="7" text-anchor="middle" font-weight="bold">**</text>
<text x="301.5" y="581.0" font-size="8.3" text-anchor="middle" textLength="70.0" lengthAdjust="spacingAndGlyphs" transform="rotate(-90 301.5 581.0)">Donor engraftment (%)</text>
<text x="321.0" y="630.0" font-size="8.8" textLength="67.0" lengthAdjust="spacingAndGlyphs">Weeks post transplant</text>
<text x="285.0" y="129.2" font-size="10" font-weight="bold" fill="#111" stroke="#111" stroke-width="0.4">E</text>
<rect x="322.1" y="202.3" width="5.6" height="6.2" fill="#c8163a"/>
<line x1="324.9" y1="202.3" x2="324.9" y2="201.6" stroke="#c8163a" stroke-width="0.8"/>
<line x1="323.4" y1="201.6" x2="326.4" y2="201.6" stroke="#c8163a" stroke-width="0.8"/>
<rect x="328.7" y="166.9" width="5.6" height="41.6" fill="#1d4f8b"/>
<line x1="331.5" y1="166.9" x2="331.5" y2="155.8" stroke="#1d4f8b" stroke-width="0.8"/>
<line x1="330.0" y1="155.8" x2="333.0" y2="155.8" stroke="#1d4f8b" stroke-width="0.8"/>
<line x1="324.4" y1="154.8" x2="332.0" y2="154.8" stroke="#222" stroke-width="0.9"/>
<text x="328.2" y="154.4" font-size="6.5" text-anchor="middle" font-weight="bold" fill="#222">*</text>
<line x1="328.2" y1="208.5" x2="328.2" y2="211.0" stroke="#222" stroke-width="0.9"/>
<text x="328.4" y="217.1" font-size="6.8" text-anchor="end" transform="rotate(-45 328.4 217.1)">LSK</text>
<rect x="341.1" y="206.4" width="5.6" height="2.1" fill="#c8163a"/>
<line x1="343.9" y1="206.4" x2="343.9" y2="206.0" stroke="#c8163a" stroke-width="0.8"/>
<line x1="342.4" y1="206.0" x2="345.4" y2="206.0" stroke="#c8163a" stroke-width="0.8"/>
<rect x="347.7" y="196.7" width="5.6" height="11.8" fill="#1d4f8b"/>
<line x1="350.5" y1="196.7" x2="350.5" y2="193.9" stroke="#1d4f8b" stroke-width="0.8"/>
<line x1="349.0" y1="193.9" x2="352.0" y2="193.9" stroke="#1d4f8b" stroke-width="0.8"/>
<line x1="343.4" y1="188.5" x2="351.0" y2="188.5" stroke="#222" stroke-width="0.9"/>
<text x="347.2" y="188.1" font-size="6.5" text-anchor="middle" font-weight="bold" fill="#222">**</text>
<line x1="347.2" y1="208.5" x2="347.2" y2="211.0" stroke="#222" stroke-width="0.9"/>
<text x="347.4" y="217.1" font-size="6.8" text-anchor="end" transform="rotate(-45 347.4 217.1)">LT-HSC</text>
<rect x="360.1" y="207.8" width="5.6" height="0.8" fill="#c8163a"/>
<line x1="362.9" y1="207.8" x2="362.9" y2="207.5" stroke="#c8163a" stroke-width="0.8"/>
<line x1="361.4" y1="207.5" x2="364.4" y2="207.5" stroke="#c8163a" stroke-width="0.8"/>
<rect x="366.7" y="198.5" width="5.6" height="10.0" fill="#1d4f8b"/>
<line x1="369.5" y1="198.5" x2="369.5" y2="195.0" stroke="#1d4f8b" stroke-width="0.8"/>
<line x1="368.0" y1="195.0" x2="371.0" y2="195.0" stroke="#1d4f8b" stroke-width="0.8"/>
<line x1="362.4" y1="190.5" x2="370.0" y2="190.5" stroke="#222" stroke-width="0.9"/>
<text x="366.2" y="190.1" font-size="6.5" text-anchor="middle" font-weight="bold" fill="#222">*</text>
<line x1="366.2" y1="208.5" x2="366.2" y2="211.0" stroke="#222" stroke-width="0.9"/>
<text x="366.4" y="217.1" font-size="6.8" text-anchor="end" transform="rotate(-45 366.4 217.1)">ST-HSC</text>
<rect x="379.1" y="205.7" width="5.6" height="2.8" fill="#c8163a"/>
<line x1="381.9" y1="205.7" x2="381.9" y2="205.2" stroke="#c8163a" stroke-width="0.8"/>
<line x1="380.4" y1="205.2" x2="383.4" y2="205.2" stroke="#c8163a" stroke-width="0.8"/>
<rect x="385.7" y="189.1" width="5.6" height="19.4" fill="#1d4f8b"/>
<line x1="388.5" y1="189.1" x2="388.5" y2="183.5" stroke="#1d4f8b" stroke-width="0.8"/>
<line x1="387.0" y1="183.5" x2="390.0" y2="183.5" stroke="#1d4f8b" stroke-width="0.8"/>
<line x1="381.4" y1="183.0" x2="389.0" y2="183.0" stroke="#222" stroke-width="0.9"/>
<text x="385.2" y="182.6" font-size="6.5" text-anchor="middle" font-weight="bold" fill="#222">*</text>
<line x1="385.2" y1="208.5" x2="385.2" y2="211.0" stroke="#222" stroke-width="0.9"/>
<text x="385.4" y="217.1" font-size="6.8" text-anchor="end" transform="rotate(-45 385.4 217.1)">MPP</text>
<line x1="319.2" y1="150.8" x2="319.2" y2="208.5" stroke="#222" stroke-width="1.1"/>
<line x1="319.2" y1="208.5" x2="391.3" y2="208.5" stroke="#222" stroke-width="1.1"/>
<line x1="316.4" y1="208.5" x2="319.2" y2="208.5" stroke="#222" stroke-width="0.9"/>
<text x="313.2" y="210.9" font-size="6.8" text-anchor="end">0.0</text>
<line x1="316.4" y1="194.6" x2="319.2" y2="194.6" stroke="#222" stroke-width="0.9"/>
<text x="313.2" y="197.0" font-size="6.8" text-anchor="end">0.1</text>
<line x1="316.4" y1="180.8" x2="319.2" y2="180.8" stroke="#222" stroke-width="0.9"/>
<text x="313.2" y="183.2" font-size="6.8" text-anchor="end">0.2</text>
<line x1="316.4" y1="166.9" x2="319.2" y2="166.9" stroke="#222" stroke-width="0.9"/>
<text x="313.2" y="169.3" font-size="6.8" text-anchor="end">0.3</text>
<line x1="316.4" y1="153.0" x2="319.2" y2="153.0" stroke="#222" stroke-width="0.9"/>
<text x="313.2" y="155.4" font-size="6.8" text-anchor="end">0.4</text>
<rect x="364.1" y="151" width="4.8" height="4.8" fill="#c8163a"/>
<text x="371.8" y="155.4" font-size="6" textLength="21.5" lengthAdjust="spacingAndGlyphs">FMT-AA</text>
<rect x="364.1" y="160.8" width="4.8" height="4.8" fill="#1d4f8b"/>
<text x="371.8" y="165.2" font-size="6" textLength="21.5" lengthAdjust="spacingAndGlyphs">FMT-YA</text>
<text x="287.0" y="180.8" font-size="8" text-anchor="middle" textLength="66.4" lengthAdjust="spacingAndGlyphs" transform="rotate(-90 287.0 180.8)">Percentage of TNC (%)</text>
<text x="297.0" y="181.0" font-size="8" text-anchor="middle" textLength="47.0" lengthAdjust="spacingAndGlyphs" transform="rotate(-90 297.0 181.0)">(donor derived)</text>
<rect x="448.1" y="203.2" width="5.5" height="5.8" fill="#c8163a"/>
<line x1="450.9" y1="203.2" x2="450.9" y2="202.3" stroke="#c8163a" stroke-width="0.8"/>
<line x1="449.4" y1="202.3" x2="452.4" y2="202.3" stroke="#c8163a" stroke-width="0.8"/>
<rect x="455.0" y="173.4" width="5.5" height="35.6" fill="#1d4f8b"/>
<line x1="457.8" y1="173.4" x2="457.8" y2="163.9" stroke="#1d4f8b" stroke-width="0.8"/>
<line x1="456.2" y1="163.9" x2="459.2" y2="163.9" stroke="#1d4f8b" stroke-width="0.8"/>
<line x1="450.4" y1="162.8" x2="458.2" y2="162.8" stroke="#222" stroke-width="0.9"/>
<text x="454.3" y="162.4" font-size="6.5" text-anchor="middle" font-weight="bold" fill="#222">**</text>
<line x1="454.3" y1="209.0" x2="454.3" y2="211.5" stroke="#222" stroke-width="0.9"/>
<text x="454.5" y="217.6" font-size="6.8" text-anchor="end" transform="rotate(-45 454.5 217.6)">LSK</text>
<rect x="467.1" y="207.3" width="5.5" height="1.7" fill="#c8163a"/>
<line x1="469.9" y1="207.3" x2="469.9" y2="207.1" stroke="#c8163a" stroke-width="0.8"/>
<line x1="468.4" y1="207.1" x2="471.4" y2="207.1" stroke="#c8163a" stroke-width="0.8"/>
<rect x="474.0" y="199.0" width="5.5" height="10.0" fill="#1d4f8b"/>
<line x1="476.8" y1="199.0" x2="476.8" y2="195.6" stroke="#1d4f8b" stroke-width="0.8"/>
<line x1="475.2" y1="195.6" x2="478.2" y2="195.6" stroke="#1d4f8b" stroke-width="0.8"/>
<line x1="469.4" y1="193.0" x2="477.2" y2="193.0" stroke="#222" stroke-width="0.9"/>
<text x="473.3" y="192.6" font-size="6.5" text-anchor="middle" font-weight="bold" fill="#222">*</text>
<line x1="473.3" y1="209.0" x2="473.3" y2="211.5" stroke="#222" stroke-width="0.9"/>
<text x="473.5" y="217.6" font-size="6.8" text-anchor="end" transform="rotate(-45 473.5 217.6)">LT-HSC</text>
<rect x="486.1" y="208.4" width="5.5" height="0.8" fill="#c8163a"/>
<line x1="488.9" y1="208.4" x2="488.9" y2="208.3" stroke="#c8163a" stroke-width="0.8"/>
<line x1="487.4" y1="208.3" x2="490.4" y2="208.3" stroke="#c8163a" stroke-width="0.8"/>
<rect x="493.0" y="200.6" width="5.5" height="8.4" fill="#1d4f8b"/>
<line x1="495.8" y1="200.6" x2="495.8" y2="197.9" stroke="#1d4f8b" stroke-width="0.8"/>
<line x1="494.2" y1="197.9" x2="497.2" y2="197.9" stroke="#1d4f8b" stroke-width="0.8"/>
<line x1="488.4" y1="196.0" x2="496.2" y2="196.0" stroke="#222" stroke-width="0.9"/>
<text x="492.3" y="195.6" font-size="6.5" text-anchor="middle" font-weight="bold" fill="#222">*</text>
<line x1="492.3" y1="209.0" x2="492.3" y2="211.5" stroke="#222" stroke-width="0.9"/>
<text x="492.5" y="217.6" font-size="6.8" text-anchor="end" transform="rotate(-45 492.5 217.6)">ST-HSC</text>
<rect x="505.1" y="206.8" width="5.5" height="2.2" fill="#c8163a"/>
<line x1="507.9" y1="206.8" x2="507.9" y2="206.2" stroke="#c8163a" stroke-width="0.8"/>
<line x1="506.4" y1="206.2" x2="509.4" y2="206.2" stroke="#c8163a" stroke-width="0.8"/>
<rect x="512.0" y="192.3" width="5.5" height="16.7" fill="#1d4f8b"/>
<line x1="514.8" y1="192.3" x2="514.8" y2="188.4" stroke="#1d4f8b" stroke-width="0.8"/>
<line x1="513.2" y1="188.4" x2="516.2" y2="188.4" stroke="#1d4f8b" stroke-width="0.8"/>
<line x1="507.4" y1="186.0" x2="515.2" y2="186.0" stroke="#222" stroke-width="0.9"/>
<text x="511.3" y="185.6" font-size="6.5" text-anchor="middle" font-weight="bold" fill="#222">*</text>
<line x1="511.3" y1="209.0" x2="511.3" y2="211.5" stroke="#222" stroke-width="0.9"/>
<text x="511.5" y="217.6" font-size="6.8" text-anchor="end" transform="rotate(-45 511.5 217.6)">MPP</text>
<line x1="445.8" y1="151.1" x2="445.8" y2="209.0" stroke="#222" stroke-width="1.1"/>
<line x1="445.8" y1="209.0" x2="519.0" y2="209.0" stroke="#222" stroke-width="1.1"/>
<line x1="443.0" y1="209.0" x2="445.8" y2="209.0" stroke="#222" stroke-width="0.9"/>
<text x="439.0" y="211.4" font-size="6.8" text-anchor="end">0</text>
<line x1="443.0" y1="197.9" x2="445.8" y2="197.9" stroke="#222" stroke-width="0.9"/>
<text x="439.0" y="200.3" font-size="6.8" text-anchor="end">2</text>
<line x1="443.0" y1="186.7" x2="445.8" y2="186.7" stroke="#222" stroke-width="0.9"/>
<text x="439.0" y="189.1" font-size="6.8" text-anchor="end">4</text>
<line x1="443.0" y1="175.6" x2="445.8" y2="175.6" stroke="#222" stroke-width="0.9"/>
<text x="439.0" y="178.0" font-size="6.8" text-anchor="end">6</text>
<line x1="443.0" y1="164.4" x2="445.8" y2="164.4" stroke="#222" stroke-width="0.9"/>
<text x="439.0" y="166.8" font-size="6.8" text-anchor="end">8</text>
<line x1="443.0" y1="153.3" x2="445.8" y2="153.3" stroke="#222" stroke-width="0.9"/>
<text x="439.0" y="155.7" font-size="6.8" text-anchor="end">10</text>
<rect x="491" y="153" width="4.8" height="4.8" fill="#c8163a"/>
<text x="498.7" y="157.4" font-size="6" textLength="21.5" lengthAdjust="spacingAndGlyphs">FMT-AA</text>
<rect x="491" y="162.5" width="4.8" height="4.8" fill="#1d4f8b"/>
<text x="498.7" y="166.9" font-size="6" textLength="21.5" lengthAdjust="spacingAndGlyphs">FMT-YA</text>
<text x="415.5" y="181.0" font-size="8" text-anchor="middle" textLength="75.0" lengthAdjust="spacingAndGlyphs" transform="rotate(-90 415.5 181.0)">Absolute cell number per</text>
<text x="425.8" y="180.0" font-size="8" text-anchor="middle" textLength="82.0" lengthAdjust="spacingAndGlyphs" transform="rotate(-90 425.8 180.0)">leg (×10<tspan font-size="5" dy="-2.5">4</tspan><tspan dy="2.5">) (donor derived)</tspan></text>
<text x="287.0" y="383.2" font-size="10" font-weight="bold" fill="#111" stroke="#111" stroke-width="0.4">I</text>
<rect x="321.7" y="442.3" width="5.1" height="13.8" fill="#c8163a"/>
<line x1="324.2" y1="442.3" x2="324.2" y2="437.3" stroke="#c8163a" stroke-width="0.8"/>
<line x1="322.8" y1="437.3" x2="325.8" y2="437.3" stroke="#c8163a" stroke-width="0.8"/>
<rect x="328.6" y="420.4" width="5.1" height="35.7" fill="#1d4f8b"/>
<line x1="331.1" y1="420.4" x2="331.1" y2="412.7" stroke="#1d4f8b" stroke-width="0.8"/>
<line x1="329.6" y1="412.7" x2="332.6" y2="412.7" stroke="#1d4f8b" stroke-width="0.8"/>
<line x1="323.8" y1="410.3" x2="331.6" y2="410.3" stroke="#222" stroke-width="0.9"/>
<text x="327.7" y="409.9" font-size="6.5" text-anchor="middle" font-weight="bold" fill="#222">*</text>
<line x1="327.7" y1="456.1" x2="327.7" y2="458.6" stroke="#222" stroke-width="0.9"/>
<text x="327.9" y="464.7" font-size="6.8" text-anchor="end" transform="rotate(-45 327.9 464.7)">LSK</text>
<rect x="340.7" y="452.0" width="5.1" height="4.1" fill="#c8163a"/>
<line x1="343.2" y1="452.0" x2="343.2" y2="450.6" stroke="#c8163a" stroke-width="0.8"/>
<line x1="341.8" y1="450.6" x2="344.8" y2="450.6" stroke="#c8163a" stroke-width="0.8"/>
<rect x="347.6" y="440.6" width="5.1" height="15.5" fill="#1d4f8b"/>
<line x1="350.1" y1="440.6" x2="350.1" y2="437.0" stroke="#1d4f8b" stroke-width="0.8"/>
<line x1="348.6" y1="437.0" x2="351.6" y2="437.0" stroke="#1d4f8b" stroke-width="0.8"/>
<line x1="346.7" y1="456.1" x2="346.7" y2="458.6" stroke="#222" stroke-width="0.9"/>
<text x="346.9" y="464.7" font-size="6.8" text-anchor="end" transform="rotate(-45 346.9 464.7)">LT-HSC</text>
<rect x="359.7" y="452.0" width="5.1" height="4.1" fill="#c8163a"/>
<line x1="362.2" y1="452.0" x2="362.2" y2="450.6" stroke="#c8163a" stroke-width="0.8"/>
<line x1="360.8" y1="450.6" x2="363.8" y2="450.6" stroke="#c8163a" stroke-width="0.8"/>
<rect x="366.6" y="447.8" width="5.1" height="8.3" fill="#1d4f8b"/>
<line x1="369.1" y1="447.8" x2="369.1" y2="444.2" stroke="#1d4f8b" stroke-width="0.8"/>
<line x1="367.6" y1="444.2" x2="370.6" y2="444.2" stroke="#1d4f8b" stroke-width="0.8"/>
<line x1="365.7" y1="456.1" x2="365.7" y2="458.6" stroke="#222" stroke-width="0.9"/>
<text x="365.9" y="464.7" font-size="6.8" text-anchor="end" transform="rotate(-45 365.9 464.7)">ST-HSC</text>
<rect x="378.7" y="450.0" width="5.1" height="6.1" fill="#c8163a"/>
<line x1="381.2" y1="450.0" x2="381.2" y2="449.5" stroke="#c8163a" stroke-width="0.8"/>
<line x1="379.8" y1="449.5" x2="382.8" y2="449.5" stroke="#c8163a" stroke-width="0.8"/>
<rect x="385.6" y="445.0" width="5.1" height="11.1" fill="#1d4f8b"/>
<line x1="388.1" y1="445.0" x2="388.1" y2="442.8" stroke="#1d4f8b" stroke-width="0.8"/>
<line x1="386.6" y1="442.8" x2="389.6" y2="442.8" stroke="#1d4f8b" stroke-width="0.8"/>
<line x1="380.8" y1="441.0" x2="388.6" y2="441.0" stroke="#222" stroke-width="0.9"/>
<text x="384.7" y="440.6" font-size="6.5" text-anchor="middle" font-weight="bold" fill="#222">*</text>
<line x1="384.7" y1="456.1" x2="384.7" y2="458.6" stroke="#222" stroke-width="0.9"/>
<text x="384.9" y="464.7" font-size="6.8" text-anchor="end" transform="rotate(-45 384.9 464.7)">MPP</text>
<line x1="318.5" y1="398.6" x2="318.5" y2="456.1" stroke="#222" stroke-width="1.1"/>
<line x1="318.5" y1="456.1" x2="391.3" y2="456.1" stroke="#222" stroke-width="1.1"/>
<line x1="315.7" y1="456.1" x2="318.5" y2="456.1" stroke="#222" stroke-width="0.9"/>
<text x="312.3" y="458.5" font-size="6.8" text-anchor="end">0.00</text>
<line x1="315.7" y1="442.3" x2="318.5" y2="442.3" stroke="#222" stroke-width="0.9"/>
<text x="312.3" y="444.7" font-size="6.8" text-anchor="end">0.05</text>
<line x1="315.7" y1="428.5" x2="318.5" y2="428.5" stroke="#222" stroke-width="0.9"/>
<text x="312.3" y="430.9" font-size="6.8" text-anchor="end">0.10</text>
<line x1="315.7" y1="414.6" x2="318.5" y2="414.6" stroke="#222" stroke-width="0.9"/>
<text x="312.3" y="417.0" font-size="6.8" text-anchor="end">0.15</text>
<line x1="315.7" y1="400.8" x2="318.5" y2="400.8" stroke="#222" stroke-width="0.9"/>
<text x="312.3" y="403.2" font-size="6.8" text-anchor="end">0.20</text>
<rect x="364.1" y="399.5" width="4.8" height="4.8" fill="#c8163a"/>
<text x="371.8" y="403.9" font-size="6" textLength="21.5" lengthAdjust="spacingAndGlyphs">FMT-AA</text>
<rect x="364.1" y="409.3" width="4.8" height="4.8" fill="#1d4f8b"/>
<text x="371.8" y="413.7" font-size="6" textLength="21.5" lengthAdjust="spacingAndGlyphs">FMT-YA</text>
<text x="284.0" y="427.0" font-size="8" text-anchor="middle" textLength="66.5" lengthAdjust="spacingAndGlyphs" transform="rotate(-90 284.0 427.0)">Percentage of TNC (%)</text>
<text x="294.0" y="427.3" font-size="8" text-anchor="middle" textLength="48.0" lengthAdjust="spacingAndGlyphs" transform="rotate(-90 294.0 427.3)">(donor derived)</text>
<rect x="448.0" y="442.5" width="5.5" height="13.6" fill="#c8163a"/>
<line x1="450.8" y1="442.5" x2="450.8" y2="438.5" stroke="#c8163a" stroke-width="0.8"/>
<line x1="449.2" y1="438.5" x2="452.2" y2="438.5" stroke="#c8163a" stroke-width="0.8"/>
<rect x="455.2" y="420.3" width="5.5" height="35.8" fill="#1d4f8b"/>
<line x1="457.9" y1="420.3" x2="457.9" y2="410.4" stroke="#1d4f8b" stroke-width="0.8"/>
<line x1="456.4" y1="410.4" x2="459.4" y2="410.4" stroke="#1d4f8b" stroke-width="0.8"/>
<line x1="454.4" y1="456.1" x2="454.4" y2="458.6" stroke="#222" stroke-width="0.9"/>
<text x="454.6" y="464.7" font-size="6.8" text-anchor="end" transform="rotate(-45 454.6 464.7)">LSK</text>
<rect x="467.0" y="452.2" width="5.5" height="3.9" fill="#c8163a"/>
<line x1="469.8" y1="452.2" x2="469.8" y2="451.1" stroke="#c8163a" stroke-width="0.8"/>
<line x1="468.2" y1="451.1" x2="471.2" y2="451.1" stroke="#c8163a" stroke-width="0.8"/>
<rect x="474.2" y="440.7" width="5.5" height="15.4" fill="#1d4f8b"/>
<line x1="476.9" y1="440.7" x2="476.9" y2="436.3" stroke="#1d4f8b" stroke-width="0.8"/>
<line x1="475.4" y1="436.3" x2="478.4" y2="436.3" stroke="#1d4f8b" stroke-width="0.8"/>
<line x1="469.2" y1="433.0" x2="477.4" y2="433.0" stroke="#222" stroke-width="0.9"/>
<text x="473.4" y="432.6" font-size="6.5" text-anchor="middle" font-weight="bold" fill="#222">*</text>
<line x1="473.4" y1="456.1" x2="473.4" y2="458.6" stroke="#222" stroke-width="0.9"/>
<text x="473.6" y="464.7" font-size="6.8" text-anchor="end" transform="rotate(-45 473.6 464.7)">LT-HSC</text>
<rect x="486.0" y="452.8" width="5.5" height="3.3" fill="#c8163a"/>
<line x1="488.8" y1="452.8" x2="488.8" y2="450.6" stroke="#c8163a" stroke-width="0.8"/>
<line x1="487.2" y1="450.6" x2="490.2" y2="450.6" stroke="#c8163a" stroke-width="0.8"/>
<rect x="493.2" y="447.3" width="5.5" height="8.8" fill="#1d4f8b"/>
<line x1="495.9" y1="447.3" x2="495.9" y2="443.4" stroke="#1d4f8b" stroke-width="0.8"/>
<line x1="494.4" y1="443.4" x2="497.4" y2="443.4" stroke="#1d4f8b" stroke-width="0.8"/>
<line x1="492.4" y1="456.1" x2="492.4" y2="458.6" stroke="#222" stroke-width="0.9"/>
<text x="492.6" y="464.7" font-size="6.8" text-anchor="end" transform="rotate(-45 492.6 464.7)">ST-HSC</text>
<rect x="505.0" y="450.6" width="5.5" height="5.5" fill="#c8163a"/>
<line x1="507.8" y1="450.6" x2="507.8" y2="450.0" stroke="#c8163a" stroke-width="0.8"/>
<line x1="506.2" y1="450.0" x2="509.2" y2="450.0" stroke="#c8163a" stroke-width="0.8"/>
<rect x="512.2" y="445.1" width="5.5" height="11.0" fill="#1d4f8b"/>
<line x1="515.0" y1="445.1" x2="515.0" y2="443.4" stroke="#1d4f8b" stroke-width="0.8"/>
<line x1="513.5" y1="443.4" x2="516.5" y2="443.4" stroke="#1d4f8b" stroke-width="0.8"/>
<line x1="507.2" y1="441.0" x2="515.5" y2="441.0" stroke="#222" stroke-width="0.9"/>
<text x="511.4" y="440.6" font-size="6.5" text-anchor="middle" font-weight="bold" fill="#222">*</text>
<line x1="511.4" y1="456.1" x2="511.4" y2="458.6" stroke="#222" stroke-width="0.9"/>
<text x="511.6" y="464.7" font-size="6.8" text-anchor="end" transform="rotate(-45 511.6 464.7)">MPP</text>
<line x1="445.2" y1="398.2" x2="445.2" y2="456.1" stroke="#222" stroke-width="1.1"/>
<line x1="445.2" y1="456.1" x2="519.0" y2="456.1" stroke="#222" stroke-width="1.1"/>
<line x1="442.4" y1="456.1" x2="445.2" y2="456.1" stroke="#222" stroke-width="0.9"/>
<text x="438.7" y="458.5" font-size="6.8" text-anchor="end">0</text>
<line x1="442.4" y1="445.1" x2="445.2" y2="445.1" stroke="#222" stroke-width="0.9"/>
<text x="438.7" y="447.5" font-size="6.8" text-anchor="end">1</text>
<line x1="442.4" y1="434.1" x2="445.2" y2="434.1" stroke="#222" stroke-width="0.9"/>
<text x="438.7" y="436.5" font-size="6.8" text-anchor="end">2</text>
<line x1="442.4" y1="423.0" x2="445.2" y2="423.0" stroke="#222" stroke-width="0.9"/>
<text x="438.7" y="425.4" font-size="6.8" text-anchor="end">3</text>
<line x1="442.4" y1="412.0" x2="445.2" y2="412.0" stroke="#222" stroke-width="0.9"/>
<text x="438.7" y="414.4" font-size="6.8" text-anchor="end">4</text>
<line x1="442.4" y1="401.0" x2="445.2" y2="401.0" stroke="#222" stroke-width="0.9"/>
<text x="438.7" y="403.4" font-size="6.8" text-anchor="end">5</text>
<rect x="491" y="399.5" width="4.8" height="4.8" fill="#c8163a"/>
<text x="498.7" y="403.9" font-size="6" textLength="21.5" lengthAdjust="spacingAndGlyphs">FMT-AA</text>
<rect x="491" y="409" width="4.8" height="4.8" fill="#1d4f8b"/>
<text x="498.7" y="413.4" font-size="6" textLength="21.5" lengthAdjust="spacingAndGlyphs">FMT-YA</text>
<text x="419.5" y="427.3" font-size="8" text-anchor="middle" textLength="76.0" lengthAdjust="spacingAndGlyphs" transform="rotate(-90 419.5 427.3)">Absolute cell number per</text>
<text x="429.0" y="427.0" font-size="8" text-anchor="middle" textLength="82.5" lengthAdjust="spacingAndGlyphs" transform="rotate(-90 429.0 427.0)">leg (×10<tspan font-size="5" dy="-2.5">4</tspan><tspan dy="2.5">) (donor derived)</tspan></text>
<text x="414.0" y="530.2" font-size="10" font-weight="bold" fill="#111" stroke="#111" stroke-width="0.4">M</text>
<rect x="448.2" y="572.7" width="5.1" height="33.1" fill="#c8163a"/>
<line x1="450.8" y1="572.7" x2="450.8" y2="570.4" stroke="#c8163a" stroke-width="0.8"/>
<line x1="449.2" y1="570.4" x2="452.2" y2="570.4" stroke="#c8163a" stroke-width="0.8"/>
<rect x="455.0" y="558.0" width="5.1" height="47.8" fill="#1d4f8b"/>
<line x1="457.6" y1="558.0" x2="457.6" y2="554.7" stroke="#1d4f8b" stroke-width="0.8"/>
<line x1="456.1" y1="554.7" x2="459.1" y2="554.7" stroke="#1d4f8b" stroke-width="0.8"/>
<line x1="450.2" y1="553.0" x2="458.1" y2="553.0" stroke="#222" stroke-width="0.9"/>
<text x="454.1" y="552.6" font-size="6.5" text-anchor="middle" font-weight="bold" fill="#222">**</text>
<line x1="454.1" y1="605.8" x2="454.1" y2="608.3" stroke="#222" stroke-width="0.9"/>
<text x="454.3" y="614.4" font-size="6.8" text-anchor="end" transform="rotate(-45 454.3 614.4)">LSK</text>
<rect x="467.0" y="592.0" width="5.1" height="13.8" fill="#c8163a"/>
<line x1="469.6" y1="592.0" x2="469.6" y2="591.3" stroke="#c8163a" stroke-width="0.8"/>
<line x1="468.1" y1="591.3" x2="471.1" y2="591.3" stroke="#c8163a" stroke-width="0.8"/>
<rect x="473.8" y="587.4" width="5.1" height="18.4" fill="#1d4f8b"/>
<line x1="476.4" y1="587.4" x2="476.4" y2="586.5" stroke="#1d4f8b" stroke-width="0.8"/>
<line x1="474.9" y1="586.5" x2="477.9" y2="586.5" stroke="#1d4f8b" stroke-width="0.8"/>
<line x1="469.1" y1="585.5" x2="476.9" y2="585.5" stroke="#222" stroke-width="0.9"/>
<text x="472.9" y="585.1" font-size="6.5" text-anchor="middle" font-weight="bold" fill="#222">**</text>
<line x1="472.9" y1="605.8" x2="472.9" y2="608.3" stroke="#222" stroke-width="0.9"/>
<text x="473.1" y="614.4" font-size="6.8" text-anchor="end" transform="rotate(-45 473.1 614.4)">LT-HSC</text>
<rect x="485.8" y="599.8" width="5.1" height="6.0" fill="#c8163a"/>
<line x1="488.4" y1="599.8" x2="488.4" y2="599.3" stroke="#c8163a" stroke-width="0.8"/>
<line x1="486.9" y1="599.3" x2="489.9" y2="599.3" stroke="#c8163a" stroke-width="0.8"/>
<rect x="492.6" y="593.4" width="5.1" height="12.4" fill="#1d4f8b"/>
<line x1="495.2" y1="593.4" x2="495.2" y2="592.8" stroke="#1d4f8b" stroke-width="0.8"/>
<line x1="493.7" y1="592.8" x2="496.7" y2="592.8" stroke="#1d4f8b" stroke-width="0.8"/>
<line x1="487.9" y1="591.0" x2="495.7" y2="591.0" stroke="#222" stroke-width="0.9"/>
<text x="491.8" y="590.6" font-size="6.5" text-anchor="middle" font-weight="bold" fill="#222">***</text>
<line x1="491.8" y1="605.8" x2="491.8" y2="608.3" stroke="#222" stroke-width="0.9"/>
<text x="491.9" y="614.4" font-size="6.8" text-anchor="end" transform="rotate(-45 491.9 614.4)">ST-HSC</text>
<rect x="504.6" y="596.1" width="5.1" height="9.7" fill="#c8163a"/>
<line x1="507.2" y1="596.1" x2="507.2" y2="595.4" stroke="#c8163a" stroke-width="0.8"/>
<line x1="505.7" y1="595.4" x2="508.7" y2="595.4" stroke="#c8163a" stroke-width="0.8"/>
<rect x="511.4" y="592.9" width="5.1" height="12.9" fill="#1d4f8b"/>
<line x1="514.0" y1="592.9" x2="514.0" y2="591.5" stroke="#1d4f8b" stroke-width="0.8"/>
<line x1="512.5" y1="591.5" x2="515.5" y2="591.5" stroke="#1d4f8b" stroke-width="0.8"/>
<line x1="510.6" y1="605.8" x2="510.6" y2="608.3" stroke="#222" stroke-width="0.9"/>
<text x="510.8" y="614.4" font-size="6.8" text-anchor="end" transform="rotate(-45 510.8 614.4)">MPP</text>
<line x1="445.8" y1="549.0" x2="445.8" y2="605.8" stroke="#222" stroke-width="1.1"/>
<line x1="445.8" y1="605.8" x2="519.0" y2="605.8" stroke="#222" stroke-width="1.1"/>
<line x1="443.0" y1="605.8" x2="445.8" y2="605.8" stroke="#222" stroke-width="0.9"/>
<text x="439.5" y="608.2" font-size="6.8" text-anchor="end">0</text>
<line x1="443.0" y1="587.4" x2="445.8" y2="587.4" stroke="#222" stroke-width="0.9"/>
<text x="439.5" y="589.8" font-size="6.8" text-anchor="end">2</text>
<line x1="443.0" y1="569.0" x2="445.8" y2="569.0" stroke="#222" stroke-width="0.9"/>
<text x="439.5" y="571.4" font-size="6.8" text-anchor="end">4</text>
<line x1="443.0" y1="550.6" x2="445.8" y2="550.6" stroke="#222" stroke-width="0.9"/>
<text x="439.5" y="553.0" font-size="6.8" text-anchor="end">6</text>
<rect x="491" y="549" width="4.8" height="4.8" fill="#c8163a"/>
<text x="498.7" y="553.4" font-size="6" textLength="21.5" lengthAdjust="spacingAndGlyphs">FMT-AA</text>
<rect x="491" y="559" width="4.8" height="4.8" fill="#1d4f8b"/>
<text x="498.7" y="563.4" font-size="6" textLength="21.5" lengthAdjust="spacingAndGlyphs">FMT-YA</text>
<text x="419.5" y="575.6" font-size="8" text-anchor="middle" textLength="76.6" lengthAdjust="spacingAndGlyphs" transform="rotate(-90 419.5 575.6)">Absolute cell number per</text>
<text x="429.0" y="576.4" font-size="8" text-anchor="middle" textLength="83.0" lengthAdjust="spacingAndGlyphs" transform="rotate(-90 429.0 576.4)">leg (×10<tspan font-size="5" dy="-2.5">5</tspan><tspan dy="2.5">) (donor derived)</tspan></text>
<text x="150.0" y="128.2" font-size="10" font-weight="bold" fill="#111" stroke="#111" stroke-width="0.4">D</text>
<line x1="189.4" y1="130.5" x2="197.6" y2="130.5" stroke="#c8163a" stroke-width="1.1"/>
<text x="200.5" y="132.8" font-size="6.5" textLength="63.0" lengthAdjust="spacingAndGlyphs">FMT-AA&#160; HSC: 1/22,734</text>
<line x1="189.4" y1="137.2" x2="197.6" y2="137.2" stroke="#2a5f8a" stroke-width="1.1"/>
<text x="200.5" y="139.5" font-size="6.5" textLength="58.0" lengthAdjust="spacingAndGlyphs">FMT-YA&#160; HSC: 1/5,385</text>
<clipPath id="clip144"><rect x="189.2" y="144" width="74.10000000000002" height="68.80000000000001"/></clipPath>
<g clip-path="url(#clip144)"><line x1="190.5" y1="144.6" x2="263.3" y2="200" stroke="#c8163a" stroke-width="1.1" stroke-dasharray="2.2,1.6"/><line x1="190.5" y1="144.6" x2="234" y2="212.8" stroke="#c8163a" stroke-width="1.1"/><line x1="190.5" y1="144.6" x2="222.6" y2="212.8" stroke="#2a5f8a" stroke-width="1.1" stroke-dasharray="2.2,1.6"/><line x1="190.5" y1="144.6" x2="212.2" y2="212.8" stroke="#c8163a" stroke-width="1.1" stroke-dasharray="2.2,1.6"/><line x1="190.5" y1="144.6" x2="204.4" y2="212.8" stroke="#2a6f8a" stroke-width="1.1"/><line x1="190.5" y1="144.6" x2="196.9" y2="212.8" stroke="#2a5f8a" stroke-width="1.1" stroke-dasharray="2.2,1.6"/></g>
<circle cx="217" cy="190.5" r="0.8" fill="#c8163a"/>
<circle cx="217.5" cy="207.5" r="0.8" fill="#222"/>
<circle cx="260" cy="206" r="0.8" fill="#222"/>
<circle cx="260" cy="210" r="0.8" fill="#222"/>
<path d="M189.2,144 H263.3 V212.8 H189.2 Z" fill="none" stroke="#333" stroke-width="1.3"/>
<line x1="186.2" y1="146.5" x2="189.2" y2="146.5" stroke="#222" stroke-width="0.9"/>
<text x="183.7" y="149.0" font-size="7" text-anchor="end">0.0</text>
<line x1="186.2" y1="158.7" x2="189.2" y2="158.7" stroke="#222" stroke-width="0.9"/>
<text x="183.7" y="161.2" font-size="7" text-anchor="end">-0.5</text>
<line x1="186.2" y1="170.9" x2="189.2" y2="170.9" stroke="#222" stroke-width="0.9"/>
<text x="183.7" y="173.4" font-size="7" text-anchor="end">-1.0</text>
<line x1="186.2" y1="183.1" x2="189.2" y2="183.1" stroke="#222" stroke-width="0.9"/>
<text x="183.7" y="185.6" font-size="7" text-anchor="end">-1.5</text>
<line x1="186.2" y1="195.3" x2="189.2" y2="195.3" stroke="#222" stroke-width="0.9"/>
<text x="183.7" y="197.8" font-size="7" text-anchor="end">-2.0</text>
<line x1="186.2" y1="207.5" x2="189.2" y2="207.5" stroke="#222" stroke-width="0.9"/>
<text x="183.7" y="210.0" font-size="7" text-anchor="end">-2.5</text>
<line x1="192.2" y1="212.8" x2="192.2" y2="214.8" stroke="#222" stroke-width="0.9"/>
<text x="193.2" y="221.3" font-size="6.8" text-anchor="end" transform="rotate(-45 193.2 221.3)">0</text>
<line x1="209.2" y1="212.8" x2="209.2" y2="214.8" stroke="#222" stroke-width="0.9"/>
<text x="210.2" y="221.3" font-size="6.8" text-anchor="end" transform="rotate(-45 210.2 221.3)">50,000</text>
<line x1="226.3" y1="212.8" x2="226.3" y2="214.8" stroke="#222" stroke-width="0.9"/>
<text x="227.3" y="221.3" font-size="6.8" text-anchor="end" transform="rotate(-45 227.3 221.3)">100,000</text>
<line x1="243.3" y1="212.8" x2="243.3" y2="214.8" stroke="#222" stroke-width="0.9"/>
<text x="244.3" y="221.3" font-size="6.8" text-anchor="end" transform="rotate(-45 244.3 221.3)">150,000</text>
<line x1="260.4" y1="212.8" x2="260.4" y2="214.8" stroke="#222" stroke-width="0.9"/>
<text x="261.4" y="221.3" font-size="6.8" text-anchor="end" transform="rotate(-45 261.4 221.3)">200,000</text>
<text x="234.8" y="175.7" font-size="6.5" textLength="20.0" lengthAdjust="spacingAndGlyphs">P &lt; .05</text>
<text x="166.2" y="176.4" font-size="8.3" text-anchor="middle" textLength="86.5" lengthAdjust="spacingAndGlyphs" transform="rotate(-90 166.2 176.4)">Fraction non-engrafted (log)</text>
<text x="191.5" y="247.3" font-size="8.3" textLength="68.0" lengthAdjust="spacingAndGlyphs">Dose (number of cells)</text>
<text x="150.0" y="383.2" font-size="10" font-weight="bold" fill="#111" stroke="#111" stroke-width="0.4">H</text>
<line x1="187.0" y1="385.8" x2="196.0" y2="385.8" stroke="#c8163a" stroke-width="1.1"/>
<text x="200.0" y="388.5" font-size="6.5" textLength="63.0" lengthAdjust="spacingAndGlyphs">FMT-AA&#160; HSC: 1/135,051</text>
<line x1="187.0" y1="392.7" x2="196.0" y2="392.7" stroke="#2a5f8a" stroke-width="1.1"/>
<text x="200.0" y="395.3" font-size="6.5" textLength="61.0" lengthAdjust="spacingAndGlyphs">FMT-YA&#160; HSC: 1/59,506</text>
<clipPath id="clip397"><rect x="189.2" y="397.3" width="73.80000000000001" height="68.89999999999998"/></clipPath>
<g clip-path="url(#clip397)"><line x1="190.6" y1="399.6" x2="263" y2="412.3" stroke="#c8163a" stroke-width="1.1" stroke-dasharray="2.2,1.6"/><line x1="190.6" y1="399.6" x2="263" y2="433.8" stroke="#c8163a" stroke-width="1.1"/><line x1="190.6" y1="399.6" x2="263" y2="451.5" stroke="#2a5f8a" stroke-width="1.1" stroke-dasharray="2.2,1.6"/><line x1="190.6" y1="399.6" x2="243.5" y2="465.4" stroke="#c8163a" stroke-width="1.1" stroke-dasharray="2.2,1.6"/><line x1="190.6" y1="399.6" x2="236.5" y2="465.4" stroke="#2a6f8a" stroke-width="1.1"/><line x1="190.6" y1="399.6" x2="214" y2="465.4" stroke="#2a5f8a" stroke-width="1.1" stroke-dasharray="2.2,1.6"/></g>
<circle cx="200.4" cy="440.4" r="0.8" fill="#333"/>
<circle cx="200.4" cy="399.4" r="0.8" fill="#c8163a"/>
<circle cx="217.3" cy="410.4" r="0.8" fill="#c8163a"/>
<circle cx="260" cy="440.4" r="0.8" fill="#c8163a"/>
<circle cx="260" cy="449.6" r="0.8" fill="#224"/>
<circle cx="217.3" cy="464.2" r="0.8" fill="#333"/>
<path d="M189.2,397.3 H263 V466.2 H189.2 Z" fill="none" stroke="#333" stroke-width="1.3"/>
<line x1="186.2" y1="399.6" x2="189.2" y2="399.6" stroke="#222" stroke-width="0.9"/>
<text x="183.7" y="402.1" font-size="7" text-anchor="end">0.0</text>
<line x1="186.2" y1="411.4" x2="189.2" y2="411.4" stroke="#222" stroke-width="0.9"/>
<text x="183.7" y="413.9" font-size="7" text-anchor="end">-0.2</text>
<line x1="186.2" y1="423.1" x2="189.2" y2="423.1" stroke="#222" stroke-width="0.9"/>
<text x="183.7" y="425.6" font-size="7" text-anchor="end">-0.4</text>
<line x1="186.2" y1="434.9" x2="189.2" y2="434.9" stroke="#222" stroke-width="0.9"/>
<text x="183.7" y="437.4" font-size="7" text-anchor="end">-0.6</text>
<line x1="186.2" y1="446.6" x2="189.2" y2="446.6" stroke="#222" stroke-width="0.9"/>
<text x="183.7" y="449.1" font-size="7" text-anchor="end">-0.8</text>
<line x1="186.2" y1="458.4" x2="189.2" y2="458.4" stroke="#222" stroke-width="0.9"/>
<text x="183.7" y="460.9" font-size="7" text-anchor="end">-1.0</text>
<line x1="190.4" y1="466.2" x2="190.4" y2="468.2" stroke="#222" stroke-width="0.9"/>
<text x="191.4" y="474.7" font-size="6.8" text-anchor="end" transform="rotate(-45 191.4 474.7)">0</text>
<line x1="208.1" y1="466.2" x2="208.1" y2="468.2" stroke="#222" stroke-width="0.9"/>
<text x="209.1" y="474.7" font-size="6.8" text-anchor="end" transform="rotate(-45 209.1 474.7)">50,000</text>
<line x1="225.7" y1="466.2" x2="225.7" y2="468.2" stroke="#222" stroke-width="0.9"/>
<text x="226.7" y="474.7" font-size="6.8" text-anchor="end" transform="rotate(-45 226.7 474.7)">100,000</text>
<line x1="243.3" y1="466.2" x2="243.3" y2="468.2" stroke="#222" stroke-width="0.9"/>
<text x="244.3" y="474.7" font-size="6.8" text-anchor="end" transform="rotate(-45 244.3 474.7)">150,000</text>
<line x1="261.0" y1="466.2" x2="261.0" y2="468.2" stroke="#222" stroke-width="0.9"/>
<text x="262.0" y="474.7" font-size="6.8" text-anchor="end" transform="rotate(-45 262.0 474.7)">200,000</text>
<text x="237.7" y="417.0" font-size="6.5" textLength="20.0" lengthAdjust="spacingAndGlyphs">P &lt; .05</text>
<text x="165.5" y="431.2" font-size="8.3" text-anchor="middle" textLength="84.5" lengthAdjust="spacingAndGlyphs" transform="rotate(-90 165.5 431.2)">Fraction non-engrafted (log)</text>
<text x="192.7" y="502.8" font-size="8.3" textLength="67.0" lengthAdjust="spacingAndGlyphs">Dose (number of cells)</text>
<text x="1.9" y="530.3" font-size="10" font-weight="bold" fill="#111" stroke="#111" stroke-width="0.4">J</text>
<text x="21.2" y="544.8" font-size="7.5" textLength="26.0" lengthAdjust="spacingAndGlyphs">FMT-YA</text>
<text x="21.2" y="553.5" font-size="7.5" textLength="26.0" lengthAdjust="spacingAndGlyphs">FMT-AA</text>
<use href="#mouse" transform="translate(21.5 558.6) scale(0.79)"/>
<text x="21.5" y="582.7" font-size="7.5" textLength="25.6" lengthAdjust="spacingAndGlyphs">CD45.2</text>
<line x1="48.0" y1="566.0" x2="90.1" y2="566.0" stroke="#222" stroke-width="1.1"/>
<polygon points="93.3,566.0 89.3,568.2 89.3,563.8" fill="#222"/>
<text x="51.0" y="563.5" font-size="7.5" textLength="36.5" lengthAdjust="spacingAndGlyphs">Isolate and</text>
<text x="51.0" y="572.3" font-size="7.5" textLength="36.5" lengthAdjust="spacingAndGlyphs">purify cells</text>
<text x="105.0" y="548.1" font-size="7.5" textLength="14.6" lengthAdjust="spacingAndGlyphs">HSC</text>
<circle cx="111.3" cy="557.1" r="3.5" fill="none" stroke="#333" stroke-width="1.25"/>
<circle cx="111.3" cy="557.1" r="1.45" fill="#3a3a3a"/>
<circle cx="104.2" cy="567.3" r="3.5" fill="none" stroke="#333" stroke-width="1.25"/>
<circle cx="104.2" cy="567.3" r="1.45" fill="#3a3a3a"/>
<circle cx="120" cy="564.8" r="3.5" fill="none" stroke="#333" stroke-width="1.25"/>
<circle cx="120" cy="564.8" r="1.45" fill="#3a3a3a"/>
<circle cx="113.3" cy="574.4" r="3.5" fill="none" stroke="#333" stroke-width="1.25"/>
<circle cx="113.3" cy="574.4" r="1.45" fill="#3a3a3a"/>
<line x1="129.2" y1="565.8" x2="146.0" y2="565.8" stroke="#222" stroke-width="1.1"/>
<polygon points="149.2,565.8 145.2,568.0 145.2,563.6" fill="#222"/>
<text x="147.3" y="554.6" font-size="7.5" textLength="34.2" lengthAdjust="spacingAndGlyphs">CFU assay</text>
<ellipse cx="165.2" cy="566.3" rx="9.6" ry="6.4" fill="#bdbdbd" stroke="#8a8a8a" stroke-width="0.7"/>
<ellipse cx="165.2" cy="565.3" rx="8.3" ry="4.6" fill="#d4d4d4" stroke="#a8a8a8" stroke-width="0.5"/>
<ellipse cx="165.2" cy="565.3" rx="6" ry="3.2" fill="none" stroke="#b0b0b0" stroke-width="0.5"/>
<ellipse cx="165.2" cy="565.3" rx="3.5" ry="1.8" fill="none" stroke="#b8b8b8" stroke-width="0.5"/>
<line x1="113.7" y1="580.0" x2="113.7" y2="593.5" stroke="#222" stroke-width="1.1"/>
<polygon points="113.7,596.7 111.5,592.7 115.9,592.7" fill="#222"/>
<text x="116.2" y="590.8" font-size="7.5" textLength="72.1" lengthAdjust="spacingAndGlyphs">Transplantation assay</text>
<path d="M102.2,597.2 L104.2,596.4 L108.2,605.8 L106.4,606.6 Z" fill="#f0892a"/>
<use href="#mouse" transform="translate(107.2 607.6) scale(0.6)"/>
<g transform="translate(125.2 600.2) scale(-0.65 0.65)"><use href="#syr"/></g>
<text x="100.8" y="630.4" font-size="7.5" textLength="25.0" lengthAdjust="spacingAndGlyphs">CD45.1</text>
<line x1="129.6" y1="613.5" x2="145.6" y2="613.5" stroke="#222" stroke-width="1.1"/>
<polygon points="148.8,613.5 144.8,615.7 144.8,611.3" fill="#222"/>
<text x="156.5" y="611.2" font-size="7.5" textLength="25.0" lengthAdjust="spacingAndGlyphs">Analyze</text>
<text x="147.9" y="618.8" font-size="7.5" textLength="42.3" lengthAdjust="spacingAndGlyphs">engraftment</text>
<text x="201.6" y="530.2" font-size="10" font-weight="bold" fill="#111" stroke="#111" stroke-width="0.4">K</text>
<rect x="237" y="582.2" width="15" height="23.8" fill="#e8806c"/>
<rect x="261" y="566.8" width="14.5" height="39.2" fill="#8a9ac8"/>
<line x1="244.5" y1="582.2" x2="244.5" y2="579.6" stroke="#c03030" stroke-width="0.8"/>
<line x1="242.5" y1="579.6" x2="246.5" y2="579.6" stroke="#c03030" stroke-width="0.8"/>
<line x1="268.0" y1="566.8" x2="268.0" y2="563.5" stroke="#1d4f8b" stroke-width="0.8"/>
<line x1="266.0" y1="563.5" x2="270.0" y2="563.5" stroke="#1d4f8b" stroke-width="0.8"/>
<circle cx="240" cy="584.0" r="1.1" fill="#c8163a"/>
<circle cx="242.5" cy="582.9" r="1.1" fill="#c8163a"/>
<circle cx="245" cy="583.3" r="1.1" fill="#c8163a"/>
<circle cx="248" cy="582.5" r="1.1" fill="#c8163a"/>
<circle cx="244.5" cy="578.5" r="1.1" fill="#c8163a"/>
<circle cx="241.5" cy="581.4" r="1.1" fill="#c8163a"/>
<circle cx="247" cy="581.1" r="1.1" fill="#c8163a"/>
<circle cx="244" cy="574.5" r="1.1" fill="#c8163a"/>
<circle cx="264" cy="567.9" r="1.1" fill="#1d4f8b"/>
<circle cx="266" cy="564.9" r="1.1" fill="#1d4f8b"/>
<circle cx="268.5" cy="569.3" r="1.1" fill="#1d4f8b"/>
<circle cx="271" cy="565.7" r="1.1" fill="#1d4f8b"/>
<circle cx="267" cy="573.0" r="1.1" fill="#1d4f8b"/>
<circle cx="272" cy="560.2" r="1.1" fill="#1d4f8b"/>
<circle cx="265" cy="561.3" r="1.1" fill="#1d4f8b"/>
<circle cx="270" cy="566.4" r="1.1" fill="#1d4f8b"/>
<line x1="229.0" y1="548.0" x2="229.0" y2="606.0" stroke="#333" stroke-width="1.1"/>
<line x1="229.0" y1="606.0" x2="284.0" y2="606.0" stroke="#333" stroke-width="1.1"/>
<line x1="227.0" y1="606.0" x2="229.0" y2="606.0" stroke="#333" stroke-width="0.9"/>
<text x="225.5" y="608.5" font-size="7" text-anchor="end">0</text>
<line x1="227.0" y1="587.7" x2="229.0" y2="587.7" stroke="#333" stroke-width="0.9"/>
<text x="225.5" y="590.2" font-size="7" text-anchor="end">50</text>
<line x1="227.0" y1="569.3" x2="229.0" y2="569.3" stroke="#333" stroke-width="0.9"/>
<text x="225.5" y="571.8" font-size="7" text-anchor="end">100</text>
<line x1="227.0" y1="551.0" x2="229.0" y2="551.0" stroke="#333" stroke-width="0.9"/>
<text x="225.5" y="553.5" font-size="7" text-anchor="end">150</text>
<line x1="245.0" y1="553.0" x2="268.0" y2="553.0" stroke="#222" stroke-width="0.8"/>
<text x="256.5" y="552.5" font-size="7" text-anchor="middle" font-weight="bold">***</text>
<text x="206.0" y="578.0" font-size="7.5" text-anchor="middle" textLength="42.0" lengthAdjust="spacingAndGlyphs" transform="rotate(-90 206.0 578.0)">Total colonies</text>
<line x1="244.5" y1="606.0" x2="244.5" y2="608.0" stroke="#333" stroke-width="0.8"/>
<line x1="268.0" y1="606.0" x2="268.0" y2="608.0" stroke="#333" stroke-width="0.8"/>
<text x="244.2" y="614.3" font-size="6.3" text-anchor="end" textLength="21.0" lengthAdjust="spacingAndGlyphs" transform="rotate(-45 244.2 614.3)">FMT-AA</text>
<text x="267.7" y="614.3" font-size="6.3" text-anchor="end" textLength="21.0" lengthAdjust="spacingAndGlyphs" transform="rotate(-45 267.7 614.3)">FMT-YA</text>
</svg></body></html>
